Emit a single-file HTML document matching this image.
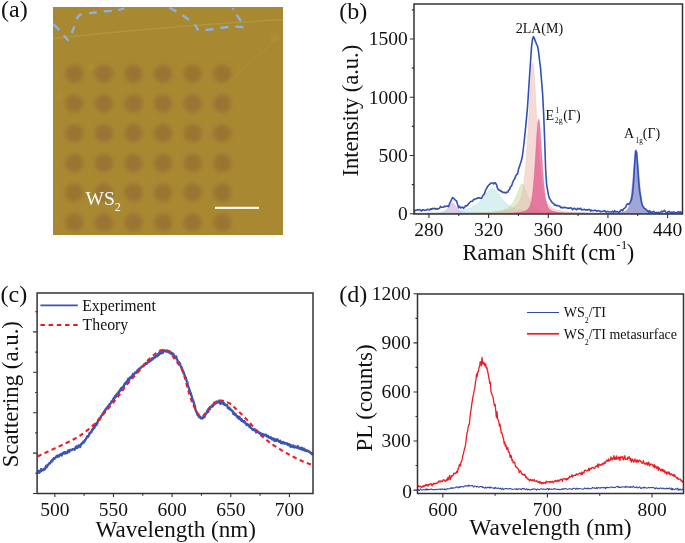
<!DOCTYPE html>
<html><head><meta charset="utf-8"><title>Figure</title>
<style>html,body{margin:0;padding:0;background:#fff;} svg{display:block;}</style></head>
<body><svg style="will-change:transform" width="685" height="543" viewBox="0 0 685 543">
<rect width="685" height="543" fill="#fff"/>
<defs><filter id="bl" x="-50%" y="-50%" width="200%" height="200%"><feGaussianBlur stdDeviation="2.0"/></filter><filter id="bl2" x="-50%" y="-50%" width="200%" height="200%"><feGaussianBlur stdDeviation="0.6"/></filter><clipPath id="ca"><rect x="53" y="7" width="230" height="228"/></clipPath></defs>
<rect x="53" y="7" width="230" height="228" fill="#a88932"/>
<g clip-path="url(#ca)">
<path d="M53,38.6 Q165,26 283,19.6" stroke="#c0a850" stroke-width="1.2" fill="none" opacity="0.45" filter="url(#bl2)"/>
<path d="M214,95 L262,52 L280,36" stroke="#bca04e" stroke-width="1" fill="none" opacity="0.35" filter="url(#bl2)"/>
<path d="M259,36 L259.5,235" stroke="#b49a4c" stroke-width="1" fill="none" opacity="0.12" filter="url(#bl2)"/>
<g filter="url(#bl)" fill="#c0b050" opacity="0.35"><circle cx="91.5" cy="67.2" r="2.5"/><circle cx="60.5" cy="96.4" r="2.2"/><circle cx="273.6" cy="37.4" r="2.5"/></g>
<g filter="url(#bl)" fill="#9a7432">
<circle cx="74.3" cy="73.8" r="9.2"/>
<circle cx="103.9" cy="73.8" r="9.2"/>
<circle cx="133.5" cy="73.8" r="9.2"/>
<circle cx="163.10000000000002" cy="73.8" r="9.2"/>
<circle cx="192.7" cy="73.8" r="9.2"/>
<circle cx="222.3" cy="73.8" r="9.2"/>
<circle cx="74.3" cy="103.53999999999999" r="9.2"/>
<circle cx="103.9" cy="103.53999999999999" r="9.2"/>
<circle cx="133.5" cy="103.53999999999999" r="9.2"/>
<circle cx="163.10000000000002" cy="103.53999999999999" r="9.2"/>
<circle cx="192.7" cy="103.53999999999999" r="9.2"/>
<circle cx="222.3" cy="103.53999999999999" r="9.2"/>
<circle cx="74.3" cy="133.28" r="9.2"/>
<circle cx="103.9" cy="133.28" r="9.2"/>
<circle cx="133.5" cy="133.28" r="9.2"/>
<circle cx="163.10000000000002" cy="133.28" r="9.2"/>
<circle cx="192.7" cy="133.28" r="9.2"/>
<circle cx="222.3" cy="133.28" r="9.2"/>
<circle cx="74.3" cy="163.01999999999998" r="9.2"/>
<circle cx="103.9" cy="163.01999999999998" r="9.2"/>
<circle cx="133.5" cy="163.01999999999998" r="9.2"/>
<circle cx="163.10000000000002" cy="163.01999999999998" r="9.2"/>
<circle cx="192.7" cy="163.01999999999998" r="9.2"/>
<circle cx="222.3" cy="163.01999999999998" r="9.2"/>
<circle cx="74.3" cy="192.76" r="9.2"/>
<circle cx="103.9" cy="192.76" r="9.2"/>
<circle cx="133.5" cy="192.76" r="9.2"/>
<circle cx="163.10000000000002" cy="192.76" r="9.2"/>
<circle cx="192.7" cy="192.76" r="9.2"/>
<circle cx="222.3" cy="192.76" r="9.2"/>
<circle cx="74.3" cy="222.5" r="9.2"/>
<circle cx="103.9" cy="222.5" r="9.2"/>
<circle cx="133.5" cy="222.5" r="9.2"/>
<circle cx="163.10000000000002" cy="222.5" r="9.2"/>
<circle cx="192.7" cy="222.5" r="9.2"/>
<circle cx="222.3" cy="222.5" r="9.2"/>
</g>
<path d="M53.4,24.1 L59.3,30 M63.7,35.2 L68.5,40.7 M71.8,33 L74.4,26.4 M76.6,19 Q78.2,15.4 81.7,14.2 M89.1,13.1 L96.8,12.4 M103.8,11.4 L111.7,10.8 M118.4,10 L124.2,8.3 M169.4,7.7 L176.5,11.5 M182.4,15.1 L188.9,19.8 M194.5,24.5 Q196.6,26.6 197.4,28.9 L198.3,30.4 M205.5,30 L213.5,29.1 M220.4,28 L228.5,26.9 M235.4,26.7 L243.4,27.1 M240.9,21.2 L236.5,14.7 M233.6,8.3 L232.6,9.6" stroke="#8ab2ea" stroke-width="2.3" fill="none" stroke-linecap="butt" filter="url(#bl2)"/>
</g>
<text x="85.5" y="204.5" font-family='"Liberation Serif", serif' font-size="19.5" fill="#fff">WS<tspan font-size="12" dy="6">2</tspan></text>
<rect x="215" y="206.8" width="44" height="2.1" fill="#fff"/>
<text x="1.0" y="17.2" font-family='"Liberation Serif", serif' font-size="24" fill="#111">(a)</text>
<text x="339.3" y="18.6" font-family='"Liberation Serif", serif' font-size="24" fill="#111">(b)</text>
<text x="0.6" y="301.8" font-family='"Liberation Serif", serif' font-size="24" fill="#111">(c)</text>
<text x="339.3" y="301.8" font-family='"Liberation Serif", serif' font-size="24" fill="#111">(d)</text>
<defs><clipPath id="cb"><rect x="413.8" y="4" width="268.6" height="209.8"/></clipPath></defs>
<g clip-path="url(#cb)">
<path d="M414.00,213.38 L414.30,213.37 L414.60,213.37 L414.90,213.37 L415.19,213.37 L415.49,213.37 L415.79,213.36 L416.09,213.36 L416.39,213.36 L416.69,213.36 L416.99,213.36 L417.29,213.36 L417.58,213.35 L417.88,213.35 L418.18,213.35 L418.48,213.35 L418.78,213.35 L419.08,213.34 L419.38,213.34 L419.67,213.34 L419.97,213.34 L420.27,213.34 L420.57,213.33 L420.87,213.33 L421.17,213.33 L421.47,213.33 L421.77,213.33 L422.06,213.33 L422.36,213.32 L422.66,213.32 L422.96,213.32 L423.26,213.32 L423.56,213.32 L423.86,213.31 L424.15,213.31 L424.45,213.31 L424.75,213.31 L425.05,213.30 L425.35,213.30 L425.65,213.30 L425.95,213.30 L426.25,213.30 L426.54,213.29 L426.84,213.29 L427.14,213.29 L427.44,213.29 L427.74,213.29 L428.04,213.28 L428.34,213.28 L428.63,213.28 L428.93,213.28 L429.23,213.27 L429.53,213.27 L429.83,213.27 L430.13,213.27 L430.43,213.26 L430.73,213.26 L431.02,213.26 L431.32,213.26 L431.62,213.26 L431.92,213.25 L432.22,213.25 L432.52,213.25 L432.82,213.25 L433.11,213.24 L433.41,213.24 L433.71,213.24 L434.01,213.24 L434.31,213.23 L434.61,213.23 L434.91,213.23 L435.21,213.23 L435.50,213.22 L435.80,213.22 L436.10,213.22 L436.40,213.22 L436.70,213.21 L437.00,213.21 L437.30,213.21 L437.59,213.21 L437.89,213.20 L438.19,213.20 L438.49,213.20 L438.79,213.19 L439.09,213.19 L439.39,213.19 L439.69,213.19 L439.98,213.18 L440.28,213.18 L440.58,213.18 L440.88,213.18 L441.18,213.17 L441.48,213.17 L441.78,213.17 L442.07,213.16 L442.37,213.16 L442.67,213.16 L442.97,213.15 L443.27,213.15 L443.57,213.15 L443.87,213.15 L444.17,213.14 L444.46,213.14 L444.76,213.14 L445.06,213.13 L445.36,213.13 L445.66,213.13 L445.96,213.12 L446.26,213.12 L446.55,213.12 L446.85,213.12 L447.15,213.11 L447.45,213.11 L447.75,213.11 L448.05,213.10 L448.35,213.10 L448.65,213.10 L448.94,213.09 L449.24,213.09 L449.54,213.09 L449.84,213.08 L450.14,213.08 L450.44,213.08 L450.74,213.07 L451.03,213.07 L451.33,213.07 L451.63,213.06 L451.93,213.06 L452.23,213.06 L452.53,213.05 L452.83,213.05 L453.13,213.05 L453.42,213.04 L453.72,213.04 L454.02,213.03 L454.32,213.03 L454.62,213.03 L454.92,213.02 L455.22,213.02 L455.51,213.02 L455.81,213.01 L456.11,213.01 L456.41,213.01 L456.71,213.00 L457.01,213.00 L457.31,212.99 L457.61,212.99 L457.90,212.99 L458.20,212.98 L458.50,212.98 L458.80,212.98 L459.10,212.97 L459.40,212.97 L459.70,212.96 L459.99,212.96 L460.29,212.96 L460.59,212.95 L460.89,212.95 L461.19,212.94 L461.49,212.94 L461.79,212.94 L462.09,212.93 L462.38,212.93 L462.68,212.92 L462.98,212.92 L463.28,212.91 L463.58,212.91 L463.88,212.91 L464.18,212.90 L464.47,212.90 L464.77,212.89 L465.07,212.89 L465.37,212.89 L465.67,212.88 L465.97,212.88 L466.27,212.87 L466.57,212.87 L466.86,212.86 L467.16,212.86 L467.46,212.85 L467.76,212.85 L468.06,212.85 L468.36,212.84 L468.66,212.84 L468.95,212.83 L469.25,212.83 L469.55,212.82 L469.85,212.82 L470.15,212.81 L470.45,212.81 L470.75,212.80 L471.05,212.80 L471.34,212.80 L471.64,212.79 L471.94,212.79 L472.24,212.78 L472.54,212.78 L472.84,212.77 L473.14,212.77 L473.43,212.76 L473.73,212.76 L474.03,212.75 L474.33,212.75 L474.63,212.74 L474.93,212.74 L475.23,212.73 L475.53,212.73 L475.82,212.72 L476.12,212.72 L476.42,212.71 L476.72,212.71 L477.02,212.70 L477.32,212.70 L477.62,212.69 L477.91,212.69 L478.21,212.68 L478.51,212.68 L478.81,212.67 L479.11,212.67 L479.41,212.66 L479.71,212.66 L480.01,212.65 L480.30,212.65 L480.60,212.64 L480.90,212.64 L481.20,212.63 L481.50,212.63 L481.80,212.62 L482.10,212.62 L482.39,212.61 L482.69,212.61 L482.99,212.60 L483.29,212.60 L483.59,212.59 L483.89,212.58 L484.19,212.58 L484.48,212.57 L484.78,212.57 L485.08,212.56 L485.38,212.56 L485.68,212.55 L485.98,212.55 L486.28,212.54 L486.58,212.54 L486.87,212.53 L487.17,212.53 L487.47,212.52 L487.77,212.52 L488.07,212.51 L488.37,212.50 L488.67,212.50 L488.96,212.49 L489.26,212.49 L489.56,212.48 L489.86,212.48 L490.16,212.47 L490.46,212.47 L490.76,212.46 L491.06,212.46 L491.35,212.45 L491.65,212.45 L491.95,212.44 L492.25,212.44 L492.55,212.43 L492.85,212.42 L493.15,212.42 L493.44,212.41 L493.74,212.41 L494.04,212.40 L494.34,212.40 L494.64,212.39 L494.94,212.39 L495.24,212.38 L495.54,212.38 L495.83,212.37 L496.13,212.37 L496.43,212.36 L496.73,212.36 L497.03,212.35 L497.33,212.35 L497.63,212.34 L497.92,212.34 L498.22,212.33 L498.52,212.33 L498.82,212.32 L499.12,212.32 L499.42,212.31 L499.72,212.31 L500.02,212.30 L500.31,212.30 L500.61,212.29 L500.91,212.29 L501.21,212.28 L501.51,212.28 L501.81,212.27 L502.11,212.27 L502.40,212.26 L502.70,212.26 L503.00,212.25 L503.30,212.25 L503.60,212.24 L503.90,212.24 L504.20,212.23 L504.50,212.23 L504.79,212.23 L505.09,212.22 L505.39,212.22 L505.69,212.21 L505.99,212.21 L506.29,212.20 L506.59,212.20 L506.88,212.20 L507.18,212.19 L507.48,212.19 L507.78,212.18 L508.08,212.18 L508.38,212.18 L508.68,212.17 L508.98,212.17 L509.27,212.16 L509.57,212.16 L509.87,212.16 L510.17,212.15 L510.47,212.15 L510.77,212.15 L511.07,212.14 L511.36,212.14 L511.66,212.14 L511.96,212.13 L512.26,212.13 L512.56,212.13 L512.86,212.12 L513.16,212.12 L513.46,212.12 L513.75,212.11 L514.05,212.11 L514.35,212.11 L514.65,212.10 L514.95,212.10 L515.25,212.10 L515.55,212.10 L515.84,212.09 L516.14,212.09 L516.44,212.09 L516.74,212.09 L517.04,212.08 L517.34,212.08 L517.64,212.08 L517.94,212.08 L518.23,212.08 L518.53,212.07 L518.83,212.07 L519.13,212.07 L519.43,212.07 L519.73,212.07 L520.03,212.07 L520.32,212.06 L520.62,212.06 L520.92,212.06 L521.22,212.06 L521.52,212.06 L521.82,212.06 L522.12,212.06 L522.42,212.06 L522.71,212.06 L523.01,212.06 L523.31,212.05 L523.61,212.05 L523.91,212.05 L524.21,212.05 L524.51,212.05 L524.80,212.05 L525.10,212.05 L525.40,212.05 L525.70,212.05 L526.00,212.05 L526.30,212.05 L526.60,212.05 L526.90,212.05 L527.19,212.05 L527.49,212.05 L527.79,212.05 L528.09,212.05 L528.39,212.05 L528.69,212.06 L528.99,212.06 L529.28,212.06 L529.58,212.06 L529.88,212.06 L530.18,212.06 L530.48,212.06 L530.78,212.06 L531.08,212.06 L531.38,212.06 L531.67,212.07 L531.97,212.07 L532.27,212.07 L532.57,212.07 L532.87,212.07 L533.17,212.07 L533.47,212.08 L533.76,212.08 L534.06,212.08 L534.36,212.08 L534.66,212.08 L534.96,212.09 L535.26,212.09 L535.56,212.09 L535.86,212.09 L536.15,212.10 L536.45,212.10 L536.75,212.10 L537.05,212.10 L537.35,212.11 L537.65,212.11 L537.95,212.11 L538.24,212.12 L538.54,212.12 L538.84,212.12 L539.14,212.13 L539.44,212.13 L539.74,212.13 L540.04,212.13 L540.34,212.14 L540.63,212.14 L540.93,212.15 L541.23,212.15 L541.53,212.15 L541.83,212.16 L542.13,212.16 L542.43,212.16 L542.72,212.17 L543.02,212.17 L543.32,212.17 L543.62,212.18 L543.92,212.18 L544.22,212.19 L544.52,212.19 L544.82,212.19 L545.11,212.20 L545.41,212.20 L545.71,212.21 L546.01,212.21 L546.31,212.22 L546.61,212.22 L546.91,212.22 L547.20,212.23 L547.50,212.23 L547.80,212.24 L548.10,212.24 L548.40,212.25 L548.70,212.25 L549.00,212.26 L549.30,212.26 L549.59,212.27 L549.89,212.27 L550.19,212.28 L550.49,212.28 L550.79,212.29 L551.09,212.29 L551.39,212.30 L551.68,212.30 L551.98,212.31 L552.28,212.31 L552.58,212.32 L552.88,212.32 L553.18,212.33 L553.48,212.33 L553.78,212.34 L554.07,212.34 L554.37,212.35 L554.67,212.35 L554.97,212.36 L555.27,212.36 L555.57,212.37 L555.87,212.37 L556.16,212.38 L556.46,212.38 L556.76,212.39 L557.06,212.39 L557.36,212.40 L557.66,212.40 L557.96,212.41 L558.26,212.41 L558.55,212.42 L558.85,212.42 L559.15,212.43 L559.45,212.43 L559.75,212.44 L560.05,212.45 L560.35,212.45 L560.64,212.46 L560.94,212.46 L561.24,212.47 L561.54,212.47 L561.84,212.48 L562.14,212.48 L562.44,212.49 L562.74,212.49 L563.03,212.50 L563.33,212.50 L563.63,212.51 L563.93,212.51 L564.23,212.52 L564.53,212.53 L564.83,212.53 L565.12,212.54 L565.42,212.54 L565.72,212.55 L566.02,212.55 L566.32,212.56 L566.62,212.56 L566.92,212.57 L567.22,212.57 L567.51,212.58 L567.81,212.58 L568.11,212.59 L568.41,212.59 L568.71,212.60 L569.01,212.60 L569.31,212.61 L569.60,212.62 L569.90,212.62 L570.20,212.63 L570.50,212.63 L570.80,212.64 L571.10,212.64 L571.40,212.65 L571.70,212.65 L571.99,212.66 L572.29,212.66 L572.59,212.67 L572.89,212.67 L573.19,212.68 L573.49,212.68 L573.79,212.69 L574.08,212.69 L574.38,212.70 L574.68,212.70 L574.98,212.71 L575.28,212.71 L575.58,212.72 L575.88,212.72 L576.18,212.73 L576.47,212.73 L576.77,212.74 L577.07,212.74 L577.37,212.75 L577.67,212.75 L577.97,212.76 L578.27,212.76 L578.56,212.77 L578.86,212.77 L579.16,212.78 L579.46,212.78 L579.76,212.78 L580.06,212.79 L580.36,212.79 L580.66,212.80 L580.95,212.80 L581.25,212.81 L581.55,212.81 L581.85,212.82 L582.15,212.82 L582.45,212.83 L582.75,212.83 L583.04,212.84 L583.34,212.84 L583.64,212.84 L583.94,212.85 L584.24,212.85 L584.54,212.86 L584.84,212.86 L585.14,212.87 L585.43,212.87 L585.73,212.88 L586.03,212.88 L586.33,212.88 L586.63,212.89 L586.93,212.89 L587.23,212.90 L587.52,212.90 L587.82,212.91 L588.12,212.91 L588.42,212.91 L588.72,212.92 L589.02,212.92 L589.32,212.93 L589.62,212.93 L589.91,212.93 L590.21,212.94 L590.51,212.94 L590.81,212.95 L591.11,212.95 L591.41,212.95 L591.71,212.96 L592.00,212.96 L592.30,212.97 L592.60,212.97 L592.90,212.97 L593.20,212.98 L593.50,212.98 L593.80,212.99 L594.10,212.99 L594.39,212.99 L594.69,213.00 L594.99,213.00 L595.29,213.00 L595.59,213.01 L595.89,213.01 L596.19,213.02 L596.48,213.02 L596.78,213.02 L597.08,213.03 L597.38,213.03 L597.68,213.03 L597.98,213.04 L598.28,213.04 L598.58,213.04 L598.87,213.05 L599.17,213.05 L599.47,213.06 L599.77,213.06 L600.07,213.06 L600.37,213.07 L600.67,213.07 L600.96,213.07 L601.26,213.08 L601.56,213.08 L601.86,213.08 L602.16,213.09 L602.46,213.09 L602.76,213.09 L603.06,213.10 L603.35,213.10 L603.65,213.10 L603.95,213.11 L604.25,213.11 L604.55,213.11 L604.85,213.11 L605.15,213.12 L605.44,213.12 L605.74,213.12 L606.04,213.13 L606.34,213.13 L606.64,213.13 L606.94,213.14 L607.24,213.14 L607.54,213.14 L607.83,213.15 L608.13,213.15 L608.43,213.15 L608.73,213.15 L609.03,213.16 L609.33,213.16 L609.63,213.16 L609.92,213.17 L610.22,213.17 L610.52,213.17 L610.82,213.17 L611.12,213.18 L611.42,213.18 L611.72,213.18 L612.02,213.19 L612.31,213.19 L612.61,213.19 L612.91,213.19 L613.21,213.20 L613.51,213.20 L613.81,213.20 L614.11,213.20 L614.40,213.21 L614.70,213.21 L615.00,213.21 L615.30,213.22 L615.60,213.22 L615.90,213.22 L616.20,213.22 L616.49,213.23 L616.79,213.23 L617.09,213.23 L617.39,213.23 L617.69,213.24 L617.99,213.24 L618.29,213.24 L618.59,213.24 L618.88,213.25 L619.18,213.25 L619.48,213.25 L619.78,213.25 L620.08,213.26 L620.38,213.26 L620.68,213.26 L620.97,213.26 L621.27,213.26 L621.57,213.27 L621.87,213.27 L622.17,213.27 L622.47,213.27 L622.77,213.28 L623.07,213.28 L623.36,213.28 L623.66,213.28 L623.96,213.28 L624.26,213.29 L624.56,213.29 L624.86,213.29 L625.16,213.29 L625.45,213.30 L625.75,213.30 L626.05,213.30 L626.35,213.30 L626.65,213.30 L626.95,213.31 L627.25,213.31 L627.55,213.31 L627.84,213.31 L628.14,213.31 L628.44,213.32 L628.74,213.32 L629.04,213.32 L629.34,213.32 L629.64,213.32 L629.93,213.33 L630.23,213.33 L630.53,213.33 L630.83,213.33 L631.13,213.33 L631.43,213.34 L631.73,213.34 L632.03,213.34 L632.32,213.34 L632.62,213.34 L632.92,213.35 L633.22,213.35 L633.52,213.35 L633.82,213.35 L634.12,213.35 L634.41,213.36 L634.71,213.36 L635.01,213.36 L635.31,213.36 L635.61,213.36 L635.91,213.36 L636.21,213.37 L636.51,213.37 L636.80,213.37 L637.10,213.37 L637.40,213.37 L637.70,213.37 L638.00,213.38 L638.30,213.38 L638.60,213.38 L638.89,213.38 L639.19,213.38 L639.49,213.38 L639.79,213.39 L640.09,213.39 L640.39,213.39 L640.69,213.39 L640.99,213.39 L641.28,213.39 L641.58,213.40 L641.88,213.40 L642.18,213.40 L642.48,213.40 L642.78,213.40 L643.08,213.40 L643.37,213.41 L643.67,213.41 L643.97,213.41 L644.27,213.41 L644.57,213.41 L644.87,213.41 L645.17,213.41 L645.47,213.42 L645.76,213.42 L646.06,213.42 L646.36,213.42 L646.66,213.42 L646.96,213.42 L647.26,213.43 L647.56,213.43 L647.85,213.43 L648.15,213.43 L648.45,213.43 L648.75,213.43 L649.05,213.43 L649.35,213.44 L649.65,213.44 L649.95,213.44 L650.24,213.44 L650.54,213.44 L650.84,213.44 L651.14,213.44 L651.44,213.44 L651.74,213.45 L652.04,213.45 L652.33,213.45 L652.63,213.45 L652.93,213.45 L653.23,213.45 L653.53,213.45 L653.83,213.46 L654.13,213.46 L654.43,213.46 L654.72,213.46 L655.02,213.46 L655.32,213.46 L655.62,213.46 L655.92,213.46 L656.22,213.47 L656.52,213.47 L656.81,213.47 L657.11,213.47 L657.41,213.47 L657.71,213.47 L658.01,213.47 L658.31,213.47 L658.61,213.48 L658.91,213.48 L659.20,213.48 L659.50,213.48 L659.80,213.48 L660.10,213.48 L660.40,213.48 L660.70,213.48 L661.00,213.48 L661.29,213.49 L661.59,213.49 L661.89,213.49 L662.19,213.49 L662.49,213.49 L662.79,213.49 L663.09,213.49 L663.39,213.49 L663.68,213.49 L663.98,213.50 L664.28,213.50 L664.58,213.50 L664.88,213.50 L665.18,213.50 L665.48,213.50 L665.77,213.50 L666.07,213.50 L666.37,213.50 L666.67,213.51 L666.97,213.51 L667.27,213.51 L667.57,213.51 L667.87,213.51 L668.16,213.51 L668.46,213.51 L668.76,213.51 L669.06,213.51 L669.36,213.51 L669.66,213.52 L669.96,213.52 L670.25,213.52 L670.55,213.52 L670.85,213.52 L671.15,213.52 L671.45,213.52 L671.75,213.52 L672.05,213.52 L672.35,213.52 L672.64,213.53 L672.94,213.53 L673.24,213.53 L673.54,213.53 L673.84,213.53 L674.14,213.53 L674.44,213.53 L674.73,213.53 L675.03,213.53 L675.33,213.53 L675.63,213.53 L675.93,213.54 L676.23,213.54 L676.53,213.54 L676.83,213.54 L677.12,213.54 L677.42,213.54 L677.72,213.54 L678.02,213.54 L678.32,213.54 L678.62,213.54 L678.92,213.54 L679.21,213.54 L679.51,213.55 L679.81,213.55 L680.11,213.55 L680.41,213.55 L680.71,213.55 L681.01,213.55 L681.31,213.55 L681.60,213.55 L681.90,213.55 L682.20,213.55 L682.50,213.55 L682.50,213.80 L414.00,213.80 Z" fill="#8c7898" fill-opacity="0.45" stroke="#8c7898" stroke-opacity="0.6" stroke-width="0.5"/>
<path d="M414.00,213.65 L414.30,213.65 L414.60,213.64 L414.90,213.64 L415.19,213.64 L415.49,213.64 L415.79,213.63 L416.09,213.63 L416.39,213.63 L416.69,213.63 L416.99,213.62 L417.29,213.62 L417.58,213.62 L417.88,213.61 L418.18,213.61 L418.48,213.61 L418.78,213.60 L419.08,213.60 L419.38,213.60 L419.67,213.59 L419.97,213.59 L420.27,213.59 L420.57,213.58 L420.87,213.58 L421.17,213.57 L421.47,213.57 L421.77,213.57 L422.06,213.56 L422.36,213.56 L422.66,213.55 L422.96,213.55 L423.26,213.54 L423.56,213.54 L423.86,213.53 L424.15,213.53 L424.45,213.52 L424.75,213.51 L425.05,213.51 L425.35,213.50 L425.65,213.50 L425.95,213.49 L426.25,213.48 L426.54,213.47 L426.84,213.47 L427.14,213.46 L427.44,213.45 L427.74,213.44 L428.04,213.43 L428.34,213.43 L428.63,213.42 L428.93,213.41 L429.23,213.40 L429.53,213.39 L429.83,213.38 L430.13,213.37 L430.43,213.36 L430.73,213.34 L431.02,213.33 L431.32,213.32 L431.62,213.31 L431.92,213.29 L432.22,213.28 L432.52,213.26 L432.82,213.25 L433.11,213.23 L433.41,213.21 L433.71,213.20 L434.01,213.18 L434.31,213.16 L434.61,213.14 L434.91,213.12 L435.21,213.10 L435.50,213.07 L435.80,213.05 L436.10,213.02 L436.40,213.00 L436.70,212.97 L437.00,212.94 L437.30,212.91 L437.59,212.87 L437.89,212.84 L438.19,212.80 L438.49,212.76 L438.79,212.72 L439.09,212.68 L439.39,212.63 L439.69,212.58 L439.98,212.53 L440.28,212.47 L440.58,212.41 L440.88,212.35 L441.18,212.28 L441.48,212.20 L441.78,212.12 L442.07,212.04 L442.37,211.94 L442.67,211.84 L442.97,211.74 L443.27,211.62 L443.57,211.50 L443.87,211.36 L444.17,211.21 L444.46,211.06 L444.76,210.89 L445.06,210.70 L445.36,210.51 L445.66,210.29 L445.96,210.06 L446.26,209.82 L446.55,209.55 L446.85,209.27 L447.15,208.97 L447.45,208.65 L447.75,208.31 L448.05,207.95 L448.35,207.57 L448.65,207.18 L448.94,206.77 L449.24,206.35 L449.54,205.92 L449.84,205.49 L450.14,205.07 L450.44,204.66 L450.74,204.28 L451.03,203.93 L451.33,203.63 L451.63,203.39 L451.93,203.21 L452.23,203.11 L452.53,203.08 L452.83,203.13 L453.13,203.26 L453.42,203.45 L453.72,203.71 L454.02,204.03 L454.32,204.39 L454.62,204.78 L454.92,205.19 L455.22,205.61 L455.51,206.04 L455.81,206.47 L456.11,206.88 L456.41,207.29 L456.71,207.68 L457.01,208.05 L457.31,208.41 L457.61,208.74 L457.90,209.06 L458.20,209.35 L458.50,209.63 L458.80,209.89 L459.10,210.13 L459.40,210.36 L459.70,210.56 L459.99,210.76 L460.29,210.94 L460.59,211.10 L460.89,211.26 L461.19,211.40 L461.49,211.53 L461.79,211.65 L462.09,211.77 L462.38,211.87 L462.68,211.97 L462.98,212.06 L463.28,212.15 L463.58,212.22 L463.88,212.30 L464.18,212.36 L464.47,212.43 L464.77,212.49 L465.07,212.54 L465.37,212.60 L465.67,212.64 L465.97,212.69 L466.27,212.73 L466.57,212.77 L466.86,212.81 L467.16,212.85 L467.46,212.88 L467.76,212.92 L468.06,212.95 L468.36,212.98 L468.66,213.00 L468.95,213.03 L469.25,213.06 L469.55,213.08 L469.85,213.10 L470.15,213.12 L470.45,213.14 L470.75,213.16 L471.05,213.18 L471.34,213.20 L471.64,213.22 L471.94,213.24 L472.24,213.25 L472.54,213.27 L472.84,213.28 L473.14,213.30 L473.43,213.31 L473.73,213.32 L474.03,213.33 L474.33,213.35 L474.63,213.36 L474.93,213.37 L475.23,213.38 L475.53,213.39 L475.82,213.40 L476.12,213.41 L476.42,213.42 L476.72,213.43 L477.02,213.44 L477.32,213.45 L477.62,213.45 L477.91,213.46 L478.21,213.47 L478.51,213.48 L478.81,213.48 L479.11,213.49 L479.41,213.50 L479.71,213.50 L480.01,213.51 L480.30,213.52 L480.60,213.52 L480.90,213.53 L481.20,213.53 L481.50,213.54 L481.80,213.54 L482.10,213.55 L482.39,213.55 L482.69,213.56 L482.99,213.56 L483.29,213.57 L483.59,213.57 L483.89,213.58 L484.19,213.58 L484.48,213.58 L484.78,213.59 L485.08,213.59 L485.38,213.59 L485.68,213.60 L485.98,213.60 L486.28,213.61 L486.58,213.61 L486.87,213.61 L487.17,213.62 L487.47,213.62 L487.77,213.62 L488.07,213.62 L488.37,213.63 L488.67,213.63 L488.96,213.63 L489.26,213.64 L489.56,213.64 L489.86,213.64 L490.16,213.64 L490.46,213.65 L490.76,213.65 L491.06,213.65 L491.35,213.65 L491.65,213.65 L491.95,213.66 L492.25,213.66 L492.55,213.66 L492.85,213.66 L493.15,213.66 L493.44,213.67 L493.74,213.67 L494.04,213.67 L494.34,213.67 L494.64,213.67 L494.94,213.68 L495.24,213.68 L495.54,213.68 L495.83,213.68 L496.13,213.68 L496.43,213.68 L496.73,213.69 L497.03,213.69 L497.33,213.69 L497.63,213.69 L497.92,213.69 L498.22,213.69 L498.52,213.69 L498.82,213.70 L499.12,213.70 L499.42,213.70 L499.72,213.70 L500.02,213.70 L500.31,213.70 L500.61,213.70 L500.91,213.70 L501.21,213.71 L501.51,213.71 L501.81,213.71 L502.11,213.71 L502.40,213.71 L502.70,213.71 L503.00,213.71 L503.30,213.71 L503.60,213.71 L503.90,213.71 L504.20,213.72 L504.50,213.72 L504.79,213.72 L505.09,213.72 L505.39,213.72 L505.69,213.72 L505.99,213.72 L506.29,213.72 L506.59,213.72 L506.88,213.72 L507.18,213.72 L507.48,213.73 L507.78,213.73 L508.08,213.73 L508.38,213.73 L508.68,213.73 L508.98,213.73 L509.27,213.73 L509.57,213.73 L509.87,213.73 L510.17,213.73 L510.47,213.73 L510.77,213.73 L511.07,213.73 L511.36,213.74 L511.66,213.74 L511.96,213.74 L512.26,213.74 L512.56,213.74 L512.86,213.74 L513.16,213.74 L513.46,213.74 L513.75,213.74 L514.05,213.74 L514.35,213.74 L514.65,213.74 L514.95,213.74 L515.25,213.74 L515.55,213.74 L515.84,213.74 L516.14,213.74 L516.44,213.74 L516.74,213.75 L517.04,213.75 L517.34,213.75 L517.64,213.75 L517.94,213.75 L518.23,213.75 L518.53,213.75 L518.83,213.75 L519.13,213.75 L519.43,213.75 L519.73,213.75 L520.03,213.75 L520.32,213.75 L520.62,213.75 L520.92,213.75 L521.22,213.75 L521.52,213.75 L521.82,213.75 L522.12,213.75 L522.42,213.75 L522.71,213.75 L523.01,213.75 L523.31,213.75 L523.61,213.76 L523.91,213.76 L524.21,213.76 L524.51,213.76 L524.80,213.76 L525.10,213.76 L525.40,213.76 L525.70,213.76 L526.00,213.76 L526.30,213.76 L526.60,213.76 L526.90,213.76 L527.19,213.76 L527.49,213.76 L527.79,213.76 L528.09,213.76 L528.39,213.76 L528.69,213.76 L528.99,213.76 L529.28,213.76 L529.58,213.76 L529.88,213.76 L530.18,213.76 L530.48,213.76 L530.78,213.76 L531.08,213.76 L531.38,213.76 L531.67,213.76 L531.97,213.76 L532.27,213.76 L532.57,213.76 L532.87,213.77 L533.17,213.77 L533.47,213.77 L533.76,213.77 L534.06,213.77 L534.36,213.77 L534.66,213.77 L534.96,213.77 L535.26,213.77 L535.56,213.77 L535.86,213.77 L536.15,213.77 L536.45,213.77 L536.75,213.77 L537.05,213.77 L537.35,213.77 L537.65,213.77 L537.95,213.77 L538.24,213.77 L538.54,213.77 L538.84,213.77 L539.14,213.77 L539.44,213.77 L539.74,213.77 L540.04,213.77 L540.34,213.77 L540.63,213.77 L540.93,213.77 L541.23,213.77 L541.53,213.77 L541.83,213.77 L542.13,213.77 L542.43,213.77 L542.72,213.77 L543.02,213.77 L543.32,213.77 L543.62,213.77 L543.92,213.77 L544.22,213.77 L544.52,213.77 L544.82,213.77 L545.11,213.77 L545.41,213.77 L545.71,213.77 L546.01,213.77 L546.31,213.77 L546.61,213.77 L546.91,213.77 L547.20,213.77 L547.50,213.77 L547.80,213.78 L548.10,213.78 L548.40,213.78 L548.70,213.78 L549.00,213.78 L549.30,213.78 L549.59,213.78 L549.89,213.78 L550.19,213.78 L550.49,213.78 L550.79,213.78 L551.09,213.78 L551.39,213.78 L551.68,213.78 L551.98,213.78 L552.28,213.78 L552.58,213.78 L552.88,213.78 L553.18,213.78 L553.48,213.78 L553.78,213.78 L554.07,213.78 L554.37,213.78 L554.67,213.78 L554.97,213.78 L555.27,213.78 L555.57,213.78 L555.87,213.78 L556.16,213.78 L556.46,213.78 L556.76,213.78 L557.06,213.78 L557.36,213.78 L557.66,213.78 L557.96,213.78 L558.26,213.78 L558.55,213.78 L558.85,213.78 L559.15,213.78 L559.45,213.78 L559.75,213.78 L560.05,213.78 L560.35,213.78 L560.64,213.78 L560.94,213.78 L561.24,213.78 L561.54,213.78 L561.84,213.78 L562.14,213.78 L562.44,213.78 L562.74,213.78 L563.03,213.78 L563.33,213.78 L563.63,213.78 L563.93,213.78 L564.23,213.78 L564.53,213.78 L564.83,213.78 L565.12,213.78 L565.42,213.78 L565.72,213.78 L566.02,213.78 L566.32,213.78 L566.62,213.78 L566.92,213.78 L567.22,213.78 L567.51,213.78 L567.81,213.78 L568.11,213.78 L568.41,213.78 L568.71,213.78 L569.01,213.78 L569.31,213.78 L569.60,213.78 L569.90,213.78 L570.20,213.78 L570.50,213.78 L570.80,213.78 L571.10,213.78 L571.40,213.78 L571.70,213.78 L571.99,213.78 L572.29,213.78 L572.59,213.78 L572.89,213.78 L573.19,213.78 L573.49,213.78 L573.79,213.78 L574.08,213.78 L574.38,213.78 L574.68,213.78 L574.98,213.78 L575.28,213.78 L575.58,213.79 L575.88,213.79 L576.18,213.79 L576.47,213.79 L576.77,213.79 L577.07,213.79 L577.37,213.79 L577.67,213.79 L577.97,213.79 L578.27,213.79 L578.56,213.79 L578.86,213.79 L579.16,213.79 L579.46,213.79 L579.76,213.79 L580.06,213.79 L580.36,213.79 L580.66,213.79 L580.95,213.79 L581.25,213.79 L581.55,213.79 L581.85,213.79 L582.15,213.79 L582.45,213.79 L582.75,213.79 L583.04,213.79 L583.34,213.79 L583.64,213.79 L583.94,213.79 L584.24,213.79 L584.54,213.79 L584.84,213.79 L585.14,213.79 L585.43,213.79 L585.73,213.79 L586.03,213.79 L586.33,213.79 L586.63,213.79 L586.93,213.79 L587.23,213.79 L587.52,213.79 L587.82,213.79 L588.12,213.79 L588.42,213.79 L588.72,213.79 L589.02,213.79 L589.32,213.79 L589.62,213.79 L589.91,213.79 L590.21,213.79 L590.51,213.79 L590.81,213.79 L591.11,213.79 L591.41,213.79 L591.71,213.79 L592.00,213.79 L592.30,213.79 L592.60,213.79 L592.90,213.79 L593.20,213.79 L593.50,213.79 L593.80,213.79 L594.10,213.79 L594.39,213.79 L594.69,213.79 L594.99,213.79 L595.29,213.79 L595.59,213.79 L595.89,213.79 L596.19,213.79 L596.48,213.79 L596.78,213.79 L597.08,213.79 L597.38,213.79 L597.68,213.79 L597.98,213.79 L598.28,213.79 L598.58,213.79 L598.87,213.79 L599.17,213.79 L599.47,213.79 L599.77,213.79 L600.07,213.79 L600.37,213.79 L600.67,213.79 L600.96,213.79 L601.26,213.79 L601.56,213.79 L601.86,213.79 L602.16,213.79 L602.46,213.79 L602.76,213.79 L603.06,213.79 L603.35,213.79 L603.65,213.79 L603.95,213.79 L604.25,213.79 L604.55,213.79 L604.85,213.79 L605.15,213.79 L605.44,213.79 L605.74,213.79 L606.04,213.79 L606.34,213.79 L606.64,213.79 L606.94,213.79 L607.24,213.79 L607.54,213.79 L607.83,213.79 L608.13,213.79 L608.43,213.79 L608.73,213.79 L609.03,213.79 L609.33,213.79 L609.63,213.79 L609.92,213.79 L610.22,213.79 L610.52,213.79 L610.82,213.79 L611.12,213.79 L611.42,213.79 L611.72,213.79 L612.02,213.79 L612.31,213.79 L612.61,213.79 L612.91,213.79 L613.21,213.79 L613.51,213.79 L613.81,213.79 L614.11,213.79 L614.40,213.79 L614.70,213.79 L615.00,213.79 L615.30,213.79 L615.60,213.79 L615.90,213.79 L616.20,213.79 L616.49,213.79 L616.79,213.79 L617.09,213.79 L617.39,213.79 L617.69,213.79 L617.99,213.79 L618.29,213.79 L618.59,213.79 L618.88,213.79 L619.18,213.79 L619.48,213.79 L619.78,213.79 L620.08,213.79 L620.38,213.79 L620.68,213.79 L620.97,213.79 L621.27,213.79 L621.57,213.79 L621.87,213.79 L622.17,213.79 L622.47,213.79 L622.77,213.79 L623.07,213.79 L623.36,213.79 L623.66,213.79 L623.96,213.79 L624.26,213.79 L624.56,213.79 L624.86,213.79 L625.16,213.79 L625.45,213.79 L625.75,213.79 L626.05,213.79 L626.35,213.79 L626.65,213.79 L626.95,213.79 L627.25,213.79 L627.55,213.79 L627.84,213.79 L628.14,213.79 L628.44,213.79 L628.74,213.79 L629.04,213.79 L629.34,213.79 L629.64,213.79 L629.93,213.79 L630.23,213.79 L630.53,213.79 L630.83,213.79 L631.13,213.79 L631.43,213.79 L631.73,213.79 L632.03,213.79 L632.32,213.79 L632.62,213.79 L632.92,213.79 L633.22,213.79 L633.52,213.79 L633.82,213.79 L634.12,213.79 L634.41,213.79 L634.71,213.79 L635.01,213.79 L635.31,213.79 L635.61,213.79 L635.91,213.79 L636.21,213.79 L636.51,213.79 L636.80,213.79 L637.10,213.79 L637.40,213.79 L637.70,213.79 L638.00,213.79 L638.30,213.79 L638.60,213.79 L638.89,213.79 L639.19,213.79 L639.49,213.79 L639.79,213.79 L640.09,213.79 L640.39,213.79 L640.69,213.79 L640.99,213.79 L641.28,213.79 L641.58,213.79 L641.88,213.79 L642.18,213.79 L642.48,213.79 L642.78,213.79 L643.08,213.79 L643.37,213.79 L643.67,213.79 L643.97,213.79 L644.27,213.79 L644.57,213.79 L644.87,213.79 L645.17,213.79 L645.47,213.79 L645.76,213.79 L646.06,213.79 L646.36,213.79 L646.66,213.79 L646.96,213.79 L647.26,213.79 L647.56,213.79 L647.85,213.79 L648.15,213.79 L648.45,213.79 L648.75,213.79 L649.05,213.79 L649.35,213.79 L649.65,213.79 L649.95,213.79 L650.24,213.79 L650.54,213.79 L650.84,213.79 L651.14,213.79 L651.44,213.79 L651.74,213.79 L652.04,213.79 L652.33,213.79 L652.63,213.79 L652.93,213.79 L653.23,213.79 L653.53,213.79 L653.83,213.79 L654.13,213.79 L654.43,213.79 L654.72,213.79 L655.02,213.79 L655.32,213.79 L655.62,213.79 L655.92,213.79 L656.22,213.79 L656.52,213.79 L656.81,213.79 L657.11,213.79 L657.41,213.79 L657.71,213.79 L658.01,213.79 L658.31,213.79 L658.61,213.79 L658.91,213.79 L659.20,213.79 L659.50,213.79 L659.80,213.79 L660.10,213.79 L660.40,213.79 L660.70,213.79 L661.00,213.79 L661.29,213.79 L661.59,213.79 L661.89,213.79 L662.19,213.79 L662.49,213.79 L662.79,213.79 L663.09,213.79 L663.39,213.79 L663.68,213.79 L663.98,213.79 L664.28,213.79 L664.58,213.79 L664.88,213.79 L665.18,213.79 L665.48,213.80 L665.77,213.80 L666.07,213.80 L666.37,213.80 L666.67,213.80 L666.97,213.80 L667.27,213.80 L667.57,213.80 L667.87,213.80 L668.16,213.80 L668.46,213.80 L668.76,213.80 L669.06,213.80 L669.36,213.80 L669.66,213.80 L669.96,213.80 L670.25,213.80 L670.55,213.80 L670.85,213.80 L671.15,213.80 L671.45,213.80 L671.75,213.80 L672.05,213.80 L672.35,213.80 L672.64,213.80 L672.94,213.80 L673.24,213.80 L673.54,213.80 L673.84,213.80 L674.14,213.80 L674.44,213.80 L674.73,213.80 L675.03,213.80 L675.33,213.80 L675.63,213.80 L675.93,213.80 L676.23,213.80 L676.53,213.80 L676.83,213.80 L677.12,213.80 L677.42,213.80 L677.72,213.80 L678.02,213.80 L678.32,213.80 L678.62,213.80 L678.92,213.80 L679.21,213.80 L679.51,213.80 L679.81,213.80 L680.11,213.80 L680.41,213.80 L680.71,213.80 L681.01,213.80 L681.31,213.80 L681.60,213.80 L681.90,213.80 L682.20,213.80 L682.50,213.80 L682.50,213.80 L414.00,213.80 Z" fill="#c8a0cc" fill-opacity="0.5" stroke="#c8a0cc" stroke-opacity="0.6" stroke-width="0.5"/>
<path d="M414.00,213.22 L414.30,213.22 L414.60,213.22 L414.90,213.21 L415.19,213.21 L415.49,213.20 L415.79,213.20 L416.09,213.19 L416.39,213.19 L416.69,213.18 L416.99,213.18 L417.29,213.17 L417.58,213.17 L417.88,213.16 L418.18,213.16 L418.48,213.15 L418.78,213.15 L419.08,213.14 L419.38,213.14 L419.67,213.13 L419.97,213.13 L420.27,213.12 L420.57,213.12 L420.87,213.11 L421.17,213.11 L421.47,213.10 L421.77,213.09 L422.06,213.09 L422.36,213.08 L422.66,213.08 L422.96,213.07 L423.26,213.06 L423.56,213.06 L423.86,213.05 L424.15,213.04 L424.45,213.04 L424.75,213.03 L425.05,213.03 L425.35,213.02 L425.65,213.01 L425.95,213.00 L426.25,213.00 L426.54,212.99 L426.84,212.98 L427.14,212.98 L427.44,212.97 L427.74,212.96 L428.04,212.95 L428.34,212.95 L428.63,212.94 L428.93,212.93 L429.23,212.92 L429.53,212.91 L429.83,212.91 L430.13,212.90 L430.43,212.89 L430.73,212.88 L431.02,212.87 L431.32,212.86 L431.62,212.85 L431.92,212.84 L432.22,212.84 L432.52,212.83 L432.82,212.82 L433.11,212.81 L433.41,212.80 L433.71,212.79 L434.01,212.78 L434.31,212.77 L434.61,212.76 L434.91,212.75 L435.21,212.74 L435.50,212.73 L435.80,212.71 L436.10,212.70 L436.40,212.69 L436.70,212.68 L437.00,212.67 L437.30,212.66 L437.59,212.64 L437.89,212.63 L438.19,212.62 L438.49,212.61 L438.79,212.60 L439.09,212.58 L439.39,212.57 L439.69,212.56 L439.98,212.54 L440.28,212.53 L440.58,212.51 L440.88,212.50 L441.18,212.49 L441.48,212.47 L441.78,212.46 L442.07,212.44 L442.37,212.42 L442.67,212.41 L442.97,212.39 L443.27,212.38 L443.57,212.36 L443.87,212.34 L444.17,212.33 L444.46,212.31 L444.76,212.29 L445.06,212.27 L445.36,212.25 L445.66,212.24 L445.96,212.22 L446.26,212.20 L446.55,212.18 L446.85,212.16 L447.15,212.14 L447.45,212.12 L447.75,212.09 L448.05,212.07 L448.35,212.05 L448.65,212.03 L448.94,212.01 L449.24,211.98 L449.54,211.96 L449.84,211.93 L450.14,211.91 L450.44,211.88 L450.74,211.86 L451.03,211.83 L451.33,211.81 L451.63,211.78 L451.93,211.75 L452.23,211.72 L452.53,211.69 L452.83,211.66 L453.13,211.63 L453.42,211.60 L453.72,211.57 L454.02,211.54 L454.32,211.51 L454.62,211.47 L454.92,211.44 L455.22,211.40 L455.51,211.37 L455.81,211.33 L456.11,211.30 L456.41,211.26 L456.71,211.22 L457.01,211.18 L457.31,211.14 L457.61,211.10 L457.90,211.05 L458.20,211.01 L458.50,210.97 L458.80,210.92 L459.10,210.88 L459.40,210.83 L459.70,210.78 L459.99,210.73 L460.29,210.68 L460.59,210.63 L460.89,210.57 L461.19,210.52 L461.49,210.46 L461.79,210.41 L462.09,210.35 L462.38,210.29 L462.68,210.22 L462.98,210.16 L463.28,210.10 L463.58,210.03 L463.88,209.96 L464.18,209.89 L464.47,209.82 L464.77,209.75 L465.07,209.67 L465.37,209.59 L465.67,209.51 L465.97,209.43 L466.27,209.35 L466.57,209.26 L466.86,209.17 L467.16,209.08 L467.46,208.99 L467.76,208.89 L468.06,208.79 L468.36,208.69 L468.66,208.59 L468.95,208.48 L469.25,208.37 L469.55,208.26 L469.85,208.14 L470.15,208.02 L470.45,207.90 L470.75,207.77 L471.05,207.64 L471.34,207.51 L471.64,207.37 L471.94,207.23 L472.24,207.08 L472.54,206.93 L472.84,206.77 L473.14,206.61 L473.43,206.45 L473.73,206.28 L474.03,206.10 L474.33,205.92 L474.63,205.74 L474.93,205.55 L475.23,205.35 L475.53,205.15 L475.82,204.94 L476.12,204.72 L476.42,204.50 L476.72,204.27 L477.02,204.04 L477.32,203.80 L477.62,203.55 L477.91,203.29 L478.21,203.03 L478.51,202.76 L478.81,202.48 L479.11,202.20 L479.41,201.90 L479.71,201.60 L480.01,201.29 L480.30,200.97 L480.60,200.65 L480.90,200.32 L481.20,199.98 L481.50,199.63 L481.80,199.27 L482.10,198.91 L482.39,198.54 L482.69,198.16 L482.99,197.78 L483.29,197.39 L483.59,197.00 L483.89,196.60 L484.19,196.20 L484.48,195.79 L484.78,195.38 L485.08,194.98 L485.38,194.57 L485.68,194.16 L485.98,193.75 L486.28,193.35 L486.58,192.95 L486.87,192.56 L487.17,192.18 L487.47,191.81 L487.77,191.45 L488.07,191.10 L488.37,190.77 L488.67,190.46 L488.96,190.17 L489.26,189.89 L489.56,189.64 L489.86,189.42 L490.16,189.22 L490.46,189.04 L490.76,188.90 L491.06,188.79 L491.35,188.70 L491.65,188.65 L491.95,188.62 L492.25,188.63 L492.55,188.67 L492.85,188.75 L493.15,188.85 L493.44,188.98 L493.74,189.14 L494.04,189.33 L494.34,189.55 L494.64,189.79 L494.94,190.05 L495.24,190.34 L495.54,190.64 L495.83,190.96 L496.13,191.30 L496.43,191.66 L496.73,192.02 L497.03,192.40 L497.33,192.79 L497.63,193.18 L497.92,193.58 L498.22,193.99 L498.52,194.40 L498.82,194.80 L499.12,195.21 L499.42,195.62 L499.72,196.03 L500.02,196.43 L500.31,196.83 L500.61,197.23 L500.91,197.62 L501.21,198.00 L501.51,198.38 L501.81,198.76 L502.11,199.12 L502.40,199.48 L502.70,199.83 L503.00,200.18 L503.30,200.51 L503.60,200.84 L503.90,201.16 L504.20,201.47 L504.50,201.78 L504.79,202.07 L505.09,202.36 L505.39,202.64 L505.69,202.92 L505.99,203.18 L506.29,203.44 L506.59,203.69 L506.88,203.94 L507.18,204.18 L507.48,204.41 L507.78,204.63 L508.08,204.85 L508.38,205.06 L508.68,205.26 L508.98,205.46 L509.27,205.66 L509.57,205.85 L509.87,206.03 L510.17,206.21 L510.47,206.38 L510.77,206.54 L511.07,206.71 L511.36,206.86 L511.66,207.02 L511.96,207.16 L512.26,207.31 L512.56,207.45 L512.86,207.59 L513.16,207.72 L513.46,207.85 L513.75,207.97 L514.05,208.09 L514.35,208.21 L514.65,208.32 L514.95,208.44 L515.25,208.54 L515.55,208.65 L515.84,208.75 L516.14,208.85 L516.44,208.95 L516.74,209.04 L517.04,209.14 L517.34,209.23 L517.64,209.31 L517.94,209.40 L518.23,209.48 L518.53,209.56 L518.83,209.64 L519.13,209.72 L519.43,209.79 L519.73,209.86 L520.03,209.93 L520.32,210.00 L520.62,210.07 L520.92,210.13 L521.22,210.20 L521.52,210.26 L521.82,210.32 L522.12,210.38 L522.42,210.44 L522.71,210.50 L523.01,210.55 L523.31,210.60 L523.61,210.66 L523.91,210.71 L524.21,210.76 L524.51,210.81 L524.80,210.86 L525.10,210.90 L525.40,210.95 L525.70,210.99 L526.00,211.04 L526.30,211.08 L526.60,211.12 L526.90,211.16 L527.19,211.20 L527.49,211.24 L527.79,211.28 L528.09,211.32 L528.39,211.35 L528.69,211.39 L528.99,211.42 L529.28,211.46 L529.58,211.49 L529.88,211.53 L530.18,211.56 L530.48,211.59 L530.78,211.62 L531.08,211.65 L531.38,211.68 L531.67,211.71 L531.97,211.74 L532.27,211.77 L532.57,211.79 L532.87,211.82 L533.17,211.85 L533.47,211.87 L533.76,211.90 L534.06,211.92 L534.36,211.95 L534.66,211.97 L534.96,212.00 L535.26,212.02 L535.56,212.04 L535.86,212.06 L536.15,212.09 L536.45,212.11 L536.75,212.13 L537.05,212.15 L537.35,212.17 L537.65,212.19 L537.95,212.21 L538.24,212.23 L538.54,212.25 L538.84,212.26 L539.14,212.28 L539.44,212.30 L539.74,212.32 L540.04,212.34 L540.34,212.35 L540.63,212.37 L540.93,212.39 L541.23,212.40 L541.53,212.42 L541.83,212.43 L542.13,212.45 L542.43,212.46 L542.72,212.48 L543.02,212.49 L543.32,212.51 L543.62,212.52 L543.92,212.54 L544.22,212.55 L544.52,212.56 L544.82,212.58 L545.11,212.59 L545.41,212.60 L545.71,212.62 L546.01,212.63 L546.31,212.64 L546.61,212.65 L546.91,212.66 L547.20,212.68 L547.50,212.69 L547.80,212.70 L548.10,212.71 L548.40,212.72 L548.70,212.73 L549.00,212.74 L549.30,212.75 L549.59,212.76 L549.89,212.77 L550.19,212.78 L550.49,212.79 L550.79,212.80 L551.09,212.81 L551.39,212.82 L551.68,212.83 L551.98,212.84 L552.28,212.85 L552.58,212.86 L552.88,212.87 L553.18,212.88 L553.48,212.89 L553.78,212.89 L554.07,212.90 L554.37,212.91 L554.67,212.92 L554.97,212.93 L555.27,212.93 L555.57,212.94 L555.87,212.95 L556.16,212.96 L556.46,212.97 L556.76,212.97 L557.06,212.98 L557.36,212.99 L557.66,212.99 L557.96,213.00 L558.26,213.01 L558.55,213.02 L558.85,213.02 L559.15,213.03 L559.45,213.04 L559.75,213.04 L560.05,213.05 L560.35,213.05 L560.64,213.06 L560.94,213.07 L561.24,213.07 L561.54,213.08 L561.84,213.09 L562.14,213.09 L562.44,213.10 L562.74,213.10 L563.03,213.11 L563.33,213.11 L563.63,213.12 L563.93,213.13 L564.23,213.13 L564.53,213.14 L564.83,213.14 L565.12,213.15 L565.42,213.15 L565.72,213.16 L566.02,213.16 L566.32,213.17 L566.62,213.17 L566.92,213.18 L567.22,213.18 L567.51,213.19 L567.81,213.19 L568.11,213.20 L568.41,213.20 L568.71,213.20 L569.01,213.21 L569.31,213.21 L569.60,213.22 L569.90,213.22 L570.20,213.23 L570.50,213.23 L570.80,213.24 L571.10,213.24 L571.40,213.24 L571.70,213.25 L571.99,213.25 L572.29,213.26 L572.59,213.26 L572.89,213.26 L573.19,213.27 L573.49,213.27 L573.79,213.28 L574.08,213.28 L574.38,213.28 L574.68,213.29 L574.98,213.29 L575.28,213.29 L575.58,213.30 L575.88,213.30 L576.18,213.30 L576.47,213.31 L576.77,213.31 L577.07,213.31 L577.37,213.32 L577.67,213.32 L577.97,213.32 L578.27,213.33 L578.56,213.33 L578.86,213.33 L579.16,213.34 L579.46,213.34 L579.76,213.34 L580.06,213.35 L580.36,213.35 L580.66,213.35 L580.95,213.35 L581.25,213.36 L581.55,213.36 L581.85,213.36 L582.15,213.37 L582.45,213.37 L582.75,213.37 L583.04,213.37 L583.34,213.38 L583.64,213.38 L583.94,213.38 L584.24,213.39 L584.54,213.39 L584.84,213.39 L585.14,213.39 L585.43,213.40 L585.73,213.40 L586.03,213.40 L586.33,213.40 L586.63,213.41 L586.93,213.41 L587.23,213.41 L587.52,213.41 L587.82,213.42 L588.12,213.42 L588.42,213.42 L588.72,213.42 L589.02,213.42 L589.32,213.43 L589.62,213.43 L589.91,213.43 L590.21,213.43 L590.51,213.44 L590.81,213.44 L591.11,213.44 L591.41,213.44 L591.71,213.44 L592.00,213.45 L592.30,213.45 L592.60,213.45 L592.90,213.45 L593.20,213.45 L593.50,213.46 L593.80,213.46 L594.10,213.46 L594.39,213.46 L594.69,213.46 L594.99,213.47 L595.29,213.47 L595.59,213.47 L595.89,213.47 L596.19,213.47 L596.48,213.48 L596.78,213.48 L597.08,213.48 L597.38,213.48 L597.68,213.48 L597.98,213.48 L598.28,213.49 L598.58,213.49 L598.87,213.49 L599.17,213.49 L599.47,213.49 L599.77,213.49 L600.07,213.50 L600.37,213.50 L600.67,213.50 L600.96,213.50 L601.26,213.50 L601.56,213.50 L601.86,213.51 L602.16,213.51 L602.46,213.51 L602.76,213.51 L603.06,213.51 L603.35,213.51 L603.65,213.52 L603.95,213.52 L604.25,213.52 L604.55,213.52 L604.85,213.52 L605.15,213.52 L605.44,213.52 L605.74,213.53 L606.04,213.53 L606.34,213.53 L606.64,213.53 L606.94,213.53 L607.24,213.53 L607.54,213.53 L607.83,213.54 L608.13,213.54 L608.43,213.54 L608.73,213.54 L609.03,213.54 L609.33,213.54 L609.63,213.54 L609.92,213.54 L610.22,213.55 L610.52,213.55 L610.82,213.55 L611.12,213.55 L611.42,213.55 L611.72,213.55 L612.02,213.55 L612.31,213.55 L612.61,213.56 L612.91,213.56 L613.21,213.56 L613.51,213.56 L613.81,213.56 L614.11,213.56 L614.40,213.56 L614.70,213.56 L615.00,213.57 L615.30,213.57 L615.60,213.57 L615.90,213.57 L616.20,213.57 L616.49,213.57 L616.79,213.57 L617.09,213.57 L617.39,213.57 L617.69,213.58 L617.99,213.58 L618.29,213.58 L618.59,213.58 L618.88,213.58 L619.18,213.58 L619.48,213.58 L619.78,213.58 L620.08,213.58 L620.38,213.58 L620.68,213.59 L620.97,213.59 L621.27,213.59 L621.57,213.59 L621.87,213.59 L622.17,213.59 L622.47,213.59 L622.77,213.59 L623.07,213.59 L623.36,213.59 L623.66,213.59 L623.96,213.60 L624.26,213.60 L624.56,213.60 L624.86,213.60 L625.16,213.60 L625.45,213.60 L625.75,213.60 L626.05,213.60 L626.35,213.60 L626.65,213.60 L626.95,213.60 L627.25,213.61 L627.55,213.61 L627.84,213.61 L628.14,213.61 L628.44,213.61 L628.74,213.61 L629.04,213.61 L629.34,213.61 L629.64,213.61 L629.93,213.61 L630.23,213.61 L630.53,213.61 L630.83,213.62 L631.13,213.62 L631.43,213.62 L631.73,213.62 L632.03,213.62 L632.32,213.62 L632.62,213.62 L632.92,213.62 L633.22,213.62 L633.52,213.62 L633.82,213.62 L634.12,213.62 L634.41,213.62 L634.71,213.63 L635.01,213.63 L635.31,213.63 L635.61,213.63 L635.91,213.63 L636.21,213.63 L636.51,213.63 L636.80,213.63 L637.10,213.63 L637.40,213.63 L637.70,213.63 L638.00,213.63 L638.30,213.63 L638.60,213.63 L638.89,213.63 L639.19,213.64 L639.49,213.64 L639.79,213.64 L640.09,213.64 L640.39,213.64 L640.69,213.64 L640.99,213.64 L641.28,213.64 L641.58,213.64 L641.88,213.64 L642.18,213.64 L642.48,213.64 L642.78,213.64 L643.08,213.64 L643.37,213.64 L643.67,213.65 L643.97,213.65 L644.27,213.65 L644.57,213.65 L644.87,213.65 L645.17,213.65 L645.47,213.65 L645.76,213.65 L646.06,213.65 L646.36,213.65 L646.66,213.65 L646.96,213.65 L647.26,213.65 L647.56,213.65 L647.85,213.65 L648.15,213.65 L648.45,213.65 L648.75,213.65 L649.05,213.66 L649.35,213.66 L649.65,213.66 L649.95,213.66 L650.24,213.66 L650.54,213.66 L650.84,213.66 L651.14,213.66 L651.44,213.66 L651.74,213.66 L652.04,213.66 L652.33,213.66 L652.63,213.66 L652.93,213.66 L653.23,213.66 L653.53,213.66 L653.83,213.66 L654.13,213.66 L654.43,213.66 L654.72,213.67 L655.02,213.67 L655.32,213.67 L655.62,213.67 L655.92,213.67 L656.22,213.67 L656.52,213.67 L656.81,213.67 L657.11,213.67 L657.41,213.67 L657.71,213.67 L658.01,213.67 L658.31,213.67 L658.61,213.67 L658.91,213.67 L659.20,213.67 L659.50,213.67 L659.80,213.67 L660.10,213.67 L660.40,213.67 L660.70,213.67 L661.00,213.68 L661.29,213.68 L661.59,213.68 L661.89,213.68 L662.19,213.68 L662.49,213.68 L662.79,213.68 L663.09,213.68 L663.39,213.68 L663.68,213.68 L663.98,213.68 L664.28,213.68 L664.58,213.68 L664.88,213.68 L665.18,213.68 L665.48,213.68 L665.77,213.68 L666.07,213.68 L666.37,213.68 L666.67,213.68 L666.97,213.68 L667.27,213.68 L667.57,213.68 L667.87,213.68 L668.16,213.68 L668.46,213.69 L668.76,213.69 L669.06,213.69 L669.36,213.69 L669.66,213.69 L669.96,213.69 L670.25,213.69 L670.55,213.69 L670.85,213.69 L671.15,213.69 L671.45,213.69 L671.75,213.69 L672.05,213.69 L672.35,213.69 L672.64,213.69 L672.94,213.69 L673.24,213.69 L673.54,213.69 L673.84,213.69 L674.14,213.69 L674.44,213.69 L674.73,213.69 L675.03,213.69 L675.33,213.69 L675.63,213.69 L675.93,213.69 L676.23,213.69 L676.53,213.70 L676.83,213.70 L677.12,213.70 L677.42,213.70 L677.72,213.70 L678.02,213.70 L678.32,213.70 L678.62,213.70 L678.92,213.70 L679.21,213.70 L679.51,213.70 L679.81,213.70 L680.11,213.70 L680.41,213.70 L680.71,213.70 L681.01,213.70 L681.31,213.70 L681.60,213.70 L681.90,213.70 L682.20,213.70 L682.50,213.70 L682.50,213.80 L414.00,213.80 Z" fill="#aadede" fill-opacity="0.45" stroke="#aadede" stroke-opacity="0.6" stroke-width="0.5"/>
<path d="M414.00,213.67 L414.30,213.67 L414.60,213.67 L414.90,213.67 L415.19,213.67 L415.49,213.67 L415.79,213.67 L416.09,213.67 L416.39,213.67 L416.69,213.67 L416.99,213.67 L417.29,213.66 L417.58,213.66 L417.88,213.66 L418.18,213.66 L418.48,213.66 L418.78,213.66 L419.08,213.66 L419.38,213.66 L419.67,213.66 L419.97,213.66 L420.27,213.66 L420.57,213.66 L420.87,213.65 L421.17,213.65 L421.47,213.65 L421.77,213.65 L422.06,213.65 L422.36,213.65 L422.66,213.65 L422.96,213.65 L423.26,213.65 L423.56,213.65 L423.86,213.65 L424.15,213.64 L424.45,213.64 L424.75,213.64 L425.05,213.64 L425.35,213.64 L425.65,213.64 L425.95,213.64 L426.25,213.64 L426.54,213.64 L426.84,213.64 L427.14,213.63 L427.44,213.63 L427.74,213.63 L428.04,213.63 L428.34,213.63 L428.63,213.63 L428.93,213.63 L429.23,213.63 L429.53,213.63 L429.83,213.63 L430.13,213.62 L430.43,213.62 L430.73,213.62 L431.02,213.62 L431.32,213.62 L431.62,213.62 L431.92,213.62 L432.22,213.62 L432.52,213.61 L432.82,213.61 L433.11,213.61 L433.41,213.61 L433.71,213.61 L434.01,213.61 L434.31,213.61 L434.61,213.61 L434.91,213.60 L435.21,213.60 L435.50,213.60 L435.80,213.60 L436.10,213.60 L436.40,213.60 L436.70,213.60 L437.00,213.59 L437.30,213.59 L437.59,213.59 L437.89,213.59 L438.19,213.59 L438.49,213.59 L438.79,213.59 L439.09,213.58 L439.39,213.58 L439.69,213.58 L439.98,213.58 L440.28,213.58 L440.58,213.58 L440.88,213.57 L441.18,213.57 L441.48,213.57 L441.78,213.57 L442.07,213.57 L442.37,213.57 L442.67,213.56 L442.97,213.56 L443.27,213.56 L443.57,213.56 L443.87,213.56 L444.17,213.56 L444.46,213.55 L444.76,213.55 L445.06,213.55 L445.36,213.55 L445.66,213.55 L445.96,213.54 L446.26,213.54 L446.55,213.54 L446.85,213.54 L447.15,213.54 L447.45,213.53 L447.75,213.53 L448.05,213.53 L448.35,213.53 L448.65,213.53 L448.94,213.52 L449.24,213.52 L449.54,213.52 L449.84,213.52 L450.14,213.51 L450.44,213.51 L450.74,213.51 L451.03,213.51 L451.33,213.50 L451.63,213.50 L451.93,213.50 L452.23,213.50 L452.53,213.49 L452.83,213.49 L453.13,213.49 L453.42,213.49 L453.72,213.48 L454.02,213.48 L454.32,213.48 L454.62,213.48 L454.92,213.47 L455.22,213.47 L455.51,213.47 L455.81,213.46 L456.11,213.46 L456.41,213.46 L456.71,213.45 L457.01,213.45 L457.31,213.45 L457.61,213.44 L457.90,213.44 L458.20,213.44 L458.50,213.43 L458.80,213.43 L459.10,213.43 L459.40,213.42 L459.70,213.42 L459.99,213.42 L460.29,213.41 L460.59,213.41 L460.89,213.41 L461.19,213.40 L461.49,213.40 L461.79,213.39 L462.09,213.39 L462.38,213.39 L462.68,213.38 L462.98,213.38 L463.28,213.37 L463.58,213.37 L463.88,213.37 L464.18,213.36 L464.47,213.36 L464.77,213.35 L465.07,213.35 L465.37,213.34 L465.67,213.34 L465.97,213.33 L466.27,213.33 L466.57,213.32 L466.86,213.32 L467.16,213.31 L467.46,213.31 L467.76,213.30 L468.06,213.30 L468.36,213.29 L468.66,213.29 L468.95,213.28 L469.25,213.27 L469.55,213.27 L469.85,213.26 L470.15,213.26 L470.45,213.25 L470.75,213.24 L471.05,213.24 L471.34,213.23 L471.64,213.22 L471.94,213.22 L472.24,213.21 L472.54,213.20 L472.84,213.20 L473.14,213.19 L473.43,213.18 L473.73,213.17 L474.03,213.17 L474.33,213.16 L474.63,213.15 L474.93,213.14 L475.23,213.13 L475.53,213.13 L475.82,213.12 L476.12,213.11 L476.42,213.10 L476.72,213.09 L477.02,213.08 L477.32,213.07 L477.62,213.06 L477.91,213.05 L478.21,213.04 L478.51,213.03 L478.81,213.02 L479.11,213.01 L479.41,213.00 L479.71,212.99 L480.01,212.98 L480.30,212.97 L480.60,212.96 L480.90,212.94 L481.20,212.93 L481.50,212.92 L481.80,212.91 L482.10,212.89 L482.39,212.88 L482.69,212.87 L482.99,212.85 L483.29,212.84 L483.59,212.83 L483.89,212.81 L484.19,212.80 L484.48,212.78 L484.78,212.76 L485.08,212.75 L485.38,212.73 L485.68,212.71 L485.98,212.70 L486.28,212.68 L486.58,212.66 L486.87,212.64 L487.17,212.62 L487.47,212.60 L487.77,212.58 L488.07,212.56 L488.37,212.54 L488.67,212.52 L488.96,212.50 L489.26,212.48 L489.56,212.45 L489.86,212.43 L490.16,212.40 L490.46,212.38 L490.76,212.35 L491.06,212.33 L491.35,212.30 L491.65,212.27 L491.95,212.24 L492.25,212.21 L492.55,212.18 L492.85,212.15 L493.15,212.12 L493.44,212.09 L493.74,212.05 L494.04,212.02 L494.34,211.98 L494.64,211.94 L494.94,211.90 L495.24,211.87 L495.54,211.82 L495.83,211.78 L496.13,211.74 L496.43,211.69 L496.73,211.65 L497.03,211.60 L497.33,211.55 L497.63,211.50 L497.92,211.45 L498.22,211.39 L498.52,211.34 L498.82,211.28 L499.12,211.22 L499.42,211.16 L499.72,211.09 L500.02,211.03 L500.31,210.96 L500.61,210.88 L500.91,210.81 L501.21,210.73 L501.51,210.65 L501.81,210.57 L502.11,210.48 L502.40,210.39 L502.70,210.30 L503.00,210.20 L503.30,210.10 L503.60,210.00 L503.90,209.89 L504.20,209.78 L504.50,209.66 L504.79,209.54 L505.09,209.41 L505.39,209.27 L505.69,209.13 L505.99,208.99 L506.29,208.83 L506.59,208.68 L506.88,208.51 L507.18,208.33 L507.48,208.15 L507.78,207.96 L508.08,207.76 L508.38,207.55 L508.68,207.33 L508.98,207.10 L509.27,206.86 L509.57,206.61 L509.87,206.34 L510.17,206.06 L510.47,205.77 L510.77,205.46 L511.07,205.14 L511.36,204.80 L511.66,204.44 L511.96,204.07 L512.26,203.67 L512.56,203.26 L512.86,202.82 L513.16,202.37 L513.46,201.89 L513.75,201.38 L514.05,200.85 L514.35,200.30 L514.65,199.72 L514.95,199.11 L515.25,198.48 L515.55,197.82 L515.84,197.14 L516.14,196.43 L516.44,195.69 L516.74,194.94 L517.04,194.16 L517.34,193.37 L517.64,192.56 L517.94,191.75 L518.23,190.93 L518.53,190.12 L518.83,189.32 L519.13,188.54 L519.43,187.79 L519.73,187.08 L520.03,186.41 L520.32,185.81 L520.62,185.28 L520.92,184.83 L521.22,184.46 L521.52,184.19 L521.82,184.03 L522.12,183.96 L522.42,184.00 L522.71,184.15 L523.01,184.40 L523.31,184.75 L523.61,185.18 L523.91,185.70 L524.21,186.29 L524.51,186.94 L524.80,187.65 L525.10,188.39 L525.40,189.16 L525.70,189.96 L526.00,190.77 L526.30,191.59 L526.60,192.40 L526.90,193.21 L527.19,194.01 L527.49,194.79 L527.79,195.55 L528.09,196.29 L528.39,197.00 L528.69,197.69 L528.99,198.36 L529.28,198.99 L529.58,199.60 L529.88,200.19 L530.18,200.75 L530.48,201.28 L530.78,201.79 L531.08,202.27 L531.38,202.74 L531.67,203.18 L531.97,203.59 L532.27,203.99 L532.57,204.37 L532.87,204.73 L533.17,205.07 L533.47,205.40 L533.76,205.71 L534.06,206.01 L534.36,206.29 L534.66,206.56 L534.96,206.81 L535.26,207.06 L535.56,207.29 L535.86,207.51 L536.15,207.72 L536.45,207.92 L536.75,208.12 L537.05,208.30 L537.35,208.48 L537.65,208.64 L537.95,208.80 L538.24,208.96 L538.54,209.11 L538.84,209.25 L539.14,209.38 L539.44,209.51 L539.74,209.64 L540.04,209.75 L540.34,209.87 L540.63,209.98 L540.93,210.08 L541.23,210.19 L541.53,210.28 L541.83,210.38 L542.13,210.47 L542.43,210.55 L542.72,210.64 L543.02,210.72 L543.32,210.80 L543.62,210.87 L543.92,210.94 L544.22,211.01 L544.52,211.08 L544.82,211.14 L545.11,211.21 L545.41,211.27 L545.71,211.33 L546.01,211.38 L546.31,211.44 L546.61,211.49 L546.91,211.54 L547.20,211.59 L547.50,211.64 L547.80,211.69 L548.10,211.73 L548.40,211.77 L548.70,211.82 L549.00,211.86 L549.30,211.90 L549.59,211.94 L549.89,211.97 L550.19,212.01 L550.49,212.05 L550.79,212.08 L551.09,212.11 L551.39,212.15 L551.68,212.18 L551.98,212.21 L552.28,212.24 L552.58,212.27 L552.88,212.29 L553.18,212.32 L553.48,212.35 L553.78,212.37 L554.07,212.40 L554.37,212.42 L554.67,212.45 L554.97,212.47 L555.27,212.49 L555.57,212.52 L555.87,212.54 L556.16,212.56 L556.46,212.58 L556.76,212.60 L557.06,212.62 L557.36,212.64 L557.66,212.66 L557.96,212.68 L558.26,212.69 L558.55,212.71 L558.85,212.73 L559.15,212.74 L559.45,212.76 L559.75,212.78 L560.05,212.79 L560.35,212.81 L560.64,212.82 L560.94,212.84 L561.24,212.85 L561.54,212.87 L561.84,212.88 L562.14,212.89 L562.44,212.90 L562.74,212.92 L563.03,212.93 L563.33,212.94 L563.63,212.95 L563.93,212.97 L564.23,212.98 L564.53,212.99 L564.83,213.00 L565.12,213.01 L565.42,213.02 L565.72,213.03 L566.02,213.04 L566.32,213.05 L566.62,213.06 L566.92,213.07 L567.22,213.08 L567.51,213.09 L567.81,213.10 L568.11,213.11 L568.41,213.12 L568.71,213.12 L569.01,213.13 L569.31,213.14 L569.60,213.15 L569.90,213.16 L570.20,213.17 L570.50,213.17 L570.80,213.18 L571.10,213.19 L571.40,213.19 L571.70,213.20 L571.99,213.21 L572.29,213.22 L572.59,213.22 L572.89,213.23 L573.19,213.24 L573.49,213.24 L573.79,213.25 L574.08,213.25 L574.38,213.26 L574.68,213.27 L574.98,213.27 L575.28,213.28 L575.58,213.28 L575.88,213.29 L576.18,213.30 L576.47,213.30 L576.77,213.31 L577.07,213.31 L577.37,213.32 L577.67,213.32 L577.97,213.33 L578.27,213.33 L578.56,213.34 L578.86,213.34 L579.16,213.35 L579.46,213.35 L579.76,213.36 L580.06,213.36 L580.36,213.36 L580.66,213.37 L580.95,213.37 L581.25,213.38 L581.55,213.38 L581.85,213.39 L582.15,213.39 L582.45,213.39 L582.75,213.40 L583.04,213.40 L583.34,213.41 L583.64,213.41 L583.94,213.41 L584.24,213.42 L584.54,213.42 L584.84,213.42 L585.14,213.43 L585.43,213.43 L585.73,213.43 L586.03,213.44 L586.33,213.44 L586.63,213.44 L586.93,213.45 L587.23,213.45 L587.52,213.45 L587.82,213.46 L588.12,213.46 L588.42,213.46 L588.72,213.47 L589.02,213.47 L589.32,213.47 L589.62,213.47 L589.91,213.48 L590.21,213.48 L590.51,213.48 L590.81,213.49 L591.11,213.49 L591.41,213.49 L591.71,213.49 L592.00,213.50 L592.30,213.50 L592.60,213.50 L592.90,213.50 L593.20,213.51 L593.50,213.51 L593.80,213.51 L594.10,213.51 L594.39,213.52 L594.69,213.52 L594.99,213.52 L595.29,213.52 L595.59,213.52 L595.89,213.53 L596.19,213.53 L596.48,213.53 L596.78,213.53 L597.08,213.54 L597.38,213.54 L597.68,213.54 L597.98,213.54 L598.28,213.54 L598.58,213.55 L598.87,213.55 L599.17,213.55 L599.47,213.55 L599.77,213.55 L600.07,213.56 L600.37,213.56 L600.67,213.56 L600.96,213.56 L601.26,213.56 L601.56,213.56 L601.86,213.57 L602.16,213.57 L602.46,213.57 L602.76,213.57 L603.06,213.57 L603.35,213.57 L603.65,213.58 L603.95,213.58 L604.25,213.58 L604.55,213.58 L604.85,213.58 L605.15,213.58 L605.44,213.59 L605.74,213.59 L606.04,213.59 L606.34,213.59 L606.64,213.59 L606.94,213.59 L607.24,213.59 L607.54,213.60 L607.83,213.60 L608.13,213.60 L608.43,213.60 L608.73,213.60 L609.03,213.60 L609.33,213.60 L609.63,213.61 L609.92,213.61 L610.22,213.61 L610.52,213.61 L610.82,213.61 L611.12,213.61 L611.42,213.61 L611.72,213.61 L612.02,213.62 L612.31,213.62 L612.61,213.62 L612.91,213.62 L613.21,213.62 L613.51,213.62 L613.81,213.62 L614.11,213.62 L614.40,213.63 L614.70,213.63 L615.00,213.63 L615.30,213.63 L615.60,213.63 L615.90,213.63 L616.20,213.63 L616.49,213.63 L616.79,213.63 L617.09,213.63 L617.39,213.64 L617.69,213.64 L617.99,213.64 L618.29,213.64 L618.59,213.64 L618.88,213.64 L619.18,213.64 L619.48,213.64 L619.78,213.64 L620.08,213.64 L620.38,213.65 L620.68,213.65 L620.97,213.65 L621.27,213.65 L621.57,213.65 L621.87,213.65 L622.17,213.65 L622.47,213.65 L622.77,213.65 L623.07,213.65 L623.36,213.65 L623.66,213.66 L623.96,213.66 L624.26,213.66 L624.56,213.66 L624.86,213.66 L625.16,213.66 L625.45,213.66 L625.75,213.66 L626.05,213.66 L626.35,213.66 L626.65,213.66 L626.95,213.66 L627.25,213.67 L627.55,213.67 L627.84,213.67 L628.14,213.67 L628.44,213.67 L628.74,213.67 L629.04,213.67 L629.34,213.67 L629.64,213.67 L629.93,213.67 L630.23,213.67 L630.53,213.67 L630.83,213.67 L631.13,213.67 L631.43,213.68 L631.73,213.68 L632.03,213.68 L632.32,213.68 L632.62,213.68 L632.92,213.68 L633.22,213.68 L633.52,213.68 L633.82,213.68 L634.12,213.68 L634.41,213.68 L634.71,213.68 L635.01,213.68 L635.31,213.68 L635.61,213.68 L635.91,213.68 L636.21,213.69 L636.51,213.69 L636.80,213.69 L637.10,213.69 L637.40,213.69 L637.70,213.69 L638.00,213.69 L638.30,213.69 L638.60,213.69 L638.89,213.69 L639.19,213.69 L639.49,213.69 L639.79,213.69 L640.09,213.69 L640.39,213.69 L640.69,213.69 L640.99,213.69 L641.28,213.69 L641.58,213.70 L641.88,213.70 L642.18,213.70 L642.48,213.70 L642.78,213.70 L643.08,213.70 L643.37,213.70 L643.67,213.70 L643.97,213.70 L644.27,213.70 L644.57,213.70 L644.87,213.70 L645.17,213.70 L645.47,213.70 L645.76,213.70 L646.06,213.70 L646.36,213.70 L646.66,213.70 L646.96,213.70 L647.26,213.70 L647.56,213.71 L647.85,213.71 L648.15,213.71 L648.45,213.71 L648.75,213.71 L649.05,213.71 L649.35,213.71 L649.65,213.71 L649.95,213.71 L650.24,213.71 L650.54,213.71 L650.84,213.71 L651.14,213.71 L651.44,213.71 L651.74,213.71 L652.04,213.71 L652.33,213.71 L652.63,213.71 L652.93,213.71 L653.23,213.71 L653.53,213.71 L653.83,213.71 L654.13,213.71 L654.43,213.71 L654.72,213.72 L655.02,213.72 L655.32,213.72 L655.62,213.72 L655.92,213.72 L656.22,213.72 L656.52,213.72 L656.81,213.72 L657.11,213.72 L657.41,213.72 L657.71,213.72 L658.01,213.72 L658.31,213.72 L658.61,213.72 L658.91,213.72 L659.20,213.72 L659.50,213.72 L659.80,213.72 L660.10,213.72 L660.40,213.72 L660.70,213.72 L661.00,213.72 L661.29,213.72 L661.59,213.72 L661.89,213.72 L662.19,213.72 L662.49,213.72 L662.79,213.72 L663.09,213.72 L663.39,213.73 L663.68,213.73 L663.98,213.73 L664.28,213.73 L664.58,213.73 L664.88,213.73 L665.18,213.73 L665.48,213.73 L665.77,213.73 L666.07,213.73 L666.37,213.73 L666.67,213.73 L666.97,213.73 L667.27,213.73 L667.57,213.73 L667.87,213.73 L668.16,213.73 L668.46,213.73 L668.76,213.73 L669.06,213.73 L669.36,213.73 L669.66,213.73 L669.96,213.73 L670.25,213.73 L670.55,213.73 L670.85,213.73 L671.15,213.73 L671.45,213.73 L671.75,213.73 L672.05,213.73 L672.35,213.73 L672.64,213.73 L672.94,213.73 L673.24,213.73 L673.54,213.73 L673.84,213.74 L674.14,213.74 L674.44,213.74 L674.73,213.74 L675.03,213.74 L675.33,213.74 L675.63,213.74 L675.93,213.74 L676.23,213.74 L676.53,213.74 L676.83,213.74 L677.12,213.74 L677.42,213.74 L677.72,213.74 L678.02,213.74 L678.32,213.74 L678.62,213.74 L678.92,213.74 L679.21,213.74 L679.51,213.74 L679.81,213.74 L680.11,213.74 L680.41,213.74 L680.71,213.74 L681.01,213.74 L681.31,213.74 L681.60,213.74 L681.90,213.74 L682.20,213.74 L682.50,213.74 L682.50,213.80 L414.00,213.80 Z" fill="#b8d890" fill-opacity="0.45" stroke="#b8d890" stroke-opacity="0.6" stroke-width="0.5"/>
<path d="M414.00,213.63 L414.30,213.62 L414.60,213.62 L414.90,213.62 L415.19,213.62 L415.49,213.62 L415.79,213.62 L416.09,213.62 L416.39,213.62 L416.69,213.62 L416.99,213.62 L417.29,213.62 L417.58,213.61 L417.88,213.61 L418.18,213.61 L418.48,213.61 L418.78,213.61 L419.08,213.61 L419.38,213.61 L419.67,213.61 L419.97,213.61 L420.27,213.61 L420.57,213.60 L420.87,213.60 L421.17,213.60 L421.47,213.60 L421.77,213.60 L422.06,213.60 L422.36,213.60 L422.66,213.60 L422.96,213.60 L423.26,213.59 L423.56,213.59 L423.86,213.59 L424.15,213.59 L424.45,213.59 L424.75,213.59 L425.05,213.59 L425.35,213.59 L425.65,213.59 L425.95,213.58 L426.25,213.58 L426.54,213.58 L426.84,213.58 L427.14,213.58 L427.44,213.58 L427.74,213.58 L428.04,213.58 L428.34,213.57 L428.63,213.57 L428.93,213.57 L429.23,213.57 L429.53,213.57 L429.83,213.57 L430.13,213.57 L430.43,213.57 L430.73,213.56 L431.02,213.56 L431.32,213.56 L431.62,213.56 L431.92,213.56 L432.22,213.56 L432.52,213.56 L432.82,213.55 L433.11,213.55 L433.41,213.55 L433.71,213.55 L434.01,213.55 L434.31,213.55 L434.61,213.54 L434.91,213.54 L435.21,213.54 L435.50,213.54 L435.80,213.54 L436.10,213.54 L436.40,213.54 L436.70,213.53 L437.00,213.53 L437.30,213.53 L437.59,213.53 L437.89,213.53 L438.19,213.53 L438.49,213.52 L438.79,213.52 L439.09,213.52 L439.39,213.52 L439.69,213.52 L439.98,213.51 L440.28,213.51 L440.58,213.51 L440.88,213.51 L441.18,213.51 L441.48,213.51 L441.78,213.50 L442.07,213.50 L442.37,213.50 L442.67,213.50 L442.97,213.50 L443.27,213.49 L443.57,213.49 L443.87,213.49 L444.17,213.49 L444.46,213.49 L444.76,213.48 L445.06,213.48 L445.36,213.48 L445.66,213.48 L445.96,213.47 L446.26,213.47 L446.55,213.47 L446.85,213.47 L447.15,213.47 L447.45,213.46 L447.75,213.46 L448.05,213.46 L448.35,213.46 L448.65,213.45 L448.94,213.45 L449.24,213.45 L449.54,213.45 L449.84,213.44 L450.14,213.44 L450.44,213.44 L450.74,213.44 L451.03,213.43 L451.33,213.43 L451.63,213.43 L451.93,213.42 L452.23,213.42 L452.53,213.42 L452.83,213.42 L453.13,213.41 L453.42,213.41 L453.72,213.41 L454.02,213.40 L454.32,213.40 L454.62,213.40 L454.92,213.40 L455.22,213.39 L455.51,213.39 L455.81,213.39 L456.11,213.38 L456.41,213.38 L456.71,213.38 L457.01,213.37 L457.31,213.37 L457.61,213.37 L457.90,213.36 L458.20,213.36 L458.50,213.36 L458.80,213.35 L459.10,213.35 L459.40,213.34 L459.70,213.34 L459.99,213.34 L460.29,213.33 L460.59,213.33 L460.89,213.33 L461.19,213.32 L461.49,213.32 L461.79,213.31 L462.09,213.31 L462.38,213.31 L462.68,213.30 L462.98,213.30 L463.28,213.29 L463.58,213.29 L463.88,213.28 L464.18,213.28 L464.47,213.27 L464.77,213.27 L465.07,213.27 L465.37,213.26 L465.67,213.26 L465.97,213.25 L466.27,213.25 L466.57,213.24 L466.86,213.24 L467.16,213.23 L467.46,213.23 L467.76,213.22 L468.06,213.22 L468.36,213.21 L468.66,213.20 L468.95,213.20 L469.25,213.19 L469.55,213.19 L469.85,213.18 L470.15,213.18 L470.45,213.17 L470.75,213.16 L471.05,213.16 L471.34,213.15 L471.64,213.14 L471.94,213.14 L472.24,213.13 L472.54,213.13 L472.84,213.12 L473.14,213.11 L473.43,213.11 L473.73,213.10 L474.03,213.09 L474.33,213.08 L474.63,213.08 L474.93,213.07 L475.23,213.06 L475.53,213.05 L475.82,213.05 L476.12,213.04 L476.42,213.03 L476.72,213.02 L477.02,213.01 L477.32,213.01 L477.62,213.00 L477.91,212.99 L478.21,212.98 L478.51,212.97 L478.81,212.96 L479.11,212.95 L479.41,212.94 L479.71,212.93 L480.01,212.92 L480.30,212.91 L480.60,212.90 L480.90,212.89 L481.20,212.88 L481.50,212.87 L481.80,212.86 L482.10,212.85 L482.39,212.84 L482.69,212.83 L482.99,212.82 L483.29,212.80 L483.59,212.79 L483.89,212.78 L484.19,212.77 L484.48,212.75 L484.78,212.74 L485.08,212.73 L485.38,212.71 L485.68,212.70 L485.98,212.69 L486.28,212.67 L486.58,212.66 L486.87,212.64 L487.17,212.63 L487.47,212.61 L487.77,212.60 L488.07,212.58 L488.37,212.57 L488.67,212.55 L488.96,212.53 L489.26,212.52 L489.56,212.50 L489.86,212.48 L490.16,212.46 L490.46,212.44 L490.76,212.42 L491.06,212.40 L491.35,212.38 L491.65,212.36 L491.95,212.34 L492.25,212.32 L492.55,212.30 L492.85,212.28 L493.15,212.26 L493.44,212.23 L493.74,212.21 L494.04,212.18 L494.34,212.16 L494.64,212.13 L494.94,212.11 L495.24,212.08 L495.54,212.05 L495.83,212.03 L496.13,212.00 L496.43,211.97 L496.73,211.94 L497.03,211.91 L497.33,211.88 L497.63,211.85 L497.92,211.81 L498.22,211.78 L498.52,211.74 L498.82,211.71 L499.12,211.67 L499.42,211.63 L499.72,211.60 L500.02,211.56 L500.31,211.52 L500.61,211.47 L500.91,211.43 L501.21,211.39 L501.51,211.34 L501.81,211.30 L502.11,211.25 L502.40,211.20 L502.70,211.15 L503.00,211.10 L503.30,211.04 L503.60,210.99 L503.90,210.93 L504.20,210.87 L504.50,210.81 L504.79,210.75 L505.09,210.69 L505.39,210.62 L505.69,210.55 L505.99,210.48 L506.29,210.41 L506.59,210.34 L506.88,210.26 L507.18,210.18 L507.48,210.10 L507.78,210.01 L508.08,209.92 L508.38,209.83 L508.68,209.74 L508.98,209.64 L509.27,209.54 L509.57,209.43 L509.87,209.32 L510.17,209.21 L510.47,209.09 L510.77,208.97 L511.07,208.84 L511.36,208.71 L511.66,208.57 L511.96,208.43 L512.26,208.28 L512.56,208.13 L512.86,207.97 L513.16,207.80 L513.46,207.62 L513.75,207.44 L514.05,207.25 L514.35,207.05 L514.65,206.84 L514.95,206.61 L515.25,206.38 L515.55,206.14 L515.84,205.88 L516.14,205.61 L516.44,205.32 L516.74,205.01 L517.04,204.69 L517.34,204.34 L517.64,203.97 L517.94,203.57 L518.23,203.15 L518.53,202.69 L518.83,202.20 L519.13,201.66 L519.43,201.08 L519.73,200.45 L520.03,199.77 L520.32,199.02 L520.62,198.20 L520.92,197.31 L521.22,196.33 L521.52,195.26 L521.82,194.08 L522.12,192.79 L522.42,191.38 L522.71,189.83 L523.01,188.14 L523.31,186.29 L523.61,184.28 L523.91,182.09 L524.21,179.70 L524.51,177.12 L524.80,174.33 L525.10,171.31 L525.40,168.08 L525.70,164.61 L526.00,160.91 L526.30,156.97 L526.60,152.79 L526.90,148.38 L527.19,143.74 L527.49,138.89 L527.79,133.83 L528.09,128.60 L528.39,123.20 L528.69,117.68 L528.99,112.08 L529.28,106.44 L529.58,100.82 L529.88,95.28 L530.18,89.90 L530.48,84.76 L530.78,79.96 L531.08,75.58 L531.38,71.73 L531.67,68.51 L531.97,65.99 L532.27,64.25 L532.57,63.34 L532.87,63.29 L533.17,64.10 L533.47,65.75 L533.76,68.18 L534.06,71.33 L534.36,75.11 L534.66,79.43 L534.96,84.19 L535.26,89.29 L535.56,94.65 L535.86,100.17 L536.15,105.79 L536.45,111.43 L536.75,117.04 L537.05,122.57 L537.35,127.98 L537.65,133.24 L537.95,138.31 L538.24,143.19 L538.54,147.86 L538.84,152.29 L539.14,156.50 L539.44,160.46 L539.74,164.19 L540.04,167.69 L540.34,170.95 L540.63,173.99 L540.93,176.81 L541.23,179.41 L541.53,181.82 L541.83,184.03 L542.13,186.07 L542.43,187.94 L542.72,189.65 L543.02,191.21 L543.32,192.63 L543.62,193.94 L543.92,195.13 L544.22,196.21 L544.52,197.20 L544.82,198.10 L545.11,198.93 L545.41,199.68 L545.71,200.38 L546.01,201.01 L546.31,201.60 L546.61,202.14 L546.91,202.63 L547.20,203.10 L547.50,203.53 L547.80,203.92 L548.10,204.30 L548.40,204.65 L548.70,204.97 L549.00,205.28 L549.30,205.57 L549.59,205.85 L549.89,206.11 L550.19,206.35 L550.49,206.59 L550.79,206.81 L551.09,207.02 L551.39,207.22 L551.68,207.42 L551.98,207.60 L552.28,207.78 L552.58,207.95 L552.88,208.11 L553.18,208.27 L553.48,208.41 L553.78,208.56 L554.07,208.70 L554.37,208.83 L554.67,208.96 L554.97,209.08 L555.27,209.20 L555.57,209.31 L555.87,209.42 L556.16,209.53 L556.46,209.63 L556.76,209.73 L557.06,209.82 L557.36,209.91 L557.66,210.00 L557.96,210.09 L558.26,210.17 L558.55,210.25 L558.85,210.33 L559.15,210.40 L559.45,210.48 L559.75,210.55 L560.05,210.61 L560.35,210.68 L560.64,210.74 L560.94,210.81 L561.24,210.87 L561.54,210.93 L561.84,210.98 L562.14,211.04 L562.44,211.09 L562.74,211.14 L563.03,211.19 L563.33,211.24 L563.63,211.29 L563.93,211.34 L564.23,211.38 L564.53,211.43 L564.83,211.47 L565.12,211.51 L565.42,211.55 L565.72,211.59 L566.02,211.63 L566.32,211.67 L566.62,211.70 L566.92,211.74 L567.22,211.77 L567.51,211.81 L567.81,211.84 L568.11,211.87 L568.41,211.91 L568.71,211.94 L569.01,211.97 L569.31,212.00 L569.60,212.02 L569.90,212.05 L570.20,212.08 L570.50,212.11 L570.80,212.13 L571.10,212.16 L571.40,212.18 L571.70,212.21 L571.99,212.23 L572.29,212.25 L572.59,212.28 L572.89,212.30 L573.19,212.32 L573.49,212.34 L573.79,212.36 L574.08,212.38 L574.38,212.40 L574.68,212.42 L574.98,212.44 L575.28,212.46 L575.58,212.48 L575.88,212.50 L576.18,212.51 L576.47,212.53 L576.77,212.55 L577.07,212.56 L577.37,212.58 L577.67,212.60 L577.97,212.61 L578.27,212.63 L578.56,212.64 L578.86,212.66 L579.16,212.67 L579.46,212.69 L579.76,212.70 L580.06,212.71 L580.36,212.73 L580.66,212.74 L580.95,212.75 L581.25,212.77 L581.55,212.78 L581.85,212.79 L582.15,212.80 L582.45,212.81 L582.75,212.83 L583.04,212.84 L583.34,212.85 L583.64,212.86 L583.94,212.87 L584.24,212.88 L584.54,212.89 L584.84,212.90 L585.14,212.91 L585.43,212.92 L585.73,212.93 L586.03,212.94 L586.33,212.95 L586.63,212.96 L586.93,212.97 L587.23,212.98 L587.52,212.99 L587.82,213.00 L588.12,213.00 L588.42,213.01 L588.72,213.02 L589.02,213.03 L589.32,213.04 L589.62,213.05 L589.91,213.05 L590.21,213.06 L590.51,213.07 L590.81,213.08 L591.11,213.08 L591.41,213.09 L591.71,213.10 L592.00,213.10 L592.30,213.11 L592.60,213.12 L592.90,213.12 L593.20,213.13 L593.50,213.14 L593.80,213.14 L594.10,213.15 L594.39,213.16 L594.69,213.16 L594.99,213.17 L595.29,213.17 L595.59,213.18 L595.89,213.19 L596.19,213.19 L596.48,213.20 L596.78,213.20 L597.08,213.21 L597.38,213.21 L597.68,213.22 L597.98,213.23 L598.28,213.23 L598.58,213.24 L598.87,213.24 L599.17,213.25 L599.47,213.25 L599.77,213.26 L600.07,213.26 L600.37,213.26 L600.67,213.27 L600.96,213.27 L601.26,213.28 L601.56,213.28 L601.86,213.29 L602.16,213.29 L602.46,213.30 L602.76,213.30 L603.06,213.30 L603.35,213.31 L603.65,213.31 L603.95,213.32 L604.25,213.32 L604.55,213.32 L604.85,213.33 L605.15,213.33 L605.44,213.34 L605.74,213.34 L606.04,213.34 L606.34,213.35 L606.64,213.35 L606.94,213.35 L607.24,213.36 L607.54,213.36 L607.83,213.37 L608.13,213.37 L608.43,213.37 L608.73,213.38 L609.03,213.38 L609.33,213.38 L609.63,213.39 L609.92,213.39 L610.22,213.39 L610.52,213.39 L610.82,213.40 L611.12,213.40 L611.42,213.40 L611.72,213.41 L612.02,213.41 L612.31,213.41 L612.61,213.42 L612.91,213.42 L613.21,213.42 L613.51,213.42 L613.81,213.43 L614.11,213.43 L614.40,213.43 L614.70,213.43 L615.00,213.44 L615.30,213.44 L615.60,213.44 L615.90,213.45 L616.20,213.45 L616.49,213.45 L616.79,213.45 L617.09,213.46 L617.39,213.46 L617.69,213.46 L617.99,213.46 L618.29,213.46 L618.59,213.47 L618.88,213.47 L619.18,213.47 L619.48,213.47 L619.78,213.48 L620.08,213.48 L620.38,213.48 L620.68,213.48 L620.97,213.48 L621.27,213.49 L621.57,213.49 L621.87,213.49 L622.17,213.49 L622.47,213.50 L622.77,213.50 L623.07,213.50 L623.36,213.50 L623.66,213.50 L623.96,213.51 L624.26,213.51 L624.56,213.51 L624.86,213.51 L625.16,213.51 L625.45,213.51 L625.75,213.52 L626.05,213.52 L626.35,213.52 L626.65,213.52 L626.95,213.52 L627.25,213.53 L627.55,213.53 L627.84,213.53 L628.14,213.53 L628.44,213.53 L628.74,213.53 L629.04,213.54 L629.34,213.54 L629.64,213.54 L629.93,213.54 L630.23,213.54 L630.53,213.54 L630.83,213.54 L631.13,213.55 L631.43,213.55 L631.73,213.55 L632.03,213.55 L632.32,213.55 L632.62,213.55 L632.92,213.56 L633.22,213.56 L633.52,213.56 L633.82,213.56 L634.12,213.56 L634.41,213.56 L634.71,213.56 L635.01,213.57 L635.31,213.57 L635.61,213.57 L635.91,213.57 L636.21,213.57 L636.51,213.57 L636.80,213.57 L637.10,213.57 L637.40,213.58 L637.70,213.58 L638.00,213.58 L638.30,213.58 L638.60,213.58 L638.89,213.58 L639.19,213.58 L639.49,213.58 L639.79,213.59 L640.09,213.59 L640.39,213.59 L640.69,213.59 L640.99,213.59 L641.28,213.59 L641.58,213.59 L641.88,213.59 L642.18,213.59 L642.48,213.60 L642.78,213.60 L643.08,213.60 L643.37,213.60 L643.67,213.60 L643.97,213.60 L644.27,213.60 L644.57,213.60 L644.87,213.60 L645.17,213.61 L645.47,213.61 L645.76,213.61 L646.06,213.61 L646.36,213.61 L646.66,213.61 L646.96,213.61 L647.26,213.61 L647.56,213.61 L647.85,213.61 L648.15,213.62 L648.45,213.62 L648.75,213.62 L649.05,213.62 L649.35,213.62 L649.65,213.62 L649.95,213.62 L650.24,213.62 L650.54,213.62 L650.84,213.62 L651.14,213.62 L651.44,213.63 L651.74,213.63 L652.04,213.63 L652.33,213.63 L652.63,213.63 L652.93,213.63 L653.23,213.63 L653.53,213.63 L653.83,213.63 L654.13,213.63 L654.43,213.63 L654.72,213.63 L655.02,213.64 L655.32,213.64 L655.62,213.64 L655.92,213.64 L656.22,213.64 L656.52,213.64 L656.81,213.64 L657.11,213.64 L657.41,213.64 L657.71,213.64 L658.01,213.64 L658.31,213.64 L658.61,213.64 L658.91,213.65 L659.20,213.65 L659.50,213.65 L659.80,213.65 L660.10,213.65 L660.40,213.65 L660.70,213.65 L661.00,213.65 L661.29,213.65 L661.59,213.65 L661.89,213.65 L662.19,213.65 L662.49,213.65 L662.79,213.65 L663.09,213.66 L663.39,213.66 L663.68,213.66 L663.98,213.66 L664.28,213.66 L664.58,213.66 L664.88,213.66 L665.18,213.66 L665.48,213.66 L665.77,213.66 L666.07,213.66 L666.37,213.66 L666.67,213.66 L666.97,213.66 L667.27,213.66 L667.57,213.66 L667.87,213.67 L668.16,213.67 L668.46,213.67 L668.76,213.67 L669.06,213.67 L669.36,213.67 L669.66,213.67 L669.96,213.67 L670.25,213.67 L670.55,213.67 L670.85,213.67 L671.15,213.67 L671.45,213.67 L671.75,213.67 L672.05,213.67 L672.35,213.67 L672.64,213.67 L672.94,213.67 L673.24,213.68 L673.54,213.68 L673.84,213.68 L674.14,213.68 L674.44,213.68 L674.73,213.68 L675.03,213.68 L675.33,213.68 L675.63,213.68 L675.93,213.68 L676.23,213.68 L676.53,213.68 L676.83,213.68 L677.12,213.68 L677.42,213.68 L677.72,213.68 L678.02,213.68 L678.32,213.68 L678.62,213.68 L678.92,213.68 L679.21,213.69 L679.51,213.69 L679.81,213.69 L680.11,213.69 L680.41,213.69 L680.71,213.69 L681.01,213.69 L681.31,213.69 L681.60,213.69 L681.90,213.69 L682.20,213.69 L682.50,213.69 L682.50,213.80 L414.00,213.80 Z" fill="#eab8ae" fill-opacity="0.5" stroke="#eab8ae" stroke-opacity="0.6" stroke-width="0.5"/>
<path d="M414.00,213.76 L414.30,213.76 L414.60,213.76 L414.90,213.76 L415.19,213.76 L415.49,213.76 L415.79,213.76 L416.09,213.76 L416.39,213.76 L416.69,213.76 L416.99,213.76 L417.29,213.76 L417.58,213.76 L417.88,213.76 L418.18,213.76 L418.48,213.76 L418.78,213.76 L419.08,213.76 L419.38,213.76 L419.67,213.76 L419.97,213.76 L420.27,213.76 L420.57,213.76 L420.87,213.76 L421.17,213.76 L421.47,213.76 L421.77,213.76 L422.06,213.76 L422.36,213.76 L422.66,213.76 L422.96,213.76 L423.26,213.76 L423.56,213.76 L423.86,213.76 L424.15,213.76 L424.45,213.76 L424.75,213.76 L425.05,213.76 L425.35,213.76 L425.65,213.76 L425.95,213.76 L426.25,213.76 L426.54,213.75 L426.84,213.75 L427.14,213.75 L427.44,213.75 L427.74,213.75 L428.04,213.75 L428.34,213.75 L428.63,213.75 L428.93,213.75 L429.23,213.75 L429.53,213.75 L429.83,213.75 L430.13,213.75 L430.43,213.75 L430.73,213.75 L431.02,213.75 L431.32,213.75 L431.62,213.75 L431.92,213.75 L432.22,213.75 L432.52,213.75 L432.82,213.75 L433.11,213.75 L433.41,213.75 L433.71,213.75 L434.01,213.75 L434.31,213.75 L434.61,213.75 L434.91,213.75 L435.21,213.75 L435.50,213.75 L435.80,213.75 L436.10,213.75 L436.40,213.75 L436.70,213.75 L437.00,213.75 L437.30,213.74 L437.59,213.74 L437.89,213.74 L438.19,213.74 L438.49,213.74 L438.79,213.74 L439.09,213.74 L439.39,213.74 L439.69,213.74 L439.98,213.74 L440.28,213.74 L440.58,213.74 L440.88,213.74 L441.18,213.74 L441.48,213.74 L441.78,213.74 L442.07,213.74 L442.37,213.74 L442.67,213.74 L442.97,213.74 L443.27,213.74 L443.57,213.74 L443.87,213.74 L444.17,213.74 L444.46,213.74 L444.76,213.74 L445.06,213.74 L445.36,213.73 L445.66,213.73 L445.96,213.73 L446.26,213.73 L446.55,213.73 L446.85,213.73 L447.15,213.73 L447.45,213.73 L447.75,213.73 L448.05,213.73 L448.35,213.73 L448.65,213.73 L448.94,213.73 L449.24,213.73 L449.54,213.73 L449.84,213.73 L450.14,213.73 L450.44,213.73 L450.74,213.73 L451.03,213.73 L451.33,213.73 L451.63,213.73 L451.93,213.72 L452.23,213.72 L452.53,213.72 L452.83,213.72 L453.13,213.72 L453.42,213.72 L453.72,213.72 L454.02,213.72 L454.32,213.72 L454.62,213.72 L454.92,213.72 L455.22,213.72 L455.51,213.72 L455.81,213.72 L456.11,213.72 L456.41,213.72 L456.71,213.72 L457.01,213.71 L457.31,213.71 L457.61,213.71 L457.90,213.71 L458.20,213.71 L458.50,213.71 L458.80,213.71 L459.10,213.71 L459.40,213.71 L459.70,213.71 L459.99,213.71 L460.29,213.71 L460.59,213.71 L460.89,213.71 L461.19,213.71 L461.49,213.70 L461.79,213.70 L462.09,213.70 L462.38,213.70 L462.68,213.70 L462.98,213.70 L463.28,213.70 L463.58,213.70 L463.88,213.70 L464.18,213.70 L464.47,213.70 L464.77,213.70 L465.07,213.70 L465.37,213.69 L465.67,213.69 L465.97,213.69 L466.27,213.69 L466.57,213.69 L466.86,213.69 L467.16,213.69 L467.46,213.69 L467.76,213.69 L468.06,213.69 L468.36,213.69 L468.66,213.68 L468.95,213.68 L469.25,213.68 L469.55,213.68 L469.85,213.68 L470.15,213.68 L470.45,213.68 L470.75,213.68 L471.05,213.68 L471.34,213.67 L471.64,213.67 L471.94,213.67 L472.24,213.67 L472.54,213.67 L472.84,213.67 L473.14,213.67 L473.43,213.67 L473.73,213.67 L474.03,213.66 L474.33,213.66 L474.63,213.66 L474.93,213.66 L475.23,213.66 L475.53,213.66 L475.82,213.66 L476.12,213.66 L476.42,213.65 L476.72,213.65 L477.02,213.65 L477.32,213.65 L477.62,213.65 L477.91,213.65 L478.21,213.65 L478.51,213.64 L478.81,213.64 L479.11,213.64 L479.41,213.64 L479.71,213.64 L480.01,213.64 L480.30,213.63 L480.60,213.63 L480.90,213.63 L481.20,213.63 L481.50,213.63 L481.80,213.62 L482.10,213.62 L482.39,213.62 L482.69,213.62 L482.99,213.62 L483.29,213.62 L483.59,213.61 L483.89,213.61 L484.19,213.61 L484.48,213.61 L484.78,213.61 L485.08,213.60 L485.38,213.60 L485.68,213.60 L485.98,213.60 L486.28,213.59 L486.58,213.59 L486.87,213.59 L487.17,213.59 L487.47,213.58 L487.77,213.58 L488.07,213.58 L488.37,213.58 L488.67,213.57 L488.96,213.57 L489.26,213.57 L489.56,213.57 L489.86,213.56 L490.16,213.56 L490.46,213.56 L490.76,213.55 L491.06,213.55 L491.35,213.55 L491.65,213.54 L491.95,213.54 L492.25,213.54 L492.55,213.53 L492.85,213.53 L493.15,213.53 L493.44,213.52 L493.74,213.52 L494.04,213.52 L494.34,213.51 L494.64,213.51 L494.94,213.51 L495.24,213.50 L495.54,213.50 L495.83,213.49 L496.13,213.49 L496.43,213.48 L496.73,213.48 L497.03,213.47 L497.33,213.47 L497.63,213.47 L497.92,213.46 L498.22,213.46 L498.52,213.45 L498.82,213.45 L499.12,213.44 L499.42,213.43 L499.72,213.43 L500.02,213.42 L500.31,213.42 L500.61,213.41 L500.91,213.41 L501.21,213.40 L501.51,213.39 L501.81,213.39 L502.11,213.38 L502.40,213.37 L502.70,213.37 L503.00,213.36 L503.30,213.35 L503.60,213.34 L503.90,213.34 L504.20,213.33 L504.50,213.32 L504.79,213.31 L505.09,213.30 L505.39,213.29 L505.69,213.28 L505.99,213.28 L506.29,213.27 L506.59,213.26 L506.88,213.25 L507.18,213.24 L507.48,213.22 L507.78,213.21 L508.08,213.20 L508.38,213.19 L508.68,213.18 L508.98,213.17 L509.27,213.15 L509.57,213.14 L509.87,213.13 L510.17,213.11 L510.47,213.10 L510.77,213.08 L511.07,213.07 L511.36,213.05 L511.66,213.04 L511.96,213.02 L512.26,213.00 L512.56,212.98 L512.86,212.97 L513.16,212.95 L513.46,212.93 L513.75,212.91 L514.05,212.89 L514.35,212.86 L514.65,212.84 L514.95,212.82 L515.25,212.79 L515.55,212.77 L515.84,212.74 L516.14,212.71 L516.44,212.68 L516.74,212.66 L517.04,212.62 L517.34,212.59 L517.64,212.56 L517.94,212.52 L518.23,212.49 L518.53,212.45 L518.83,212.41 L519.13,212.37 L519.43,212.33 L519.73,212.28 L520.03,212.24 L520.32,212.19 L520.62,212.13 L520.92,212.08 L521.22,212.02 L521.52,211.96 L521.82,211.90 L522.12,211.84 L522.42,211.77 L522.71,211.70 L523.01,211.62 L523.31,211.54 L523.61,211.45 L523.91,211.36 L524.21,211.27 L524.51,211.17 L524.80,211.06 L525.10,210.94 L525.40,210.82 L525.70,210.68 L526.00,210.54 L526.30,210.38 L526.60,210.21 L526.90,210.02 L527.19,209.81 L527.49,209.58 L527.79,209.32 L528.09,209.02 L528.39,208.69 L528.69,208.31 L528.99,207.87 L529.28,207.36 L529.58,206.77 L529.88,206.09 L530.18,205.31 L530.48,204.40 L530.78,203.34 L531.08,202.13 L531.38,200.73 L531.67,199.14 L531.97,197.32 L532.27,195.27 L532.57,192.95 L532.87,190.37 L533.17,187.50 L533.47,184.35 L533.76,180.90 L534.06,177.17 L534.36,173.17 L534.66,168.92 L534.96,164.44 L535.26,159.78 L535.56,154.99 L535.86,150.13 L536.15,145.27 L536.45,140.52 L536.75,135.95 L537.05,131.70 L537.35,127.88 L537.65,124.61 L537.95,122.03 L538.24,120.23 L538.54,119.29 L538.84,119.26 L539.14,120.13 L539.44,121.87 L539.74,124.41 L540.04,127.63 L540.34,131.41 L540.63,135.64 L540.93,140.18 L541.23,144.93 L541.53,149.78 L541.83,154.64 L542.13,159.44 L542.43,164.11 L542.72,168.60 L543.02,172.88 L543.32,176.90 L543.62,180.65 L543.92,184.11 L544.22,187.29 L544.52,190.18 L544.82,192.78 L545.11,195.11 L545.41,197.18 L545.71,199.02 L546.01,200.63 L546.31,202.04 L546.61,203.26 L546.91,204.33 L547.20,205.25 L547.50,206.04 L547.80,206.73 L548.10,207.32 L548.40,207.83 L548.70,208.28 L549.00,208.66 L549.30,209.00 L549.59,209.30 L549.89,209.56 L550.19,209.80 L550.49,210.01 L550.79,210.20 L551.09,210.37 L551.39,210.53 L551.68,210.67 L551.98,210.81 L552.28,210.93 L552.58,211.05 L552.88,211.16 L553.18,211.26 L553.48,211.36 L553.78,211.45 L554.07,211.53 L554.37,211.61 L554.67,211.69 L554.97,211.76 L555.27,211.83 L555.57,211.90 L555.87,211.96 L556.16,212.02 L556.46,212.08 L556.76,212.13 L557.06,212.18 L557.36,212.23 L557.66,212.28 L557.96,212.32 L558.26,212.37 L558.55,212.41 L558.85,212.45 L559.15,212.49 L559.45,212.52 L559.75,212.56 L560.05,212.59 L560.35,212.62 L560.64,212.65 L560.94,212.68 L561.24,212.71 L561.54,212.74 L561.84,212.77 L562.14,212.79 L562.44,212.82 L562.74,212.84 L563.03,212.86 L563.33,212.88 L563.63,212.91 L563.93,212.93 L564.23,212.95 L564.53,212.96 L564.83,212.98 L565.12,213.00 L565.42,213.02 L565.72,213.04 L566.02,213.05 L566.32,213.07 L566.62,213.08 L566.92,213.10 L567.22,213.11 L567.51,213.13 L567.81,213.14 L568.11,213.15 L568.41,213.17 L568.71,213.18 L569.01,213.19 L569.31,213.20 L569.60,213.21 L569.90,213.22 L570.20,213.23 L570.50,213.25 L570.80,213.26 L571.10,213.27 L571.40,213.27 L571.70,213.28 L571.99,213.29 L572.29,213.30 L572.59,213.31 L572.89,213.32 L573.19,213.33 L573.49,213.34 L573.79,213.34 L574.08,213.35 L574.38,213.36 L574.68,213.37 L574.98,213.37 L575.28,213.38 L575.58,213.39 L575.88,213.39 L576.18,213.40 L576.47,213.41 L576.77,213.41 L577.07,213.42 L577.37,213.42 L577.67,213.43 L577.97,213.43 L578.27,213.44 L578.56,213.44 L578.86,213.45 L579.16,213.46 L579.46,213.46 L579.76,213.47 L580.06,213.47 L580.36,213.47 L580.66,213.48 L580.95,213.48 L581.25,213.49 L581.55,213.49 L581.85,213.50 L582.15,213.50 L582.45,213.50 L582.75,213.51 L583.04,213.51 L583.34,213.52 L583.64,213.52 L583.94,213.52 L584.24,213.53 L584.54,213.53 L584.84,213.53 L585.14,213.54 L585.43,213.54 L585.73,213.54 L586.03,213.55 L586.33,213.55 L586.63,213.55 L586.93,213.56 L587.23,213.56 L587.52,213.56 L587.82,213.57 L588.12,213.57 L588.42,213.57 L588.72,213.57 L589.02,213.58 L589.32,213.58 L589.62,213.58 L589.91,213.58 L590.21,213.59 L590.51,213.59 L590.81,213.59 L591.11,213.59 L591.41,213.60 L591.71,213.60 L592.00,213.60 L592.30,213.60 L592.60,213.60 L592.90,213.61 L593.20,213.61 L593.50,213.61 L593.80,213.61 L594.10,213.62 L594.39,213.62 L594.69,213.62 L594.99,213.62 L595.29,213.62 L595.59,213.62 L595.89,213.63 L596.19,213.63 L596.48,213.63 L596.78,213.63 L597.08,213.63 L597.38,213.64 L597.68,213.64 L597.98,213.64 L598.28,213.64 L598.58,213.64 L598.87,213.64 L599.17,213.64 L599.47,213.65 L599.77,213.65 L600.07,213.65 L600.37,213.65 L600.67,213.65 L600.96,213.65 L601.26,213.66 L601.56,213.66 L601.86,213.66 L602.16,213.66 L602.46,213.66 L602.76,213.66 L603.06,213.66 L603.35,213.66 L603.65,213.67 L603.95,213.67 L604.25,213.67 L604.55,213.67 L604.85,213.67 L605.15,213.67 L605.44,213.67 L605.74,213.67 L606.04,213.67 L606.34,213.68 L606.64,213.68 L606.94,213.68 L607.24,213.68 L607.54,213.68 L607.83,213.68 L608.13,213.68 L608.43,213.68 L608.73,213.68 L609.03,213.69 L609.33,213.69 L609.63,213.69 L609.92,213.69 L610.22,213.69 L610.52,213.69 L610.82,213.69 L611.12,213.69 L611.42,213.69 L611.72,213.69 L612.02,213.69 L612.31,213.70 L612.61,213.70 L612.91,213.70 L613.21,213.70 L613.51,213.70 L613.81,213.70 L614.11,213.70 L614.40,213.70 L614.70,213.70 L615.00,213.70 L615.30,213.70 L615.60,213.70 L615.90,213.70 L616.20,213.71 L616.49,213.71 L616.79,213.71 L617.09,213.71 L617.39,213.71 L617.69,213.71 L617.99,213.71 L618.29,213.71 L618.59,213.71 L618.88,213.71 L619.18,213.71 L619.48,213.71 L619.78,213.71 L620.08,213.71 L620.38,213.71 L620.68,213.72 L620.97,213.72 L621.27,213.72 L621.57,213.72 L621.87,213.72 L622.17,213.72 L622.47,213.72 L622.77,213.72 L623.07,213.72 L623.36,213.72 L623.66,213.72 L623.96,213.72 L624.26,213.72 L624.56,213.72 L624.86,213.72 L625.16,213.72 L625.45,213.72 L625.75,213.73 L626.05,213.73 L626.35,213.73 L626.65,213.73 L626.95,213.73 L627.25,213.73 L627.55,213.73 L627.84,213.73 L628.14,213.73 L628.44,213.73 L628.74,213.73 L629.04,213.73 L629.34,213.73 L629.64,213.73 L629.93,213.73 L630.23,213.73 L630.53,213.73 L630.83,213.73 L631.13,213.73 L631.43,213.73 L631.73,213.73 L632.03,213.73 L632.32,213.74 L632.62,213.74 L632.92,213.74 L633.22,213.74 L633.52,213.74 L633.82,213.74 L634.12,213.74 L634.41,213.74 L634.71,213.74 L635.01,213.74 L635.31,213.74 L635.61,213.74 L635.91,213.74 L636.21,213.74 L636.51,213.74 L636.80,213.74 L637.10,213.74 L637.40,213.74 L637.70,213.74 L638.00,213.74 L638.30,213.74 L638.60,213.74 L638.89,213.74 L639.19,213.74 L639.49,213.74 L639.79,213.74 L640.09,213.74 L640.39,213.75 L640.69,213.75 L640.99,213.75 L641.28,213.75 L641.58,213.75 L641.88,213.75 L642.18,213.75 L642.48,213.75 L642.78,213.75 L643.08,213.75 L643.37,213.75 L643.67,213.75 L643.97,213.75 L644.27,213.75 L644.57,213.75 L644.87,213.75 L645.17,213.75 L645.47,213.75 L645.76,213.75 L646.06,213.75 L646.36,213.75 L646.66,213.75 L646.96,213.75 L647.26,213.75 L647.56,213.75 L647.85,213.75 L648.15,213.75 L648.45,213.75 L648.75,213.75 L649.05,213.75 L649.35,213.75 L649.65,213.75 L649.95,213.75 L650.24,213.75 L650.54,213.75 L650.84,213.75 L651.14,213.76 L651.44,213.76 L651.74,213.76 L652.04,213.76 L652.33,213.76 L652.63,213.76 L652.93,213.76 L653.23,213.76 L653.53,213.76 L653.83,213.76 L654.13,213.76 L654.43,213.76 L654.72,213.76 L655.02,213.76 L655.32,213.76 L655.62,213.76 L655.92,213.76 L656.22,213.76 L656.52,213.76 L656.81,213.76 L657.11,213.76 L657.41,213.76 L657.71,213.76 L658.01,213.76 L658.31,213.76 L658.61,213.76 L658.91,213.76 L659.20,213.76 L659.50,213.76 L659.80,213.76 L660.10,213.76 L660.40,213.76 L660.70,213.76 L661.00,213.76 L661.29,213.76 L661.59,213.76 L661.89,213.76 L662.19,213.76 L662.49,213.76 L662.79,213.76 L663.09,213.76 L663.39,213.76 L663.68,213.76 L663.98,213.76 L664.28,213.76 L664.58,213.76 L664.88,213.76 L665.18,213.76 L665.48,213.76 L665.77,213.76 L666.07,213.76 L666.37,213.77 L666.67,213.77 L666.97,213.77 L667.27,213.77 L667.57,213.77 L667.87,213.77 L668.16,213.77 L668.46,213.77 L668.76,213.77 L669.06,213.77 L669.36,213.77 L669.66,213.77 L669.96,213.77 L670.25,213.77 L670.55,213.77 L670.85,213.77 L671.15,213.77 L671.45,213.77 L671.75,213.77 L672.05,213.77 L672.35,213.77 L672.64,213.77 L672.94,213.77 L673.24,213.77 L673.54,213.77 L673.84,213.77 L674.14,213.77 L674.44,213.77 L674.73,213.77 L675.03,213.77 L675.33,213.77 L675.63,213.77 L675.93,213.77 L676.23,213.77 L676.53,213.77 L676.83,213.77 L677.12,213.77 L677.42,213.77 L677.72,213.77 L678.02,213.77 L678.32,213.77 L678.62,213.77 L678.92,213.77 L679.21,213.77 L679.51,213.77 L679.81,213.77 L680.11,213.77 L680.41,213.77 L680.71,213.77 L681.01,213.77 L681.31,213.77 L681.60,213.77 L681.90,213.77 L682.20,213.77 L682.50,213.77 L682.50,213.80 L414.00,213.80 Z" fill="#e05088" fill-opacity="0.7" stroke="#e05088" stroke-opacity="0.6" stroke-width="0.5"/>
<path d="M414.00,213.79 L414.30,213.79 L414.60,213.79 L414.90,213.79 L415.19,213.79 L415.49,213.79 L415.79,213.79 L416.09,213.79 L416.39,213.79 L416.69,213.79 L416.99,213.79 L417.29,213.79 L417.58,213.79 L417.88,213.79 L418.18,213.79 L418.48,213.79 L418.78,213.79 L419.08,213.79 L419.38,213.79 L419.67,213.79 L419.97,213.79 L420.27,213.79 L420.57,213.79 L420.87,213.79 L421.17,213.79 L421.47,213.79 L421.77,213.79 L422.06,213.79 L422.36,213.79 L422.66,213.79 L422.96,213.79 L423.26,213.79 L423.56,213.79 L423.86,213.79 L424.15,213.79 L424.45,213.79 L424.75,213.79 L425.05,213.79 L425.35,213.79 L425.65,213.79 L425.95,213.79 L426.25,213.79 L426.54,213.79 L426.84,213.79 L427.14,213.79 L427.44,213.79 L427.74,213.79 L428.04,213.79 L428.34,213.79 L428.63,213.79 L428.93,213.79 L429.23,213.79 L429.53,213.79 L429.83,213.79 L430.13,213.79 L430.43,213.79 L430.73,213.79 L431.02,213.79 L431.32,213.79 L431.62,213.79 L431.92,213.79 L432.22,213.79 L432.52,213.79 L432.82,213.79 L433.11,213.79 L433.41,213.79 L433.71,213.79 L434.01,213.79 L434.31,213.79 L434.61,213.79 L434.91,213.79 L435.21,213.79 L435.50,213.79 L435.80,213.79 L436.10,213.79 L436.40,213.79 L436.70,213.79 L437.00,213.79 L437.30,213.79 L437.59,213.79 L437.89,213.79 L438.19,213.79 L438.49,213.79 L438.79,213.79 L439.09,213.79 L439.39,213.79 L439.69,213.79 L439.98,213.79 L440.28,213.79 L440.58,213.79 L440.88,213.79 L441.18,213.79 L441.48,213.79 L441.78,213.79 L442.07,213.79 L442.37,213.79 L442.67,213.79 L442.97,213.79 L443.27,213.79 L443.57,213.79 L443.87,213.79 L444.17,213.79 L444.46,213.79 L444.76,213.79 L445.06,213.79 L445.36,213.79 L445.66,213.79 L445.96,213.79 L446.26,213.79 L446.55,213.79 L446.85,213.79 L447.15,213.79 L447.45,213.79 L447.75,213.79 L448.05,213.79 L448.35,213.79 L448.65,213.79 L448.94,213.79 L449.24,213.79 L449.54,213.79 L449.84,213.79 L450.14,213.79 L450.44,213.79 L450.74,213.79 L451.03,213.79 L451.33,213.79 L451.63,213.79 L451.93,213.79 L452.23,213.79 L452.53,213.79 L452.83,213.79 L453.13,213.79 L453.42,213.79 L453.72,213.79 L454.02,213.79 L454.32,213.79 L454.62,213.79 L454.92,213.79 L455.22,213.79 L455.51,213.79 L455.81,213.79 L456.11,213.79 L456.41,213.79 L456.71,213.79 L457.01,213.79 L457.31,213.79 L457.61,213.79 L457.90,213.79 L458.20,213.79 L458.50,213.79 L458.80,213.79 L459.10,213.79 L459.40,213.79 L459.70,213.79 L459.99,213.79 L460.29,213.79 L460.59,213.79 L460.89,213.79 L461.19,213.79 L461.49,213.79 L461.79,213.79 L462.09,213.79 L462.38,213.79 L462.68,213.79 L462.98,213.79 L463.28,213.79 L463.58,213.79 L463.88,213.79 L464.18,213.79 L464.47,213.79 L464.77,213.79 L465.07,213.79 L465.37,213.79 L465.67,213.79 L465.97,213.79 L466.27,213.79 L466.57,213.79 L466.86,213.79 L467.16,213.79 L467.46,213.79 L467.76,213.79 L468.06,213.79 L468.36,213.79 L468.66,213.79 L468.95,213.79 L469.25,213.79 L469.55,213.79 L469.85,213.79 L470.15,213.79 L470.45,213.79 L470.75,213.79 L471.05,213.79 L471.34,213.79 L471.64,213.79 L471.94,213.79 L472.24,213.79 L472.54,213.79 L472.84,213.79 L473.14,213.79 L473.43,213.79 L473.73,213.79 L474.03,213.79 L474.33,213.79 L474.63,213.79 L474.93,213.79 L475.23,213.79 L475.53,213.79 L475.82,213.79 L476.12,213.79 L476.42,213.79 L476.72,213.79 L477.02,213.79 L477.32,213.79 L477.62,213.79 L477.91,213.79 L478.21,213.79 L478.51,213.79 L478.81,213.79 L479.11,213.79 L479.41,213.79 L479.71,213.79 L480.01,213.79 L480.30,213.79 L480.60,213.79 L480.90,213.79 L481.20,213.79 L481.50,213.79 L481.80,213.79 L482.10,213.79 L482.39,213.79 L482.69,213.79 L482.99,213.79 L483.29,213.79 L483.59,213.79 L483.89,213.79 L484.19,213.79 L484.48,213.79 L484.78,213.79 L485.08,213.79 L485.38,213.79 L485.68,213.79 L485.98,213.79 L486.28,213.79 L486.58,213.79 L486.87,213.79 L487.17,213.79 L487.47,213.79 L487.77,213.79 L488.07,213.78 L488.37,213.78 L488.67,213.78 L488.96,213.78 L489.26,213.78 L489.56,213.78 L489.86,213.78 L490.16,213.78 L490.46,213.78 L490.76,213.78 L491.06,213.78 L491.35,213.78 L491.65,213.78 L491.95,213.78 L492.25,213.78 L492.55,213.78 L492.85,213.78 L493.15,213.78 L493.44,213.78 L493.74,213.78 L494.04,213.78 L494.34,213.78 L494.64,213.78 L494.94,213.78 L495.24,213.78 L495.54,213.78 L495.83,213.78 L496.13,213.78 L496.43,213.78 L496.73,213.78 L497.03,213.78 L497.33,213.78 L497.63,213.78 L497.92,213.78 L498.22,213.78 L498.52,213.78 L498.82,213.78 L499.12,213.78 L499.42,213.78 L499.72,213.78 L500.02,213.78 L500.31,213.78 L500.61,213.78 L500.91,213.78 L501.21,213.78 L501.51,213.78 L501.81,213.78 L502.11,213.78 L502.40,213.78 L502.70,213.78 L503.00,213.78 L503.30,213.78 L503.60,213.78 L503.90,213.78 L504.20,213.78 L504.50,213.78 L504.79,213.78 L505.09,213.78 L505.39,213.78 L505.69,213.78 L505.99,213.78 L506.29,213.78 L506.59,213.78 L506.88,213.78 L507.18,213.78 L507.48,213.78 L507.78,213.78 L508.08,213.78 L508.38,213.78 L508.68,213.78 L508.98,213.78 L509.27,213.78 L509.57,213.78 L509.87,213.78 L510.17,213.78 L510.47,213.78 L510.77,213.78 L511.07,213.78 L511.36,213.78 L511.66,213.78 L511.96,213.78 L512.26,213.78 L512.56,213.78 L512.86,213.78 L513.16,213.78 L513.46,213.78 L513.75,213.78 L514.05,213.78 L514.35,213.78 L514.65,213.78 L514.95,213.78 L515.25,213.78 L515.55,213.78 L515.84,213.78 L516.14,213.78 L516.44,213.78 L516.74,213.78 L517.04,213.78 L517.34,213.78 L517.64,213.78 L517.94,213.78 L518.23,213.78 L518.53,213.78 L518.83,213.78 L519.13,213.78 L519.43,213.78 L519.73,213.78 L520.03,213.78 L520.32,213.78 L520.62,213.78 L520.92,213.78 L521.22,213.78 L521.52,213.77 L521.82,213.77 L522.12,213.77 L522.42,213.77 L522.71,213.77 L523.01,213.77 L523.31,213.77 L523.61,213.77 L523.91,213.77 L524.21,213.77 L524.51,213.77 L524.80,213.77 L525.10,213.77 L525.40,213.77 L525.70,213.77 L526.00,213.77 L526.30,213.77 L526.60,213.77 L526.90,213.77 L527.19,213.77 L527.49,213.77 L527.79,213.77 L528.09,213.77 L528.39,213.77 L528.69,213.77 L528.99,213.77 L529.28,213.77 L529.58,213.77 L529.88,213.77 L530.18,213.77 L530.48,213.77 L530.78,213.77 L531.08,213.77 L531.38,213.77 L531.67,213.77 L531.97,213.77 L532.27,213.77 L532.57,213.77 L532.87,213.77 L533.17,213.77 L533.47,213.77 L533.76,213.77 L534.06,213.77 L534.36,213.77 L534.66,213.77 L534.96,213.77 L535.26,213.77 L535.56,213.77 L535.86,213.77 L536.15,213.77 L536.45,213.77 L536.75,213.77 L537.05,213.77 L537.35,213.77 L537.65,213.77 L537.95,213.77 L538.24,213.77 L538.54,213.77 L538.84,213.77 L539.14,213.76 L539.44,213.76 L539.74,213.76 L540.04,213.76 L540.34,213.76 L540.63,213.76 L540.93,213.76 L541.23,213.76 L541.53,213.76 L541.83,213.76 L542.13,213.76 L542.43,213.76 L542.72,213.76 L543.02,213.76 L543.32,213.76 L543.62,213.76 L543.92,213.76 L544.22,213.76 L544.52,213.76 L544.82,213.76 L545.11,213.76 L545.41,213.76 L545.71,213.76 L546.01,213.76 L546.31,213.76 L546.61,213.76 L546.91,213.76 L547.20,213.76 L547.50,213.76 L547.80,213.76 L548.10,213.76 L548.40,213.76 L548.70,213.76 L549.00,213.76 L549.30,213.76 L549.59,213.76 L549.89,213.76 L550.19,213.76 L550.49,213.76 L550.79,213.75 L551.09,213.75 L551.39,213.75 L551.68,213.75 L551.98,213.75 L552.28,213.75 L552.58,213.75 L552.88,213.75 L553.18,213.75 L553.48,213.75 L553.78,213.75 L554.07,213.75 L554.37,213.75 L554.67,213.75 L554.97,213.75 L555.27,213.75 L555.57,213.75 L555.87,213.75 L556.16,213.75 L556.46,213.75 L556.76,213.75 L557.06,213.75 L557.36,213.75 L557.66,213.75 L557.96,213.75 L558.26,213.75 L558.55,213.75 L558.85,213.74 L559.15,213.74 L559.45,213.74 L559.75,213.74 L560.05,213.74 L560.35,213.74 L560.64,213.74 L560.94,213.74 L561.24,213.74 L561.54,213.74 L561.84,213.74 L562.14,213.74 L562.44,213.74 L562.74,213.74 L563.03,213.74 L563.33,213.74 L563.63,213.74 L563.93,213.74 L564.23,213.74 L564.53,213.74 L564.83,213.74 L565.12,213.73 L565.42,213.73 L565.72,213.73 L566.02,213.73 L566.32,213.73 L566.62,213.73 L566.92,213.73 L567.22,213.73 L567.51,213.73 L567.81,213.73 L568.11,213.73 L568.41,213.73 L568.71,213.73 L569.01,213.73 L569.31,213.73 L569.60,213.73 L569.90,213.72 L570.20,213.72 L570.50,213.72 L570.80,213.72 L571.10,213.72 L571.40,213.72 L571.70,213.72 L571.99,213.72 L572.29,213.72 L572.59,213.72 L572.89,213.72 L573.19,213.72 L573.49,213.72 L573.79,213.72 L574.08,213.71 L574.38,213.71 L574.68,213.71 L574.98,213.71 L575.28,213.71 L575.58,213.71 L575.88,213.71 L576.18,213.71 L576.47,213.71 L576.77,213.71 L577.07,213.71 L577.37,213.70 L577.67,213.70 L577.97,213.70 L578.27,213.70 L578.56,213.70 L578.86,213.70 L579.16,213.70 L579.46,213.70 L579.76,213.70 L580.06,213.70 L580.36,213.69 L580.66,213.69 L580.95,213.69 L581.25,213.69 L581.55,213.69 L581.85,213.69 L582.15,213.69 L582.45,213.69 L582.75,213.68 L583.04,213.68 L583.34,213.68 L583.64,213.68 L583.94,213.68 L584.24,213.68 L584.54,213.68 L584.84,213.68 L585.14,213.67 L585.43,213.67 L585.73,213.67 L586.03,213.67 L586.33,213.67 L586.63,213.67 L586.93,213.66 L587.23,213.66 L587.52,213.66 L587.82,213.66 L588.12,213.66 L588.42,213.66 L588.72,213.65 L589.02,213.65 L589.32,213.65 L589.62,213.65 L589.91,213.65 L590.21,213.64 L590.51,213.64 L590.81,213.64 L591.11,213.64 L591.41,213.64 L591.71,213.63 L592.00,213.63 L592.30,213.63 L592.60,213.63 L592.90,213.62 L593.20,213.62 L593.50,213.62 L593.80,213.62 L594.10,213.61 L594.39,213.61 L594.69,213.61 L594.99,213.61 L595.29,213.60 L595.59,213.60 L595.89,213.60 L596.19,213.59 L596.48,213.59 L596.78,213.59 L597.08,213.59 L597.38,213.58 L597.68,213.58 L597.98,213.58 L598.28,213.57 L598.58,213.57 L598.87,213.56 L599.17,213.56 L599.47,213.56 L599.77,213.55 L600.07,213.55 L600.37,213.54 L600.67,213.54 L600.96,213.54 L601.26,213.53 L601.56,213.53 L601.86,213.52 L602.16,213.52 L602.46,213.51 L602.76,213.51 L603.06,213.50 L603.35,213.50 L603.65,213.49 L603.95,213.48 L604.25,213.48 L604.55,213.47 L604.85,213.47 L605.15,213.46 L605.44,213.45 L605.74,213.45 L606.04,213.44 L606.34,213.43 L606.64,213.43 L606.94,213.42 L607.24,213.41 L607.54,213.40 L607.83,213.39 L608.13,213.39 L608.43,213.38 L608.73,213.37 L609.03,213.36 L609.33,213.35 L609.63,213.34 L609.92,213.33 L610.22,213.32 L610.52,213.31 L610.82,213.29 L611.12,213.28 L611.42,213.27 L611.72,213.26 L612.02,213.24 L612.31,213.23 L612.61,213.22 L612.91,213.20 L613.21,213.19 L613.51,213.17 L613.81,213.15 L614.11,213.14 L614.40,213.12 L614.70,213.10 L615.00,213.08 L615.30,213.06 L615.60,213.04 L615.90,213.02 L616.20,212.99 L616.49,212.97 L616.79,212.95 L617.09,212.92 L617.39,212.89 L617.69,212.86 L617.99,212.83 L618.29,212.80 L618.59,212.77 L618.88,212.73 L619.18,212.70 L619.48,212.66 L619.78,212.62 L620.08,212.58 L620.38,212.53 L620.68,212.49 L620.97,212.44 L621.27,212.38 L621.57,212.33 L621.87,212.27 L622.17,212.21 L622.47,212.14 L622.77,212.07 L623.07,211.99 L623.36,211.91 L623.66,211.82 L623.96,211.73 L624.26,211.63 L624.56,211.52 L624.86,211.39 L625.16,211.26 L625.45,211.11 L625.75,210.94 L626.05,210.74 L626.35,210.52 L626.65,210.27 L626.95,209.98 L627.25,209.64 L627.55,209.24 L627.84,208.77 L628.14,208.23 L628.44,207.59 L628.74,206.84 L629.04,205.96 L629.34,204.95 L629.64,203.77 L629.93,202.41 L630.23,200.87 L630.53,199.11 L630.83,197.14 L631.13,194.93 L631.43,192.50 L631.73,189.84 L632.03,186.95 L632.32,183.86 L632.62,180.59 L632.92,177.16 L633.22,173.63 L633.52,170.05 L633.82,166.49 L634.12,163.01 L634.41,159.72 L634.71,156.72 L635.01,154.10 L635.31,151.99 L635.61,150.47 L635.91,149.63 L636.21,149.50 L636.51,150.10 L636.80,151.39 L637.10,153.31 L637.40,155.76 L637.70,158.65 L638.00,161.85 L638.30,165.27 L638.60,168.81 L638.89,172.40 L639.19,175.95 L639.49,179.42 L639.79,182.75 L640.09,185.90 L640.39,188.86 L640.69,191.60 L640.99,194.12 L641.28,196.40 L641.58,198.45 L641.88,200.28 L642.18,201.90 L642.48,203.32 L642.78,204.56 L643.08,205.63 L643.37,206.55 L643.67,207.34 L643.97,208.02 L644.27,208.60 L644.57,209.09 L644.87,209.51 L645.17,209.87 L645.47,210.17 L645.76,210.44 L646.06,210.67 L646.36,210.87 L646.66,211.05 L646.96,211.21 L647.26,211.35 L647.56,211.47 L647.85,211.59 L648.15,211.70 L648.45,211.79 L648.75,211.88 L649.05,211.97 L649.35,212.04 L649.65,212.12 L649.95,212.18 L650.24,212.25 L650.54,212.31 L650.84,212.36 L651.14,212.42 L651.44,212.47 L651.74,212.52 L652.04,212.56 L652.33,212.61 L652.63,212.65 L652.93,212.69 L653.23,212.72 L653.53,212.76 L653.83,212.79 L654.13,212.82 L654.43,212.85 L654.72,212.88 L655.02,212.91 L655.32,212.94 L655.62,212.96 L655.92,212.99 L656.22,213.01 L656.52,213.03 L656.81,213.05 L657.11,213.07 L657.41,213.09 L657.71,213.11 L658.01,213.13 L658.31,213.15 L658.61,213.16 L658.91,213.18 L659.20,213.20 L659.50,213.21 L659.80,213.23 L660.10,213.24 L660.40,213.25 L660.70,213.27 L661.00,213.28 L661.29,213.29 L661.59,213.30 L661.89,213.31 L662.19,213.32 L662.49,213.33 L662.79,213.34 L663.09,213.35 L663.39,213.36 L663.68,213.37 L663.98,213.38 L664.28,213.39 L664.58,213.40 L664.88,213.41 L665.18,213.42 L665.48,213.42 L665.77,213.43 L666.07,213.44 L666.37,213.44 L666.67,213.45 L666.97,213.46 L667.27,213.46 L667.57,213.47 L667.87,213.48 L668.16,213.48 L668.46,213.49 L668.76,213.49 L669.06,213.50 L669.36,213.51 L669.66,213.51 L669.96,213.52 L670.25,213.52 L670.55,213.52 L670.85,213.53 L671.15,213.53 L671.45,213.54 L671.75,213.54 L672.05,213.55 L672.35,213.55 L672.64,213.56 L672.94,213.56 L673.24,213.56 L673.54,213.57 L673.84,213.57 L674.14,213.57 L674.44,213.58 L674.73,213.58 L675.03,213.58 L675.33,213.59 L675.63,213.59 L675.93,213.59 L676.23,213.60 L676.53,213.60 L676.83,213.60 L677.12,213.61 L677.42,213.61 L677.72,213.61 L678.02,213.61 L678.32,213.62 L678.62,213.62 L678.92,213.62 L679.21,213.62 L679.51,213.63 L679.81,213.63 L680.11,213.63 L680.41,213.63 L680.71,213.64 L681.01,213.64 L681.31,213.64 L681.60,213.64 L681.90,213.64 L682.20,213.65 L682.50,213.65 L682.50,213.80 L414.00,213.80 Z" fill="#7882c8" fill-opacity="0.7" stroke="#7882c8" stroke-opacity="0.6" stroke-width="0.5"/>
<path d="M414.2,213.8 L414.4,210.5 L414.60,210.20 L415.60,210.38 L416.60,210.04 L417.60,209.67 L418.60,209.93 L419.60,209.61 L420.60,210.24 L421.60,211.00 L422.60,209.87 L423.60,209.73 L424.60,210.33 L425.60,210.17 L426.60,209.93 L427.60,209.23 L428.60,209.71 L429.60,210.09 L430.60,208.82 L431.60,209.32 L432.60,208.42 L433.60,208.74 L434.60,208.36 L435.60,209.25 L436.60,208.47 L437.60,209.12 L438.60,208.71 L439.60,208.13 L440.60,206.38 L441.60,207.25 L442.60,207.32 L443.60,207.26 L444.60,206.14 L445.60,206.63 L446.60,206.15 L447.60,205.98 L448.60,206.60 L449.60,203.58 L450.60,201.60 L451.60,199.49 L452.60,197.58 L453.60,198.30 L454.60,199.30 L455.60,200.42 L456.60,200.99 L457.60,204.52 L458.60,207.66 L459.60,206.34 L460.60,207.98 L461.60,207.56 L462.60,206.97 L463.60,208.31 L464.60,207.22 L465.60,205.65 L466.60,205.89 L467.60,205.24 L468.60,203.58 L469.60,202.91 L470.60,201.50 L471.60,201.29 L472.60,201.17 L473.60,199.40 L474.60,199.49 L475.60,198.72 L476.60,198.79 L477.60,197.77 L478.60,197.90 L479.60,197.91 L480.60,198.37 L481.60,198.24 L482.60,196.11 L483.60,194.79 L484.60,193.57 L485.60,190.02 L486.60,188.62 L487.60,186.43 L488.60,185.38 L489.60,184.30 L490.60,183.37 L491.60,183.08 L492.60,182.95 L493.60,183.88 L494.60,182.65 L495.60,183.10 L496.60,184.90 L497.60,188.47 L498.60,190.06 L499.60,190.08 L500.60,191.13 L501.60,191.15 L502.60,192.38 L503.60,192.39 L504.60,192.32 L505.60,192.97 L506.60,192.27 L507.60,192.28 L508.60,190.37 L509.60,189.39 L510.60,186.72 L511.60,185.88 L512.60,182.69 L513.60,180.31 L514.60,178.96 L515.60,176.23 L516.60,174.64 L517.60,173.60 L518.60,169.05 L519.60,165.91 L520.60,162.92 L521.60,159.81 L522.60,154.74 L523.60,146.49 L524.60,137.70 L525.60,127.60 L526.60,117.17 L527.60,105.73 L528.60,90.41 L529.60,75.23 L530.60,60.44 L531.60,46.09 L532.60,38.89 L533.60,36.70 L534.60,39.10 L535.60,41.79 L536.60,44.32 L537.60,46.17 L538.60,52.40 L539.60,60.96 L540.60,68.37 L541.60,81.43 L542.60,93.56 L543.60,113.08 L544.60,138.06 L545.60,168.73 L546.60,184.70 L547.60,190.20 L548.60,195.75 L549.60,198.74 L550.60,200.16 L551.60,201.79 L552.60,203.00 L553.60,203.29 L554.60,205.21 L555.60,204.81 L556.60,205.60 L557.60,205.57 L558.60,206.03 L559.60,205.95 L560.60,207.73 L561.60,207.12 L562.60,208.00 L563.60,207.62 L564.60,207.37 L565.60,207.75 L566.60,207.76 L567.60,208.23 L568.60,208.12 L569.60,208.28 L570.60,207.74 L571.60,208.18 L572.60,209.75 L573.60,208.43 L574.60,208.28 L575.60,209.18 L576.60,209.89 L577.60,208.24 L578.60,209.06 L579.60,208.89 L580.60,208.30 L581.60,209.89 L582.60,209.54 L583.60,209.70 L584.60,209.31 L585.60,210.14 L586.60,209.65 L587.60,209.99 L588.60,209.51 L589.60,209.54 L590.60,211.15 L591.60,210.12 L592.60,210.68 L593.60,210.56 L594.60,210.39 L595.60,210.42 L596.60,211.17 L597.60,210.67 L598.60,210.83 L599.60,210.99 L600.60,211.74 L601.60,211.51 L602.60,211.40 L603.60,210.90 L604.60,210.47 L605.60,211.93 L606.60,211.99 L607.60,211.37 L608.60,211.81 L609.60,211.97 L610.60,212.00 L611.60,212.04 L612.60,211.19 L613.60,212.34 L614.60,210.64 L615.60,211.86 L616.60,211.58 L617.60,211.75 L618.60,212.29 L619.60,211.97 L620.60,210.27 L621.60,209.76 L622.60,210.94 L623.60,208.76 L624.60,208.19 L625.60,207.44 L626.60,204.81 L627.60,203.72 L628.60,204.41 L629.60,203.29 L630.60,201.67 L631.60,199.13 L632.60,193.44 L633.60,182.34 L634.60,164.97 L635.60,150.90 L636.60,152.23 L637.60,166.40 L638.60,181.21 L639.60,191.42 L640.60,196.91 L641.60,202.93 L642.60,206.03 L643.60,207.29 L644.60,208.72 L645.60,208.87 L646.60,210.21 L647.60,210.75 L648.60,212.27 L649.60,210.69 L650.60,212.41 L651.60,212.00 L652.60,212.16 L653.60,211.40 L654.60,212.08 L655.60,212.87 L656.60,212.42 L657.60,212.54 L658.60,212.32 L659.60,213.18 L660.60,212.45 L661.60,211.12 L662.60,211.99 L663.60,211.19 L664.60,210.38 L665.60,211.98 L666.60,213.06 L667.60,212.26 L668.60,211.51 L669.60,211.64 L670.60,212.88 L671.60,212.29 L672.60,212.23 L673.60,212.17 L674.60,212.23 L675.60,212.69 L676.60,212.55 L677.60,212.35 L678.60,211.61 L679.60,212.55 L680.60,211.85 L681.60,212.94" fill="none" stroke="#3350b4" stroke-width="1.6" stroke-linejoin="round"/>
</g>
<path d="M414.0,3.25 V214.65 M413.25,213.9 H683.25 M682.5,214.65 V3.25 M683.25,4.0 H413.25" stroke="#333333" stroke-width="1.5" fill="none"/>
<path d="M428.92,213.80 v4.2 M458.75,213.80 v2.2 M488.58,213.80 v4.2 M518.42,213.80 v2.2 M548.25,213.80 v4.2 M578.08,213.80 v2.2 M607.92,213.80 v4.2 M637.75,213.80 v2.2 M667.58,213.80 v4.2 M414.00,213.80 h-4.2 M414.00,184.66 h-2.2 M414.00,155.52 h-4.2 M414.00,126.38 h-2.2 M414.00,97.24 h-4.2 M414.00,68.11 h-2.2 M414.00,38.97 h-4.2 M414.00,9.83 h-2.2" stroke="#333" stroke-width="1.1" fill="none"/>
<text x="428.92" y="235.9" text-anchor="middle" font-family='"Liberation Serif", serif' font-size="19.5" fill="#111">280</text>
<text x="488.58" y="235.9" text-anchor="middle" font-family='"Liberation Serif", serif' font-size="19.5" fill="#111">320</text>
<text x="548.25" y="235.9" text-anchor="middle" font-family='"Liberation Serif", serif' font-size="19.5" fill="#111">360</text>
<text x="607.92" y="235.9" text-anchor="middle" font-family='"Liberation Serif", serif' font-size="19.5" fill="#111">400</text>
<text x="667.58" y="235.9" text-anchor="middle" font-family='"Liberation Serif", serif' font-size="19.5" fill="#111">440</text>
<text x="407.8" y="220.10" text-anchor="end" font-family='"Liberation Serif", serif' font-size="19.5" fill="#111">0</text>
<text x="407.8" y="161.82" text-anchor="end" font-family='"Liberation Serif", serif' font-size="19.5" fill="#111">500</text>
<text x="407.8" y="103.54" text-anchor="end" font-family='"Liberation Serif", serif' font-size="19.5" fill="#111">1000</text>
<text x="407.8" y="45.27" text-anchor="end" font-family='"Liberation Serif", serif' font-size="19.5" fill="#111">1500</text>
<text x="462.6" y="259.8" font-family='"Liberation Serif", serif' font-size="22.4" fill="#111" textLength="153" lengthAdjust="spacing">Raman Shift (cm</text>
<text x="616.2" y="248.6" font-family='"Liberation Serif", serif' font-size="12.5" fill="#111">-</text>
<text x="621.0" y="248.6" font-family='"Liberation Serif", serif' font-size="12.5" fill="#111">1</text>
<text x="626.8" y="259.8" font-family='"Liberation Serif", serif' font-size="22.4" fill="#111">)</text>
<text transform="translate(358.2,176.6) rotate(-90)" font-family='"Liberation Serif", serif' font-size="22.5" fill="#111">Intensity (a.u.)</text>
<text x="515.7" y="32.6" font-family='"Liberation Serif", serif' font-size="14" fill="#111">2LA(M)</text>
<text x="545.6" y="119.5" font-family='"Liberation Serif", serif' font-size="14" fill="#111">E</text>
<text x="555.6" y="113.1" font-family='"Liberation Serif", serif' font-size="7.6" fill="#111">1</text>
<text x="554.8" y="123.4" font-family='"Liberation Serif", serif' font-size="7.8" fill="#111">2g</text>
<text x="563.2" y="119.5" font-family='"Liberation Serif", serif' font-size="14" fill="#111">(Γ)</text>
<text x="624.0" y="137.5" font-family='"Liberation Serif", serif' font-size="14" fill="#111">A</text>
<text x="635.6" y="142.8" font-family='"Liberation Serif", serif' font-size="7.2" fill="#111">1g</text>
<text x="642.8" y="137.5" font-family='"Liberation Serif", serif' font-size="14" fill="#111">(Γ)</text>
<defs><clipPath id="cc"><rect x="37.2" y="293.0" width="275.7" height="200.5"/></clipPath></defs>
<g clip-path="url(#cc)">
<path d="M37.40,471.15 L37.80,471.84 L38.20,471.85 L38.60,470.90 L39.00,472.77 L39.40,472.47 L39.80,471.07 L40.20,471.71 L40.60,471.28 L41.00,469.15 L41.40,470.82 L41.80,470.42 L42.20,470.31 L42.60,469.35 L43.00,469.65 L43.40,469.44 L43.80,470.02 L44.20,469.11 L44.60,468.50 L45.00,469.09 L45.40,467.30 L45.80,466.96 L46.20,465.57 L46.60,467.31 L47.00,466.45 L47.40,465.97 L47.80,465.36 L48.20,464.57 L48.60,464.24 L49.00,463.52 L49.40,463.13 L49.80,462.87 L50.20,463.38 L50.60,462.33 L51.00,461.49 L51.40,460.73 L51.80,460.27 L52.20,461.32 L52.60,460.22 L53.00,459.56 L53.40,458.93 L53.80,458.11 L54.20,458.48 L54.60,458.81 L55.00,457.70 L55.40,457.54 L55.80,457.28 L56.20,457.24 L56.60,455.89 L57.00,456.53 L57.40,455.89 L57.80,456.79 L58.20,455.49 L58.60,456.15 L59.00,456.55 L59.40,455.14 L59.80,454.75 L60.20,455.06 L60.60,454.73 L61.00,453.89 L61.40,454.64 L61.80,455.45 L62.20,453.78 L62.60,453.62 L63.00,452.88 L63.40,453.57 L63.80,452.37 L64.20,452.28 L64.60,453.66 L65.00,452.06 L65.40,453.18 L65.80,453.30 L66.20,452.32 L66.60,452.34 L67.00,453.09 L67.40,451.53 L67.80,451.11 L68.20,450.45 L68.60,451.19 L69.00,451.96 L69.40,451.46 L69.80,450.05 L70.20,449.94 L70.60,449.99 L71.00,450.33 L71.40,449.82 L71.80,449.91 L72.20,449.79 L72.60,449.22 L73.00,449.22 L73.40,449.21 L73.80,448.85 L74.20,449.06 L74.60,449.77 L75.00,448.76 L75.40,448.24 L75.80,446.92 L76.20,448.08 L76.60,446.37 L77.00,446.52 L77.40,447.78 L77.80,447.47 L78.20,446.68 L78.60,445.43 L79.00,446.06 L79.40,445.60 L79.80,446.18 L80.20,446.95 L80.60,445.30 L81.00,444.31 L81.40,443.69 L81.80,444.02 L82.20,443.52 L82.60,442.45 L83.00,442.82 L83.40,441.52 L83.80,442.51 L84.20,441.98 L84.60,441.48 L85.00,439.95 L85.40,440.06 L85.80,439.11 L86.20,438.40 L86.60,437.89 L87.00,436.73 L87.40,436.09 L87.80,437.01 L88.20,435.84 L88.60,435.58 L89.00,435.55 L89.40,433.22 L89.80,433.28 L90.20,433.33 L90.60,432.90 L91.00,431.81 L91.40,432.13 L91.80,431.00 L92.20,429.47 L92.60,429.04 L93.00,429.56 L93.40,428.72 L93.80,426.57 L94.20,428.06 L94.60,426.95 L95.00,426.82 L95.40,425.08 L95.80,424.52 L96.20,423.37 L96.60,425.15 L97.00,422.79 L97.40,423.33 L97.80,421.28 L98.20,421.20 L98.60,419.40 L99.00,419.63 L99.40,419.91 L99.80,417.84 L100.20,418.74 L100.60,417.65 L101.00,416.14 L101.40,415.89 L101.80,415.31 L102.20,414.97 L102.60,414.05 L103.00,413.26 L103.40,413.00 L103.80,411.94 L104.20,411.18 L104.60,411.40 L105.00,411.43 L105.40,409.29 L105.80,409.72 L106.20,408.73 L106.60,407.97 L107.00,408.60 L107.40,407.16 L107.80,407.93 L108.20,405.91 L108.60,406.13 L109.00,405.20 L109.40,404.32 L109.80,404.67 L110.20,403.66 L110.60,403.62 L111.00,402.67 L111.40,401.47 L111.80,401.58 L112.20,401.16 L112.60,401.22 L113.00,399.48 L113.40,399.51 L113.80,397.88 L114.20,398.89 L114.60,397.22 L115.00,396.21 L115.40,396.81 L115.80,397.02 L116.20,394.76 L116.60,394.50 L117.00,394.18 L117.40,393.38 L117.80,393.81 L118.20,392.50 L118.60,392.01 L119.00,392.31 L119.40,390.90 L119.80,391.14 L120.20,389.69 L120.60,389.01 L121.00,388.08 L121.40,389.96 L121.80,388.03 L122.20,387.89 L122.60,387.20 L123.00,386.83 L123.40,386.27 L123.80,386.98 L124.20,384.58 L124.60,383.75 L125.00,383.63 L125.40,382.93 L125.80,383.81 L126.20,383.38 L126.60,381.75 L127.00,381.01 L127.40,381.22 L127.80,381.89 L128.20,378.69 L128.60,380.41 L129.00,378.92 L129.40,379.85 L129.80,378.03 L130.20,378.10 L130.60,376.87 L131.00,376.79 L131.40,377.89 L131.80,377.10 L132.20,375.88 L132.60,375.15 L133.00,374.06 L133.40,374.62 L133.80,374.44 L134.20,373.99 L134.60,373.57 L135.00,372.49 L135.40,372.77 L135.80,372.39 L136.20,372.85 L136.60,372.84 L137.00,371.15 L137.40,370.35 L137.80,370.43 L138.20,369.71 L138.60,369.26 L139.00,369.34 L139.40,368.35 L139.80,369.08 L140.20,368.28 L140.60,368.18 L141.00,367.58 L141.40,366.91 L141.80,366.46 L142.20,366.62 L142.60,366.12 L143.00,366.33 L143.40,365.89 L143.80,364.72 L144.20,365.36 L144.60,364.16 L145.00,364.35 L145.40,364.28 L145.80,362.84 L146.20,363.96 L146.60,363.71 L147.00,363.23 L147.40,362.76 L147.80,362.50 L148.20,361.82 L148.60,361.97 L149.00,361.48 L149.40,361.59 L149.80,360.43 L150.20,361.05 L150.60,360.67 L151.00,360.16 L151.40,359.65 L151.80,359.97 L152.20,358.20 L152.60,359.26 L153.00,358.80 L153.40,358.51 L153.80,358.26 L154.20,357.28 L154.60,357.23 L155.00,357.51 L155.40,357.08 L155.80,356.65 L156.20,355.25 L156.60,356.31 L157.00,356.46 L157.40,356.09 L157.80,355.31 L158.20,353.86 L158.60,355.19 L159.00,354.18 L159.40,352.33 L159.80,353.93 L160.20,352.42 L160.60,352.25 L161.00,352.40 L161.40,353.37 L161.80,352.04 L162.20,352.21 L162.60,352.94 L163.00,352.63 L163.40,351.34 L163.80,351.09 L164.20,350.30 L164.60,350.56 L165.00,351.22 L165.40,351.16 L165.80,350.98 L166.20,351.59 L166.60,350.51 L167.00,351.09 L167.40,351.73 L167.80,351.80 L168.20,352.31 L168.60,352.08 L169.00,351.86 L169.40,352.54 L169.80,351.92 L170.20,351.79 L170.60,353.52 L171.00,353.40 L171.40,353.94 L171.80,352.94 L172.20,354.11 L172.60,354.26 L173.00,354.39 L173.40,353.81 L173.80,355.40 L174.20,356.56 L174.60,356.61 L175.00,356.38 L175.40,357.19 L175.80,358.15 L176.20,356.33 L176.60,358.54 L177.00,359.49 L177.40,360.11 L177.80,361.33 L178.20,361.54 L178.60,361.60 L179.00,362.23 L179.40,363.25 L179.80,363.14 L180.20,364.27 L180.60,365.74 L181.00,367.32 L181.40,366.87 L181.80,367.90 L182.20,369.05 L182.60,370.79 L183.00,370.92 L183.40,372.93 L183.80,372.38 L184.20,373.92 L184.60,374.96 L185.00,376.68 L185.40,377.97 L185.80,377.47 L186.20,379.04 L186.60,381.06 L187.00,381.64 L187.40,382.32 L187.80,385.24 L188.20,386.14 L188.60,387.40 L189.00,388.02 L189.40,390.24 L189.80,390.64 L190.20,392.72 L190.60,392.63 L191.00,393.88 L191.40,395.79 L191.80,396.42 L192.20,398.54 L192.60,399.49 L193.00,399.94 L193.40,401.81 L193.80,402.75 L194.20,404.79 L194.60,404.99 L195.00,406.32 L195.40,408.65 L195.80,410.62 L196.20,411.76 L196.60,411.73 L197.00,412.96 L197.40,414.78 L197.80,414.53 L198.20,414.76 L198.60,416.18 L199.00,416.99 L199.40,416.59 L199.80,416.33 L200.20,416.72 L200.60,418.31 L201.00,417.55 L201.40,418.07 L201.80,418.34 L202.20,418.55 L202.60,417.77 L203.00,418.08 L203.40,416.90 L203.80,416.93 L204.20,416.15 L204.60,417.03 L205.00,415.63 L205.40,414.44 L205.80,413.94 L206.20,413.32 L206.60,413.27 L207.00,411.12 L207.40,410.82 L207.80,410.61 L208.20,411.88 L208.60,410.28 L209.00,409.02 L209.40,409.00 L209.80,409.32 L210.20,407.32 L210.60,406.75 L211.00,407.35 L211.40,406.52 L211.80,406.31 L212.20,405.21 L212.60,406.47 L213.00,406.01 L213.40,404.95 L213.80,404.72 L214.20,402.67 L214.60,404.12 L215.00,403.32 L215.40,403.48 L215.80,403.42 L216.20,402.55 L216.60,401.50 L217.00,402.69 L217.40,401.86 L217.80,402.04 L218.20,401.82 L218.60,401.98 L219.00,400.72 L219.40,403.06 L219.80,402.50 L220.20,403.16 L220.60,403.84 L221.00,402.70 L221.40,401.67 L221.80,402.44 L222.20,402.42 L222.60,403.08 L223.00,403.68 L223.40,402.55 L223.80,404.31 L224.20,403.35 L224.60,404.77 L225.00,404.76 L225.40,404.89 L225.80,405.31 L226.20,405.27 L226.60,405.48 L227.00,405.04 L227.40,406.38 L227.80,407.89 L228.20,408.30 L228.60,408.21 L229.00,408.18 L229.40,407.67 L229.80,409.45 L230.20,408.89 L230.60,409.31 L231.00,409.61 L231.40,410.30 L231.80,410.41 L232.20,411.10 L232.60,410.90 L233.00,411.82 L233.40,414.00 L233.80,412.91 L234.20,413.23 L234.60,414.16 L235.00,414.68 L235.40,413.89 L235.80,414.85 L236.20,415.95 L236.60,415.90 L237.00,416.17 L237.40,417.46 L237.80,416.37 L238.20,417.22 L238.60,417.19 L239.00,418.85 L239.40,416.96 L239.80,418.14 L240.20,418.58 L240.60,419.70 L241.00,420.01 L241.40,420.86 L241.80,419.27 L242.20,421.11 L242.60,420.77 L243.00,420.86 L243.40,421.97 L243.80,421.35 L244.20,420.92 L244.60,422.36 L245.00,421.95 L245.40,422.82 L245.80,423.80 L246.20,424.08 L246.60,425.23 L247.00,424.39 L247.40,423.85 L247.80,424.68 L248.20,424.89 L248.60,425.02 L249.00,426.42 L249.40,426.03 L249.80,425.49 L250.20,427.54 L250.60,427.33 L251.00,427.95 L251.40,428.09 L251.80,428.74 L252.20,428.65 L252.60,429.73 L253.00,429.50 L253.40,429.76 L253.80,430.06 L254.20,429.13 L254.60,430.24 L255.00,430.44 L255.40,431.01 L255.80,430.24 L256.20,432.43 L256.60,431.68 L257.00,431.06 L257.40,430.96 L257.80,432.10 L258.20,432.44 L258.60,432.25 L259.00,432.98 L259.40,432.71 L259.80,433.68 L260.20,433.05 L260.60,433.69 L261.00,434.54 L261.40,435.76 L261.80,433.62 L262.20,434.15 L262.60,434.09 L263.00,435.32 L263.40,434.24 L263.80,434.84 L264.20,435.31 L264.60,434.86 L265.00,435.04 L265.40,435.52 L265.80,434.63 L266.20,435.22 L266.60,436.06 L267.00,436.59 L267.40,436.53 L267.80,435.66 L268.20,436.68 L268.60,437.66 L269.00,437.66 L269.40,437.41 L269.80,437.04 L270.20,438.18 L270.60,437.55 L271.00,437.32 L271.40,437.71 L271.80,439.32 L272.20,438.67 L272.60,439.43 L273.00,438.51 L273.40,439.57 L273.80,438.72 L274.20,439.15 L274.60,441.01 L275.00,440.03 L275.40,439.35 L275.80,439.76 L276.20,440.17 L276.60,440.89 L277.00,439.93 L277.40,439.26 L277.80,440.35 L278.20,440.69 L278.60,440.89 L279.00,441.82 L279.40,441.32 L279.80,441.79 L280.20,440.70 L280.60,442.13 L281.00,443.08 L281.40,442.37 L281.80,442.19 L282.20,442.28 L282.60,443.49 L283.00,441.89 L283.40,442.57 L283.80,443.10 L284.20,443.44 L284.60,442.83 L285.00,443.47 L285.40,443.25 L285.80,443.66 L286.20,443.65 L286.60,443.15 L287.00,444.03 L287.40,444.77 L287.80,443.72 L288.20,444.34 L288.60,445.08 L289.00,444.10 L289.40,445.06 L289.80,444.39 L290.20,445.96 L290.60,446.87 L291.00,446.81 L291.40,445.49 L291.80,446.24 L292.20,445.97 L292.60,446.08 L293.00,447.14 L293.40,445.40 L293.80,447.06 L294.20,446.45 L294.60,447.51 L295.00,446.83 L295.40,446.38 L295.80,447.11 L296.20,447.51 L296.60,447.17 L297.00,447.57 L297.40,447.02 L297.80,446.09 L298.20,448.17 L298.60,448.15 L299.00,447.91 L299.40,447.97 L299.80,448.72 L300.20,447.87 L300.60,447.83 L301.00,448.30 L301.40,449.32 L301.80,447.78 L302.20,449.60 L302.60,448.55 L303.00,448.40 L303.40,450.08 L303.80,449.35 L304.20,448.73 L304.60,449.50 L305.00,450.51 L305.40,450.85 L305.80,449.97 L306.20,450.68 L306.60,451.06 L307.00,450.36 L307.40,451.19 L307.80,451.13 L308.20,450.99 L308.60,451.22 L309.00,451.78 L309.40,451.95 L309.80,451.76 L310.20,452.06 L310.60,453.26 L311.00,452.89 L311.40,453.53 L311.80,453.95 L312.20,453.77 L312.60,455.08" fill="none" stroke="#3a55b5" stroke-width="2.3" stroke-linejoin="round"/>
<path d="M37.40,456.42 L37.80,456.23 L38.20,456.05 L38.60,455.86 L39.00,455.68 L39.40,455.49 L39.80,455.31 L40.20,455.12 L40.60,454.94 L41.00,454.75 L41.40,454.57 L41.80,454.38 L42.20,454.20 L42.60,454.02 L43.00,453.83 L43.40,453.65 L43.80,453.46 L44.20,453.28 L44.60,453.09 L45.00,452.91 L45.40,452.72 L45.80,452.54 L46.20,452.35 L46.60,452.17 L47.00,451.98 L47.40,451.80 L47.80,451.62 L48.20,451.43 L48.60,451.25 L49.00,451.06 L49.40,450.88 L49.80,450.69 L50.20,450.51 L50.60,450.32 L51.00,450.14 L51.40,449.95 L51.80,449.77 L52.20,449.59 L52.60,449.40 L53.00,449.22 L53.40,449.04 L53.80,448.86 L54.20,448.68 L54.60,448.50 L55.00,448.32 L55.40,448.14 L55.80,447.96 L56.20,447.78 L56.60,447.60 L57.00,447.42 L57.40,447.24 L57.80,447.06 L58.20,446.88 L58.60,446.70 L59.00,446.51 L59.40,446.33 L59.80,446.15 L60.20,445.97 L60.60,445.78 L61.00,445.60 L61.40,445.41 L61.80,445.23 L62.20,445.04 L62.60,444.85 L63.00,444.66 L63.40,444.47 L63.80,444.28 L64.20,444.09 L64.60,443.89 L65.00,443.70 L65.40,443.50 L65.80,443.30 L66.20,443.10 L66.60,442.90 L67.00,442.71 L67.40,442.51 L67.80,442.31 L68.20,442.11 L68.60,441.92 L69.00,441.72 L69.40,441.52 L69.80,441.32 L70.20,441.12 L70.60,440.92 L71.00,440.71 L71.40,440.51 L71.80,440.31 L72.20,440.10 L72.60,439.89 L73.00,439.68 L73.40,439.47 L73.80,439.26 L74.20,439.04 L74.60,438.83 L75.00,438.61 L75.40,438.39 L75.80,438.16 L76.20,437.94 L76.60,437.71 L77.00,437.48 L77.40,437.24 L77.80,437.00 L78.20,436.76 L78.60,436.52 L79.00,436.27 L79.40,436.02 L79.80,435.76 L80.20,435.51 L80.60,435.24 L81.00,434.98 L81.40,434.70 L81.80,434.43 L82.20,434.15 L82.60,433.87 L83.00,433.58 L83.40,433.29 L83.80,433.00 L84.20,432.70 L84.60,432.40 L85.00,432.09 L85.40,431.79 L85.80,431.47 L86.20,431.16 L86.60,430.84 L87.00,430.52 L87.40,430.19 L87.80,429.87 L88.20,429.53 L88.60,429.20 L89.00,428.86 L89.40,428.52 L89.80,428.18 L90.20,427.83 L90.60,427.48 L91.00,427.13 L91.40,426.77 L91.80,426.41 L92.20,426.05 L92.60,425.69 L93.00,425.32 L93.40,424.95 L93.80,424.58 L94.20,424.21 L94.60,423.82 L95.00,423.43 L95.40,423.03 L95.80,422.62 L96.20,422.21 L96.60,421.78 L97.00,421.36 L97.40,420.92 L97.80,420.48 L98.20,420.04 L98.60,419.59 L99.00,419.14 L99.40,418.68 L99.80,418.22 L100.20,417.77 L100.60,417.31 L101.00,416.85 L101.40,416.39 L101.80,415.93 L102.20,415.47 L102.60,415.01 L103.00,414.56 L103.40,414.10 L103.80,413.65 L104.20,413.19 L104.60,412.73 L105.00,412.27 L105.40,411.81 L105.80,411.34 L106.20,410.88 L106.60,410.41 L107.00,409.94 L107.40,409.47 L107.80,409.00 L108.20,408.53 L108.60,408.06 L109.00,407.58 L109.40,407.10 L109.80,406.63 L110.20,406.15 L110.60,405.67 L111.00,405.18 L111.40,404.70 L111.80,404.22 L112.20,403.73 L112.60,403.24 L113.00,402.75 L113.40,402.26 L113.80,401.77 L114.20,401.28 L114.60,400.78 L115.00,400.28 L115.40,399.77 L115.80,399.26 L116.20,398.75 L116.60,398.23 L117.00,397.71 L117.40,397.19 L117.80,396.67 L118.20,396.14 L118.60,395.61 L119.00,395.08 L119.40,394.55 L119.80,394.02 L120.20,393.49 L120.60,392.95 L121.00,392.42 L121.40,391.89 L121.80,391.35 L122.20,390.82 L122.60,390.29 L123.00,389.76 L123.40,389.23 L123.80,388.71 L124.20,388.19 L124.60,387.66 L125.00,387.15 L125.40,386.63 L125.80,386.12 L126.20,385.61 L126.60,385.11 L127.00,384.61 L127.40,384.12 L127.80,383.63 L128.20,383.14 L128.60,382.66 L129.00,382.19 L129.40,381.71 L129.80,381.25 L130.20,380.78 L130.60,380.32 L131.00,379.87 L131.40,379.41 L131.80,378.96 L132.20,378.51 L132.60,378.06 L133.00,377.62 L133.40,377.17 L133.80,376.73 L134.20,376.29 L134.60,375.85 L135.00,375.41 L135.40,374.97 L135.80,374.54 L136.20,374.10 L136.60,373.66 L137.00,373.22 L137.40,372.78 L137.80,372.34 L138.20,371.90 L138.60,371.45 L139.00,371.01 L139.40,370.56 L139.80,370.11 L140.20,369.66 L140.60,369.20 L141.00,368.73 L141.40,368.25 L141.80,367.77 L142.20,367.28 L142.60,366.79 L143.00,366.30 L143.40,365.80 L143.80,365.31 L144.20,364.81 L144.60,364.32 L145.00,363.82 L145.40,363.33 L145.80,362.85 L146.20,362.37 L146.60,361.89 L147.00,361.42 L147.40,360.96 L147.80,360.51 L148.20,360.07 L148.60,359.64 L149.00,359.22 L149.40,358.82 L149.80,358.43 L150.20,358.05 L150.60,357.69 L151.00,357.35 L151.40,357.02 L151.80,356.69 L152.20,356.36 L152.60,356.02 L153.00,355.68 L153.40,355.34 L153.80,355.00 L154.20,354.66 L154.60,354.32 L155.00,353.99 L155.40,353.65 L155.80,353.33 L156.20,353.01 L156.60,352.70 L157.00,352.41 L157.40,352.12 L157.80,351.84 L158.20,351.58 L158.60,351.34 L159.00,351.11 L159.40,350.90 L159.80,350.70 L160.20,350.53 L160.60,350.38 L161.00,350.25 L161.40,350.15 L161.80,350.07 L162.20,350.02 L162.60,350.00 L163.00,350.00 L163.40,350.02 L163.80,350.04 L164.20,350.07 L164.60,350.11 L165.00,350.17 L165.40,350.23 L165.80,350.29 L166.20,350.37 L166.60,350.45 L167.00,350.54 L167.40,350.64 L167.80,350.74 L168.20,350.84 L168.60,350.97 L169.00,351.18 L169.40,351.49 L169.80,351.87 L170.20,352.33 L170.60,352.84 L171.00,353.40 L171.40,354.01 L171.80,354.64 L172.20,355.29 L172.60,355.95 L173.00,356.61 L173.40,357.25 L173.80,357.87 L174.20,358.46 L174.60,359.01 L175.00,359.55 L175.40,360.08 L175.80,360.60 L176.20,361.11 L176.60,361.63 L177.00,362.14 L177.40,362.65 L177.80,363.18 L178.20,363.71 L178.60,364.25 L179.00,364.81 L179.40,365.38 L179.80,365.98 L180.20,366.60 L180.60,367.24 L181.00,367.92 L181.40,368.63 L181.80,369.37 L182.20,370.15 L182.60,370.97 L183.00,371.85 L183.40,372.88 L183.80,374.06 L184.20,375.36 L184.60,376.76 L185.00,378.24 L185.40,379.78 L185.80,381.36 L186.20,382.95 L186.60,384.55 L187.00,386.11 L187.40,387.63 L187.80,389.09 L188.20,390.45 L188.60,391.71 L189.00,392.94 L189.40,394.17 L189.80,395.40 L190.20,396.62 L190.60,397.82 L191.00,399.01 L191.40,400.16 L191.80,401.28 L192.20,402.36 L192.60,403.39 L193.00,404.37 L193.40,405.29 L193.80,406.14 L194.20,406.92 L194.60,407.64 L195.00,408.38 L195.40,409.12 L195.80,409.86 L196.20,410.59 L196.60,411.31 L197.00,412.01 L197.40,412.68 L197.80,413.32 L198.20,413.92 L198.60,414.47 L199.00,414.97 L199.40,415.41 L199.80,415.79 L200.20,416.09 L200.60,416.31 L201.00,416.45 L201.40,416.50 L201.80,416.46 L202.20,416.33 L202.60,416.12 L203.00,415.85 L203.40,415.51 L203.80,415.11 L204.20,414.67 L204.60,414.18 L205.00,413.66 L205.40,413.12 L205.80,412.55 L206.20,411.96 L206.60,411.38 L207.00,410.79 L207.40,410.21 L207.80,409.64 L208.20,409.09 L208.60,408.58 L209.00,408.10 L209.40,407.66 L209.80,407.27 L210.20,406.93 L210.60,406.59 L211.00,406.24 L211.40,405.89 L211.80,405.53 L212.20,405.17 L212.60,404.81 L213.00,404.46 L213.40,404.10 L213.80,403.76 L214.20,403.42 L214.60,403.08 L215.00,402.76 L215.40,402.46 L215.80,402.17 L216.20,401.89 L216.60,401.64 L217.00,401.40 L217.40,401.19 L217.80,401.01 L218.20,400.84 L218.60,400.71 L219.00,400.61 L219.40,400.54 L219.80,400.50 L220.20,400.50 L220.60,400.52 L221.00,400.55 L221.40,400.59 L221.80,400.64 L222.20,400.71 L222.60,400.79 L223.00,400.88 L223.40,400.98 L223.80,401.08 L224.20,401.20 L224.60,401.33 L225.00,401.46 L225.40,401.59 L225.80,401.74 L226.20,401.89 L226.60,402.04 L227.00,402.19 L227.40,402.35 L227.80,402.51 L228.20,402.68 L228.60,402.84 L229.00,403.03 L229.40,403.24 L229.80,403.48 L230.20,403.74 L230.60,404.02 L231.00,404.32 L231.40,404.64 L231.80,404.97 L232.20,405.32 L232.60,405.68 L233.00,406.05 L233.40,406.43 L233.80,406.81 L234.20,407.20 L234.60,407.60 L235.00,407.99 L235.40,408.38 L235.80,408.77 L236.20,409.16 L236.60,409.54 L237.00,409.91 L237.40,410.27 L237.80,410.64 L238.20,411.01 L238.60,411.39 L239.00,411.76 L239.40,412.14 L239.80,412.53 L240.20,412.91 L240.60,413.30 L241.00,413.69 L241.40,414.09 L241.80,414.48 L242.20,414.88 L242.60,415.28 L243.00,415.69 L243.40,416.09 L243.80,416.50 L244.20,416.91 L244.60,417.32 L245.00,417.73 L245.40,418.15 L245.80,418.56 L246.20,418.98 L246.60,419.40 L247.00,419.82 L247.40,420.24 L247.80,420.66 L248.20,421.08 L248.60,421.51 L249.00,421.94 L249.40,422.37 L249.80,422.82 L250.20,423.27 L250.60,423.73 L251.00,424.19 L251.40,424.65 L251.80,425.12 L252.20,425.59 L252.60,426.07 L253.00,426.54 L253.40,427.02 L253.80,427.50 L254.20,427.97 L254.60,428.44 L255.00,428.91 L255.40,429.38 L255.80,429.85 L256.20,430.30 L256.60,430.76 L257.00,431.21 L257.40,431.65 L257.80,432.08 L258.20,432.50 L258.60,432.92 L259.00,433.33 L259.40,433.72 L259.80,434.11 L260.20,434.48 L260.60,434.85 L261.00,435.22 L261.40,435.58 L261.80,435.94 L262.20,436.30 L262.60,436.65 L263.00,437.00 L263.40,437.34 L263.80,437.69 L264.20,438.03 L264.60,438.36 L265.00,438.69 L265.40,439.02 L265.80,439.35 L266.20,439.67 L266.60,439.99 L267.00,440.31 L267.40,440.63 L267.80,440.94 L268.20,441.25 L268.60,441.56 L269.00,441.86 L269.40,442.16 L269.80,442.46 L270.20,442.76 L270.60,443.05 L271.00,443.34 L271.40,443.63 L271.80,443.92 L272.20,444.20 L272.60,444.49 L273.00,444.77 L273.40,445.05 L273.80,445.32 L274.20,445.60 L274.60,445.87 L275.00,446.14 L275.40,446.41 L275.80,446.68 L276.20,446.94 L276.60,447.20 L277.00,447.46 L277.40,447.72 L277.80,447.97 L278.20,448.22 L278.60,448.48 L279.00,448.72 L279.40,448.97 L279.80,449.22 L280.20,449.46 L280.60,449.70 L281.00,449.94 L281.40,450.18 L281.80,450.42 L282.20,450.65 L282.60,450.88 L283.00,451.12 L283.40,451.35 L283.80,451.58 L284.20,451.81 L284.60,452.03 L285.00,452.26 L285.40,452.49 L285.80,452.71 L286.20,452.93 L286.60,453.15 L287.00,453.38 L287.40,453.60 L287.80,453.82 L288.20,454.04 L288.60,454.25 L289.00,454.47 L289.40,454.69 L289.80,454.91 L290.20,455.12 L290.60,455.34 L291.00,455.56 L291.40,455.77 L291.80,455.98 L292.20,456.20 L292.60,456.41 L293.00,456.62 L293.40,456.83 L293.80,457.04 L294.20,457.25 L294.60,457.45 L295.00,457.66 L295.40,457.86 L295.80,458.07 L296.20,458.27 L296.60,458.47 L297.00,458.67 L297.40,458.87 L297.80,459.06 L298.20,459.25 L298.60,459.45 L299.00,459.64 L299.40,459.82 L299.80,460.01 L300.20,460.20 L300.60,460.38 L301.00,460.56 L301.40,460.74 L301.80,460.91 L302.20,461.09 L302.60,461.26 L303.00,461.43 L303.40,461.59 L303.80,461.76 L304.20,461.92 L304.60,462.09 L305.00,462.25 L305.40,462.41 L305.80,462.57 L306.20,462.72 L306.60,462.88 L307.00,463.03 L307.40,463.18 L307.80,463.33 L308.20,463.48 L308.60,463.63 L309.00,463.77 L309.40,463.92 L309.80,464.06 L310.20,464.20 L310.60,464.33 L311.00,464.47 L311.40,464.61 L311.80,464.74 L312.20,464.87 L312.60,465.00" fill="none" stroke="#ee1d23" stroke-width="2.1" stroke-dasharray="4.4,3.4" stroke-linejoin="round"/>
</g>
<path d="M37.1,292.25 V494.25 M36.35,493.5 H313.75 M313.0,494.25 V292.25 M313.75,293.0 H36.35" stroke="#333333" stroke-width="1.5" fill="none"/>
<path d="M54.80,493.5 v3.6 M84.13,493.5 v2.2 M113.46,493.5 v3.6 M142.79,493.5 v2.2 M172.12,493.5 v3.6 M201.45,493.5 v2.2 M230.78,493.5 v3.6 M260.11,493.5 v2.2 M289.44,493.5 v3.6 M37.2,493.50 h-4.2 M37.2,473.30 h-2.0 M37.2,453.10 h-4.2 M37.2,432.90 h-2.0 M37.2,412.70 h-4.2 M37.2,392.50 h-2.0 M37.2,372.30 h-4.2 M37.2,352.10 h-2.0 M37.2,331.90 h-4.2 M37.2,311.70 h-2.0" stroke="#333" stroke-width="1.1" fill="none"/>
<text x="54.80" y="515.7" text-anchor="middle" font-family='"Liberation Serif", serif' font-size="19.5" fill="#111">500</text>
<text x="113.46" y="515.7" text-anchor="middle" font-family='"Liberation Serif", serif' font-size="19.5" fill="#111">550</text>
<text x="172.12" y="515.7" text-anchor="middle" font-family='"Liberation Serif", serif' font-size="19.5" fill="#111">600</text>
<text x="230.78" y="515.7" text-anchor="middle" font-family='"Liberation Serif", serif' font-size="19.5" fill="#111">650</text>
<text x="289.44" y="515.7" text-anchor="middle" font-family='"Liberation Serif", serif' font-size="19.5" fill="#111">700</text>
<text x="95.6" y="536.8" font-family='"Liberation Serif", serif' font-size="23.1" fill="#111">Wavelength (nm)</text>
<text transform="translate(18.2,467.3) rotate(-90)" font-family='"Liberation Serif", serif' font-size="22.8" fill="#111">Scattering (a.u.)</text>
<path d="M40.4,305.4 H77.8" stroke="#3a55b5" stroke-width="1.9"/>
<path d="M40.4,325.1 H77.8" stroke="#ee1d23" stroke-width="2" stroke-dasharray="4.5,3.7"/>
<text x="82.2" y="310.8" font-family='"Liberation Serif", serif' font-size="15.8" fill="#111">Experiment</text>
<text x="82.6" y="330.1" font-family='"Liberation Serif", serif' font-size="15.8" fill="#111">Theory</text>
<defs><clipPath id="cd"><rect x="417.5" y="293.9" width="265.9" height="199.60000000000002"/></clipPath></defs>
<g clip-path="url(#cd)">
<path d="M417.20,489.37 L417.80,490.02 L418.40,489.57 L419.00,490.44 L419.60,490.37 L420.20,488.91 L420.80,489.30 L421.40,489.95 L422.00,489.99 L422.60,489.96 L423.20,489.63 L423.80,489.84 L424.40,489.91 L425.00,489.61 L425.60,490.04 L426.20,488.72 L426.80,489.86 L427.40,489.18 L428.00,489.97 L428.60,489.48 L429.20,489.20 L429.80,489.70 L430.40,489.17 L431.00,489.15 L431.60,488.87 L432.20,489.48 L432.80,489.67 L433.40,489.86 L434.00,489.38 L434.60,489.84 L435.20,489.41 L435.80,489.34 L436.40,489.59 L437.00,489.76 L437.60,489.18 L438.20,489.20 L438.80,489.21 L439.40,489.29 L440.00,488.87 L440.60,489.62 L441.20,489.02 L441.80,489.35 L442.40,488.81 L443.00,489.26 L443.60,489.24 L444.20,488.89 L444.80,489.84 L445.40,489.16 L446.00,489.69 L446.60,489.33 L447.20,488.64 L447.80,488.70 L448.40,488.97 L449.00,488.76 L449.60,488.70 L450.20,488.49 L450.80,487.81 L451.40,488.37 L452.00,487.49 L452.60,488.44 L453.20,487.92 L453.80,487.83 L454.40,487.94 L455.00,488.05 L455.60,487.28 L456.20,487.06 L456.80,487.25 L457.40,486.77 L458.00,487.11 L458.60,488.04 L459.20,486.88 L459.80,487.44 L460.40,486.50 L461.00,487.04 L461.60,486.65 L462.20,486.62 L462.80,486.73 L463.40,487.07 L464.00,486.32 L464.60,486.17 L465.20,485.62 L465.80,486.14 L466.40,485.73 L467.00,486.10 L467.60,485.70 L468.20,486.40 L468.80,484.91 L469.40,485.61 L470.00,486.11 L470.60,485.67 L471.20,485.55 L471.80,485.83 L472.40,485.47 L473.00,486.15 L473.60,487.17 L474.20,486.74 L474.80,485.93 L475.40,486.12 L476.00,486.39 L476.60,487.04 L477.20,486.38 L477.80,486.50 L478.40,487.19 L479.00,487.24 L479.60,486.81 L480.20,486.57 L480.80,486.45 L481.40,486.85 L482.00,486.29 L482.60,487.54 L483.20,487.04 L483.80,487.54 L484.40,488.14 L485.00,487.92 L485.60,487.04 L486.20,487.89 L486.80,488.05 L487.40,487.33 L488.00,487.29 L488.60,487.67 L489.20,487.11 L489.80,488.38 L490.40,486.87 L491.00,487.43 L491.60,487.80 L492.20,487.86 L492.80,488.05 L493.40,488.14 L494.00,487.98 L494.60,488.56 L495.20,487.29 L495.80,488.18 L496.40,487.93 L497.00,488.31 L497.60,488.38 L498.20,487.97 L498.80,488.11 L499.40,488.72 L500.00,488.58 L500.60,488.20 L501.20,489.32 L501.80,489.46 L502.40,487.99 L503.00,488.73 L503.60,489.64 L504.20,488.98 L504.80,488.79 L505.40,488.64 L506.00,488.54 L506.60,488.70 L507.20,488.59 L507.80,489.14 L508.40,488.70 L509.00,488.71 L509.60,488.43 L510.20,488.91 L510.80,488.60 L511.40,488.90 L512.00,489.41 L512.60,489.16 L513.20,489.23 L513.80,489.18 L514.40,489.08 L515.00,489.02 L515.60,488.96 L516.20,489.39 L516.80,488.66 L517.40,489.64 L518.00,489.13 L518.60,488.82 L519.20,488.93 L519.80,488.86 L520.40,489.20 L521.00,488.86 L521.60,489.61 L522.20,488.85 L522.80,488.26 L523.40,488.88 L524.00,488.38 L524.60,489.17 L525.20,489.62 L525.80,489.46 L526.40,488.67 L527.00,488.90 L527.60,489.93 L528.20,489.35 L528.80,489.23 L529.40,489.65 L530.00,490.22 L530.60,489.76 L531.20,489.30 L531.80,489.39 L532.40,489.50 L533.00,489.01 L533.60,488.84 L534.20,489.29 L534.80,488.89 L535.40,489.25 L536.00,489.31 L536.60,490.22 L537.20,488.94 L537.80,489.24 L538.40,489.22 L539.00,489.46 L539.60,489.71 L540.20,489.10 L540.80,488.97 L541.40,488.64 L542.00,488.93 L542.60,489.51 L543.20,489.32 L543.80,488.89 L544.40,489.15 L545.00,489.31 L545.60,489.50 L546.20,489.06 L546.80,489.20 L547.40,488.57 L548.00,488.83 L548.60,489.94 L549.20,488.41 L549.80,489.15 L550.40,489.37 L551.00,489.12 L551.60,488.95 L552.20,489.24 L552.80,489.25 L553.40,489.22 L554.00,488.49 L554.60,489.18 L555.20,488.89 L555.80,489.00 L556.40,489.30 L557.00,489.46 L557.60,489.55 L558.20,488.98 L558.80,489.54 L559.40,489.63 L560.00,489.61 L560.60,489.70 L561.20,489.07 L561.80,489.05 L562.40,489.43 L563.00,488.55 L563.60,489.16 L564.20,488.85 L564.80,488.91 L565.40,488.34 L566.00,488.67 L566.60,489.00 L567.20,489.35 L567.80,489.38 L568.40,488.94 L569.00,488.88 L569.60,488.61 L570.20,489.09 L570.80,488.81 L571.40,489.14 L572.00,489.58 L572.60,488.85 L573.20,488.25 L573.80,488.49 L574.40,488.23 L575.00,488.32 L575.60,489.31 L576.20,488.86 L576.80,488.14 L577.40,489.00 L578.00,489.22 L578.60,488.56 L579.20,488.41 L579.80,488.53 L580.40,488.77 L581.00,488.89 L581.60,489.09 L582.20,489.09 L582.80,489.06 L583.40,489.11 L584.00,488.82 L584.60,487.92 L585.20,488.47 L585.80,488.63 L586.40,488.33 L587.00,488.83 L587.60,488.30 L588.20,488.06 L588.80,488.98 L589.40,488.65 L590.00,488.44 L590.60,488.70 L591.20,488.73 L591.80,488.41 L592.40,487.27 L593.00,487.95 L593.60,488.01 L594.20,487.76 L594.80,488.21 L595.40,488.57 L596.00,487.87 L596.60,487.57 L597.20,488.80 L597.80,487.78 L598.40,487.43 L599.00,487.98 L599.60,488.02 L600.20,487.54 L600.80,488.10 L601.40,487.55 L602.00,487.34 L602.60,487.75 L603.20,487.95 L603.80,487.35 L604.40,487.70 L605.00,487.50 L605.60,488.63 L606.20,487.18 L606.80,487.99 L607.40,487.38 L608.00,487.32 L608.60,487.62 L609.20,487.66 L609.80,487.78 L610.40,487.37 L611.00,486.97 L611.60,486.97 L612.20,487.36 L612.80,487.36 L613.40,487.67 L614.00,487.25 L614.60,487.48 L615.20,487.65 L615.80,487.09 L616.40,486.41 L617.00,486.51 L617.60,486.39 L618.20,487.59 L618.80,486.60 L619.40,487.42 L620.00,487.15 L620.60,487.60 L621.20,487.31 L621.80,486.86 L622.40,486.82 L623.00,486.93 L623.60,486.97 L624.20,486.69 L624.80,486.90 L625.40,487.56 L626.00,486.24 L626.60,487.04 L627.20,486.58 L627.80,487.03 L628.40,487.31 L629.00,486.96 L629.60,487.31 L630.20,486.38 L630.80,487.48 L631.40,486.81 L632.00,487.32 L632.60,487.17 L633.20,486.08 L633.80,486.84 L634.40,487.25 L635.00,487.81 L635.60,487.33 L636.20,487.35 L636.80,486.71 L637.40,487.87 L638.00,488.05 L638.60,487.37 L639.20,487.30 L639.80,486.77 L640.40,487.80 L641.00,488.56 L641.60,487.79 L642.20,488.04 L642.80,487.79 L643.40,487.21 L644.00,488.17 L644.60,487.17 L645.20,487.61 L645.80,487.84 L646.40,488.12 L647.00,487.96 L647.60,487.98 L648.20,487.56 L648.80,487.38 L649.40,487.95 L650.00,487.67 L650.60,487.46 L651.20,487.51 L651.80,487.85 L652.40,487.33 L653.00,487.57 L653.60,487.48 L654.20,488.23 L654.80,488.35 L655.40,489.02 L656.00,487.64 L656.60,488.00 L657.20,488.66 L657.80,488.23 L658.40,488.21 L659.00,489.05 L659.60,488.25 L660.20,487.95 L660.80,487.91 L661.40,488.59 L662.00,488.60 L662.60,487.96 L663.20,488.14 L663.80,488.77 L664.40,488.81 L665.00,488.34 L665.60,488.87 L666.20,488.88 L666.80,487.96 L667.40,488.57 L668.00,488.88 L668.60,488.51 L669.20,487.91 L669.80,488.67 L670.40,489.11 L671.00,489.47 L671.60,487.98 L672.20,489.93 L672.80,488.45 L673.40,489.31 L674.00,489.45 L674.60,489.37 L675.20,489.06 L675.80,488.56 L676.40,489.30 L677.00,488.78 L677.60,488.08 L678.20,490.25 L678.80,489.42 L679.40,489.89 L680.00,488.82 L680.60,489.79 L681.20,489.87 L681.80,489.88 L682.40,489.27 L683.00,488.82" fill="none" stroke="#3048a8" stroke-width="1.05" stroke-linejoin="round"/>
<path d="M417.20,486.97 L417.80,485.70 L418.40,485.89 L419.00,486.85 L419.60,486.11 L420.20,486.50 L420.80,486.43 L421.40,487.56 L422.00,487.08 L422.60,486.14 L423.20,486.81 L423.80,485.45 L424.40,485.60 L425.00,486.28 L425.60,484.78 L426.20,485.27 L426.80,484.46 L427.40,485.27 L428.00,486.14 L428.60,484.42 L429.20,484.94 L429.80,484.04 L430.40,483.73 L431.00,483.52 L431.60,485.23 L432.20,485.73 L432.80,484.28 L433.40,483.30 L434.00,484.15 L434.60,483.27 L435.20,483.93 L435.80,483.42 L436.40,483.25 L437.00,483.34 L437.60,482.30 L438.20,482.26 L438.80,481.11 L439.40,481.88 L440.00,480.96 L440.60,481.74 L441.20,480.92 L441.80,481.53 L442.40,481.60 L443.00,479.92 L443.60,480.16 L444.20,479.82 L444.80,480.93 L445.40,481.47 L446.00,480.52 L446.60,479.26 L447.20,480.46 L447.80,477.67 L448.40,479.86 L449.00,477.68 L449.60,475.47 L450.20,479.77 L450.80,478.43 L451.40,475.68 L452.00,476.28 L452.60,475.44 L453.20,475.22 L453.80,473.20 L454.40,473.37 L455.00,473.83 L455.60,472.91 L456.20,473.13 L456.80,471.21 L457.40,472.63 L458.00,468.54 L458.60,468.51 L459.20,465.07 L459.80,464.54 L460.40,466.03 L461.00,461.86 L461.60,461.69 L462.20,458.93 L462.80,455.48 L463.40,453.92 L464.00,451.17 L464.60,448.40 L465.20,446.86 L465.80,443.18 L466.40,437.63 L467.00,433.21 L467.60,431.11 L468.20,426.75 L468.80,424.97 L469.40,424.10 L470.00,417.56 L470.60,412.49 L471.20,408.67 L471.80,403.87 L472.40,400.19 L473.00,396.43 L473.60,393.96 L474.20,390.16 L474.80,388.62 L475.40,382.65 L476.00,379.40 L476.60,373.92 L477.20,376.61 L477.80,371.56 L478.40,371.66 L479.00,367.25 L479.60,366.76 L480.20,361.63 L480.80,362.39 L481.40,365.83 L482.00,357.45 L482.60,362.82 L483.20,364.36 L483.80,362.19 L484.40,363.71 L485.00,366.19 L485.60,363.86 L486.20,368.00 L486.80,367.41 L487.40,370.22 L488.00,372.95 L488.60,376.66 L489.20,380.01 L489.80,383.36 L490.40,382.36 L491.00,391.95 L491.60,393.24 L492.20,395.35 L492.80,396.22 L493.40,399.58 L494.00,403.48 L494.60,405.79 L495.20,404.52 L495.80,411.32 L496.40,417.53 L497.00,411.54 L497.60,418.77 L498.20,419.97 L498.80,421.42 L499.40,426.11 L500.00,424.15 L500.60,428.59 L501.20,432.94 L501.80,432.62 L502.40,434.56 L503.00,437.59 L503.60,438.89 L504.20,443.83 L504.80,442.16 L505.40,446.41 L506.00,444.97 L506.60,449.09 L507.20,449.39 L507.80,447.37 L508.40,452.08 L509.00,451.88 L509.60,453.85 L510.20,457.51 L510.80,455.22 L511.40,456.38 L512.00,460.54 L512.60,459.96 L513.20,462.74 L513.80,462.35 L514.40,462.01 L515.00,464.03 L515.60,466.55 L516.20,467.23 L516.80,467.17 L517.40,468.17 L518.00,468.89 L518.60,469.24 L519.20,472.61 L519.80,471.30 L520.40,470.77 L521.00,472.05 L521.60,473.85 L522.20,474.33 L522.80,474.14 L523.40,474.18 L524.00,475.37 L524.60,474.29 L525.20,475.14 L525.80,477.54 L526.40,476.82 L527.00,478.01 L527.60,479.15 L528.20,479.02 L528.80,478.83 L529.40,480.96 L530.00,480.01 L530.60,479.42 L531.20,480.57 L531.80,480.53 L532.40,479.71 L533.00,480.70 L533.60,480.73 L534.20,479.50 L534.80,481.15 L535.40,481.27 L536.00,481.34 L536.60,480.59 L537.20,481.77 L537.80,482.18 L538.40,482.44 L539.00,481.62 L539.60,483.09 L540.20,481.78 L540.80,482.62 L541.40,483.83 L542.00,482.36 L542.60,482.52 L543.20,483.70 L543.80,482.59 L544.40,482.63 L545.00,482.98 L545.60,483.56 L546.20,481.05 L546.80,482.02 L547.40,481.82 L548.00,481.68 L548.60,481.77 L549.20,481.69 L549.80,482.47 L550.40,481.45 L551.00,482.13 L551.60,482.25 L552.20,481.26 L552.80,481.83 L553.40,482.91 L554.00,481.76 L554.60,480.90 L555.20,481.25 L555.80,480.46 L556.40,481.29 L557.00,481.65 L557.60,480.16 L558.20,480.51 L558.80,481.44 L559.40,479.98 L560.00,480.39 L560.60,479.22 L561.20,479.23 L561.80,479.31 L562.40,481.36 L563.00,479.06 L563.60,478.78 L564.20,478.58 L564.80,478.74 L565.40,479.25 L566.00,478.68 L566.60,480.09 L567.20,478.33 L567.80,479.20 L568.40,478.00 L569.00,478.09 L569.60,476.09 L570.20,477.04 L570.80,476.88 L571.40,476.51 L572.00,474.59 L572.60,477.09 L573.20,475.74 L573.80,475.48 L574.40,475.43 L575.00,475.24 L575.60,475.61 L576.20,473.85 L576.80,473.95 L577.40,474.88 L578.00,474.53 L578.60,473.83 L579.20,473.43 L579.80,472.97 L580.40,473.50 L581.00,474.47 L581.60,472.11 L582.20,474.38 L582.80,473.50 L583.40,472.02 L584.00,473.00 L584.60,470.57 L585.20,470.07 L585.80,470.26 L586.40,470.89 L587.00,470.73 L587.60,470.29 L588.20,470.67 L588.80,468.15 L589.40,470.57 L590.00,468.35 L590.60,468.87 L591.20,468.86 L591.80,467.82 L592.40,467.32 L593.00,467.42 L593.60,468.18 L594.20,468.54 L594.80,468.23 L595.40,466.28 L596.00,466.20 L596.60,465.76 L597.20,466.91 L597.80,463.87 L598.40,467.09 L599.00,464.85 L599.60,464.15 L600.20,465.02 L600.80,465.42 L601.40,464.28 L602.00,464.72 L602.60,463.33 L603.20,464.23 L603.80,463.92 L604.40,462.06 L605.00,463.53 L605.60,461.78 L606.20,461.44 L606.80,460.03 L607.40,460.53 L608.00,461.54 L608.60,458.84 L609.20,460.92 L609.80,460.34 L610.40,460.03 L611.00,456.87 L611.60,459.16 L612.20,459.87 L612.80,458.00 L613.40,458.86 L614.00,455.74 L614.60,459.28 L615.20,457.56 L615.80,459.33 L616.40,455.98 L617.00,459.00 L617.60,457.83 L618.20,459.04 L618.80,456.91 L619.40,457.24 L620.00,460.67 L620.60,456.91 L621.20,457.03 L621.80,457.53 L622.40,456.60 L623.00,459.27 L623.60,459.90 L624.20,456.95 L624.80,455.71 L625.40,459.25 L626.00,459.24 L626.60,459.00 L627.20,459.53 L627.80,457.25 L628.40,458.27 L629.00,457.00 L629.60,457.16 L630.20,460.24 L630.80,458.47 L631.40,462.18 L632.00,459.74 L632.60,459.06 L633.20,460.92 L633.80,462.24 L634.40,460.83 L635.00,458.96 L635.60,460.95 L636.20,462.26 L636.80,460.20 L637.40,460.00 L638.00,462.22 L638.60,461.33 L639.20,460.02 L639.80,461.00 L640.40,460.71 L641.00,462.07 L641.60,462.01 L642.20,463.37 L642.80,463.03 L643.40,460.60 L644.00,463.05 L644.60,463.81 L645.20,463.52 L645.80,464.40 L646.40,462.85 L647.00,462.64 L647.60,465.00 L648.20,463.03 L648.80,462.07 L649.40,465.87 L650.00,464.20 L650.60,464.92 L651.20,463.99 L651.80,464.33 L652.40,464.77 L653.00,465.89 L653.60,466.92 L654.20,464.28 L654.80,467.80 L655.40,465.97 L656.00,466.33 L656.60,468.41 L657.20,467.85 L657.80,466.54 L658.40,470.33 L659.00,467.73 L659.60,469.12 L660.20,469.31 L660.80,470.80 L661.40,469.13 L662.00,470.88 L662.60,469.35 L663.20,471.50 L663.80,469.86 L664.40,470.54 L665.00,473.07 L665.60,471.77 L666.20,471.85 L666.80,474.23 L667.40,472.67 L668.00,471.82 L668.60,473.63 L669.20,472.09 L669.80,474.62 L670.40,475.01 L671.00,473.66 L671.60,473.96 L672.20,475.06 L672.80,475.29 L673.40,474.78 L674.00,476.58 L674.60,474.66 L675.20,476.53 L675.80,476.98 L676.40,477.52 L677.00,478.43 L677.60,477.53 L678.20,479.45 L678.80,479.20 L679.40,479.20 L680.00,479.01 L680.60,479.56 L681.20,481.16 L681.80,480.50 L682.40,481.68 L683.00,482.80" fill="none" stroke="#ee1d23" stroke-width="1.3" stroke-linejoin="round"/>
</g>
<path d="M417.5,293.25 V494.25 M416.75,493.5 H684.25 M683.5,494.25 V293.25 M684.25,294.0 H416.75" stroke="#333333" stroke-width="1.5" fill="none"/>
<path d="M442.81,493.5 v4.0 M495.12,493.5 v2.2 M547.42,493.5 v4.0 M599.72,493.5 v2.2 M652.02,493.5 v4.0 M417.5,490.10 h-4.0 M417.5,465.56 h-2.0 M417.5,441.03 h-4.0 M417.5,416.49 h-2.0 M417.5,391.95 h-4.0 M417.5,367.41 h-2.0 M417.5,342.88 h-4.0 M417.5,318.34 h-2.0 M417.5,293.80 h-4.0" stroke="#333" stroke-width="1.1" fill="none"/>
<text x="442.81" y="515.5" text-anchor="middle" font-family='"Liberation Serif", serif' font-size="19.5" fill="#111">600</text>
<text x="547.42" y="515.5" text-anchor="middle" font-family='"Liberation Serif", serif' font-size="19.5" fill="#111">700</text>
<text x="652.02" y="515.5" text-anchor="middle" font-family='"Liberation Serif", serif' font-size="19.5" fill="#111">800</text>
<text x="412.1" y="497.70" text-anchor="end" font-family='"Liberation Serif", serif' font-size="19.5" fill="#111">0</text>
<text x="410.8" y="447.33" text-anchor="end" font-family='"Liberation Serif", serif' font-size="19.5" fill="#111">300</text>
<text x="410.8" y="398.25" text-anchor="end" font-family='"Liberation Serif", serif' font-size="19.5" fill="#111">600</text>
<text x="410.8" y="349.18" text-anchor="end" font-family='"Liberation Serif", serif' font-size="19.5" fill="#111">900</text>
<text x="410.8" y="300.10" text-anchor="end" font-family='"Liberation Serif", serif' font-size="19.5" fill="#111">1200</text>
<text x="469.2" y="534.7" font-family='"Liberation Serif", serif' font-size="23.4" fill="#111">Wavelength (nm)</text>
<text transform="translate(372.1,451.5) rotate(-90)" font-family='"Liberation Serif", serif' font-size="23" fill="#111">PL (counts)</text>
<path d="M527,312.5 H559" stroke="#3048a8" stroke-width="1.0"/>
<path d="M527,333.8 H559" stroke="#ee1d23" stroke-width="1.7"/>
<text x="563.8" y="317.3" font-family='"Liberation Serif", serif' font-size="14" fill="#111">WS<tspan font-size="8" dy="6">2</tspan><tspan dy="-6">/TI</tspan></text>
<text x="563.8" y="338.9" font-family='"Liberation Serif", serif' font-size="14" fill="#111">WS<tspan font-size="8" dy="6">2</tspan><tspan dy="-6">/TI metasurface</tspan></text>
</svg></body></html>
